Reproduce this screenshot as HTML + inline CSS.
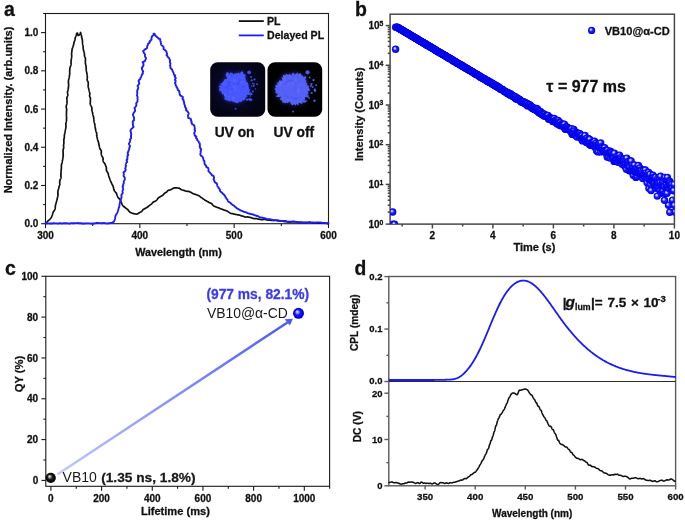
<!DOCTYPE html>
<html><head><meta charset="utf-8"><style>
html,body{margin:0;padding:0;background:#fff;}
body{width:685px;height:521px;overflow:hidden;font-family:"Liberation Sans", sans-serif;}
svg{display:block;will-change:transform;}
</style></head><body>
<svg width="685" height="521" viewBox="0 0 685 521" font-family='"Liberation Sans", sans-serif'><line x1="45.50" y1="223.70" x2="45.50" y2="228.10" stroke="#1a1a1a" stroke-width="1.1"/>
<text x="45.50" y="238.90" font-size="10" text-anchor="middle" font-weight="bold" fill="#111"  stroke="#111" stroke-width="0.28">300</text>
<line x1="92.67" y1="223.70" x2="92.67" y2="226.10" stroke="#1a1a1a" stroke-width="1.1"/>
<line x1="139.83" y1="223.70" x2="139.83" y2="228.10" stroke="#1a1a1a" stroke-width="1.1"/>
<text x="139.83" y="238.90" font-size="10" text-anchor="middle" font-weight="bold" fill="#111"  stroke="#111" stroke-width="0.28">400</text>
<line x1="187.00" y1="223.70" x2="187.00" y2="226.10" stroke="#1a1a1a" stroke-width="1.1"/>
<line x1="234.17" y1="223.70" x2="234.17" y2="228.10" stroke="#1a1a1a" stroke-width="1.1"/>
<text x="234.17" y="238.90" font-size="10" text-anchor="middle" font-weight="bold" fill="#111"  stroke="#111" stroke-width="0.28">500</text>
<line x1="281.33" y1="223.70" x2="281.33" y2="226.10" stroke="#1a1a1a" stroke-width="1.1"/>
<line x1="328.50" y1="223.70" x2="328.50" y2="228.10" stroke="#1a1a1a" stroke-width="1.1"/>
<text x="328.50" y="238.90" font-size="10" text-anchor="middle" font-weight="bold" fill="#111"  stroke="#111" stroke-width="0.28">600</text>
<line x1="45.50" y1="223.70" x2="41.10" y2="223.70" stroke="#1a1a1a" stroke-width="1.1"/>
<text x="38.40" y="227.30" font-size="10" text-anchor="end" font-weight="bold" fill="#111"  stroke="#111" stroke-width="0.28">0.0</text>
<line x1="45.50" y1="204.59" x2="43.10" y2="204.59" stroke="#1a1a1a" stroke-width="1.1"/>
<line x1="45.50" y1="185.48" x2="41.10" y2="185.48" stroke="#1a1a1a" stroke-width="1.1"/>
<text x="38.40" y="189.08" font-size="10" text-anchor="end" font-weight="bold" fill="#111"  stroke="#111" stroke-width="0.28">0.2</text>
<line x1="45.50" y1="166.37" x2="43.10" y2="166.37" stroke="#1a1a1a" stroke-width="1.1"/>
<line x1="45.50" y1="147.26" x2="41.10" y2="147.26" stroke="#1a1a1a" stroke-width="1.1"/>
<text x="38.40" y="150.86" font-size="10" text-anchor="end" font-weight="bold" fill="#111"  stroke="#111" stroke-width="0.28">0.4</text>
<line x1="45.50" y1="128.15" x2="43.10" y2="128.15" stroke="#1a1a1a" stroke-width="1.1"/>
<line x1="45.50" y1="109.05" x2="41.10" y2="109.05" stroke="#1a1a1a" stroke-width="1.1"/>
<text x="38.40" y="112.65" font-size="10" text-anchor="end" font-weight="bold" fill="#111"  stroke="#111" stroke-width="0.28">0.6</text>
<line x1="45.50" y1="89.94" x2="43.10" y2="89.94" stroke="#1a1a1a" stroke-width="1.1"/>
<line x1="45.50" y1="70.83" x2="41.10" y2="70.83" stroke="#1a1a1a" stroke-width="1.1"/>
<text x="38.40" y="74.43" font-size="10" text-anchor="end" font-weight="bold" fill="#111"  stroke="#111" stroke-width="0.28">0.8</text>
<line x1="45.50" y1="51.72" x2="43.10" y2="51.72" stroke="#1a1a1a" stroke-width="1.1"/>
<line x1="45.50" y1="32.61" x2="41.10" y2="32.61" stroke="#1a1a1a" stroke-width="1.1"/>
<text x="38.40" y="36.21" font-size="10" text-anchor="end" font-weight="bold" fill="#111"  stroke="#111" stroke-width="0.28">1.0</text>
<line x1="45.50" y1="13.50" x2="43.10" y2="13.50" stroke="#1a1a1a" stroke-width="1.1"/>
<rect x="45.50" y="13.50" width="283.00" height="210.20" fill="none" stroke="#1a1a1a" stroke-width="1.1"/>
<text x="4.00" y="16.40" font-size="19.5" text-anchor="start" font-weight="bold" fill="#111"  stroke="#111" stroke-width="0.28">a</text>
<text x="135.20" y="255.70" font-size="10.8" text-anchor="start" font-weight="bold" fill="#111"  stroke="#111" stroke-width="0.28">Wavelength (nm)</text>
<text transform="translate(11.6,110) rotate(-90)" font-size="11" text-anchor="middle" font-weight="bold" fill="#111" stroke="#111" stroke-width="0.28">Normalized Intensity. (arb.units)</text>
<path d="M45.45,223.14 L45.69,223.01 L46.01,222.86 L46.33,222.63 L46.67,222.34 L47.00,221.99 L47.33,221.62 L47.66,221.24 L47.99,220.87 L48.34,220.55 L48.62,220.29 L48.93,220.05 L49.25,219.80 L49.55,219.54 L49.86,219.27 L50.14,218.97 L50.39,218.65 L50.65,218.32 L50.89,217.97 L51.10,217.61 L51.33,217.24 L51.51,216.89 L51.67,216.52 L51.85,216.15 L52.01,215.76 L52.18,215.39 L52.32,214.99 L52.43,214.58 L52.55,214.17 L52.66,213.76 L52.75,213.35 L52.87,212.95 L53.01,212.57 L53.16,212.20 L53.36,211.86 L53.57,211.52 L53.78,211.18 L54.04,210.86 L54.25,210.52 L54.47,210.18 L54.68,209.83 L54.85,209.46 L54.98,209.07 L55.09,208.67 L55.18,208.26 L55.20,207.85 L55.25,207.44 L55.29,207.03 L55.32,206.61 L55.37,206.20 L55.41,205.78 L55.50,205.37 L55.58,204.95 L55.65,204.54 L55.74,204.13 L55.86,203.73 L55.95,203.32 L56.04,202.92 L56.16,202.53 L56.25,202.14 L56.38,201.76 L56.49,201.39 L56.61,201.01 L56.71,200.63 L56.83,200.25 L56.96,199.86 L57.06,199.46 L57.13,199.04 L57.21,198.61 L57.32,198.17 L57.42,197.70 L57.50,197.33 L57.62,196.95 L57.71,196.55 L57.83,196.14 L57.91,195.72 L57.99,195.29 L57.97,194.84 L57.95,194.39 L57.90,193.93 L57.88,193.48 L57.84,193.03 L57.84,192.59 L57.84,192.15 L57.87,191.73 L57.93,191.33 L58.00,190.94 L58.08,190.57 L58.18,190.11 L58.30,189.66 L58.45,189.24 L58.59,188.84 L58.71,188.44 L58.81,188.05 L58.87,187.66 L58.95,187.27 L59.01,186.89 L59.09,186.51 L59.19,186.12 L59.35,185.74 L59.49,185.35 L59.66,185.00 L59.77,184.69 L59.86,184.42 L59.84,184.13 L59.81,183.84 L59.76,183.54 L59.69,183.20 L59.65,182.84 L59.66,182.43 L59.69,181.96 L59.77,181.40 L59.89,180.75 L60.04,179.98 L60.13,179.71 L60.24,179.44 L60.39,179.16 L60.57,178.87 L60.72,178.56 L60.84,178.24 L60.94,177.91 L60.98,177.57 L61.01,177.21 L60.99,176.84 L60.95,176.46 L60.89,176.07 L60.88,175.68 L60.87,175.28 L60.86,174.88 L60.86,174.47 L60.90,174.06 L60.92,173.64 L60.97,173.21 L61.01,172.79 L61.05,172.36 L61.08,171.92 L61.11,171.48 L61.13,171.03 L61.14,170.59 L61.15,170.14 L61.21,169.69 L61.26,169.24 L61.32,168.79 L61.36,168.33 L61.40,167.88 L61.40,167.42 L61.39,166.96 L61.37,166.50 L61.36,166.04 L61.36,165.59 L61.41,165.14 L61.49,164.70 L61.59,164.26 L61.73,163.83 L61.86,163.40 L61.99,163.03 L62.08,162.66 L62.16,162.29 L62.22,161.91 L62.27,161.53 L62.32,161.14 L62.36,160.76 L62.45,160.37 L62.54,159.99 L62.64,159.60 L62.73,159.22 L62.78,158.82 L62.86,158.43 L62.88,158.03 L62.94,157.64 L62.99,157.24 L63.05,156.84 L63.12,156.44 L63.20,156.04 L63.24,155.64 L63.23,155.23 L63.21,154.82 L63.18,154.41 L63.13,153.99 L63.14,153.58 L63.12,153.17 L63.14,152.76 L63.14,152.35 L63.14,151.93 L63.12,151.52 L63.09,151.10 L63.05,150.69 L63.05,150.27 L63.10,149.86 L63.20,149.46 L63.32,149.06 L63.48,148.66 L63.59,148.26 L63.70,147.86 L63.72,147.45 L63.70,147.04 L63.65,146.63 L63.60,146.21 L63.56,145.80 L63.56,145.39 L63.61,144.99 L63.67,144.59 L63.74,144.19 L63.80,143.80 L63.85,143.40 L63.89,143.00 L63.88,142.60 L63.90,142.21 L63.88,141.81 L63.87,141.41 L63.83,141.02 L63.83,140.62 L63.85,140.23 L63.85,139.84 L63.91,139.45 L63.99,139.07 L64.07,138.69 L64.17,138.31 L64.25,137.93 L64.29,137.54 L64.31,137.15 L64.33,136.76 L64.33,136.37 L64.34,135.98 L64.35,135.59 L64.40,135.20 L64.47,134.82 L64.53,134.43 L64.61,134.04 L64.69,133.65 L64.76,133.26 L64.84,132.87 L64.91,132.48 L64.96,132.08 L65.02,131.69 L65.11,131.29 L65.19,130.89 L65.25,130.49 L65.32,130.09 L65.41,129.68 L65.53,129.28 L65.62,128.87 L65.72,128.46 L65.78,128.04 L65.86,127.62 L65.91,127.20 L65.95,126.77 L65.96,126.34 L65.95,125.90 L65.94,125.46 L65.91,125.02 L65.88,124.64 L65.87,124.27 L65.84,123.89 L65.88,123.52 L65.92,123.14 L66.00,122.76 L66.11,122.38 L66.23,121.99 L66.31,121.60 L66.39,121.21 L66.45,120.82 L66.48,120.42 L66.49,120.02 L66.49,119.61 L66.50,119.21 L66.52,118.80 L66.53,118.39 L66.54,117.98 L66.56,117.57 L66.54,117.16 L66.51,116.74 L66.50,116.33 L66.44,115.91 L66.42,115.49 L66.42,115.07 L66.43,114.66 L66.46,114.24 L66.46,113.82 L66.49,113.41 L66.51,112.99 L66.48,112.57 L66.47,112.15 L66.48,111.73 L66.51,111.32 L66.56,110.90 L66.62,110.49 L66.66,110.08 L66.68,109.67 L66.65,109.25 L66.57,108.84 L66.49,108.42 L66.39,108.01 L66.27,107.59 L66.22,107.19 L66.19,106.78 L66.21,106.38 L66.25,105.98 L66.35,105.59 L66.48,105.20 L66.60,104.82 L66.71,104.43 L66.83,104.05 L66.91,103.67 L66.94,103.29 L66.96,102.91 L66.96,102.54 L66.97,102.17 L66.99,101.80 L67.03,101.36 L67.05,100.92 L67.04,100.49 L67.02,100.05 L66.96,99.62 L66.88,99.19 L66.81,98.76 L66.75,98.33 L66.79,97.92 L66.88,97.51 L67.03,97.10 L67.22,96.71 L67.44,96.31 L67.63,95.92 L67.79,95.53 L67.87,95.13 L67.84,94.73 L67.80,94.33 L67.71,93.92 L67.62,93.52 L67.54,93.11 L67.47,92.71 L67.48,92.32 L67.53,91.93 L67.59,91.54 L67.69,91.16 L67.80,90.78 L67.88,90.40 L67.97,90.01 L68.09,89.64 L68.14,89.25 L68.21,88.87 L68.25,88.48 L68.33,88.10 L68.39,87.72 L68.42,87.33 L68.49,86.94 L68.54,86.56 L68.57,86.17 L68.59,85.78 L68.61,85.39 L68.60,84.99 L68.59,84.60 L68.56,84.20 L68.53,83.80 L68.51,83.40 L68.45,82.99 L68.42,82.58 L68.38,82.18 L68.36,81.77 L68.38,81.37 L68.40,80.97 L68.46,80.57 L68.53,80.17 L68.63,79.78 L68.71,79.38 L68.84,78.99 L68.96,78.60 L69.05,78.21 L69.16,77.81 L69.25,77.42 L69.33,77.02 L69.35,76.62 L69.38,76.22 L69.41,75.82 L69.44,75.42 L69.50,75.02 L69.58,74.62 L69.65,74.23 L69.70,73.83 L69.75,73.43 L69.76,73.03 L69.76,72.62 L69.73,72.22 L69.70,71.81 L69.68,71.41 L69.70,71.00 L69.73,70.60 L69.75,70.20 L69.76,69.80 L69.78,69.40 L69.83,69.00 L69.86,68.60 L69.88,68.19 L69.96,67.80 L70.05,67.40 L70.18,67.01 L70.32,66.62 L70.49,66.24 L70.63,65.85 L70.78,65.46 L70.89,65.07 L70.99,64.68 L71.03,64.28 L71.06,63.87 L71.04,63.47 L71.05,63.06 L71.05,62.65 L71.04,62.23 L71.05,61.80 L71.07,61.38 L71.10,60.95 L71.13,60.52 L71.17,60.08 L71.24,59.65 L71.29,59.21 L71.36,58.77 L71.42,58.33 L71.52,57.89 L71.59,57.45 L71.65,57.00 L71.70,56.56 L71.72,56.11 L71.70,55.65 L71.66,55.19 L71.63,54.73 L71.60,54.28 L71.57,53.82 L71.59,53.38 L71.63,52.94 L71.71,52.51 L71.78,52.08 L71.83,51.65 L71.91,51.23 L71.95,50.81 L71.97,50.39 L72.01,49.98 L72.07,49.58 L72.14,49.18 L72.23,48.79 L72.37,48.42 L72.48,48.05 L72.62,47.69 L72.72,47.33 L72.85,46.99 L72.95,46.65 L73.05,46.32 L73.15,45.99 L73.26,45.68 L73.38,45.38 L73.49,45.09 L73.59,44.81 L73.68,44.53 L73.72,44.26 L73.85,43.52 L73.97,42.86 L74.09,42.28 L74.23,41.77 L74.37,41.33 L74.53,40.96 L74.69,40.63 L74.84,40.34 L74.96,40.05 L75.03,39.77 L75.07,39.48 L75.06,39.17 L75.08,38.86 L75.10,38.55 L75.14,38.23 L75.22,37.90 L75.37,37.44 L75.55,36.96 L75.72,36.47 L75.92,35.99 L76.08,35.51 L76.22,35.04 L76.36,34.60 L76.48,34.18 L76.60,33.81 L76.73,33.50 L76.88,33.24 L77.13,33.04 L77.51,33.12 L77.65,33.61 L77.70,34.27 L77.76,34.91 L78.21,35.49 L79.01,35.25 L79.43,34.76 L79.72,34.28 L80.01,33.89 L80.35,33.30 L80.64,32.68 L80.47,32.49 L80.73,32.99 L80.77,33.11 L80.81,33.32 L80.86,33.56 L80.93,33.81 L81.00,34.08 L81.09,34.36 L81.21,34.66 L81.30,34.99 L81.41,35.32 L81.48,35.68 L81.54,36.06 L81.57,36.46 L81.64,36.86 L81.70,37.28 L81.79,37.71 L81.90,38.14 L82.02,38.59 L82.15,39.05 L82.26,39.52 L82.35,40.00 L82.42,40.50 L82.45,41.01 L82.47,41.53 L82.48,42.06 L82.51,42.59 L82.53,43.13 L82.58,43.68 L82.67,44.22 L82.75,44.54 L82.86,44.86 L82.96,45.18 L83.02,45.52 L83.09,45.87 L83.12,46.22 L83.12,46.59 L83.10,46.97 L83.11,47.34 L83.10,47.73 L83.15,48.11 L83.20,48.49 L83.27,48.88 L83.35,49.26 L83.42,49.66 L83.50,50.05 L83.59,50.45 L83.67,50.85 L83.78,51.25 L83.91,51.65 L84.04,52.06 L84.15,52.47 L84.27,52.87 L84.34,53.29 L84.41,53.71 L84.43,54.14 L84.41,54.58 L84.39,55.02 L84.42,55.45 L84.50,55.87 L84.61,56.29 L84.75,56.71 L84.93,57.12 L85.14,57.52 L85.31,57.93 L85.44,58.35 L85.51,58.77 L85.50,59.21 L85.46,59.65 L85.42,60.08 L85.39,60.52 L85.34,60.95 L85.33,61.37 L85.34,61.79 L85.35,62.21 L85.37,62.62 L85.42,63.03 L85.47,63.43 L85.52,63.83 L85.60,64.23 L85.69,64.62 L85.80,65.01 L85.91,65.41 L85.96,65.81 L86.03,66.20 L86.05,66.61 L86.10,67.01 L86.15,67.41 L86.16,67.81 L86.17,68.22 L86.18,68.62 L86.20,69.02 L86.21,69.43 L86.23,69.83 L86.26,70.23 L86.30,70.63 L86.38,71.03 L86.46,71.43 L86.56,71.82 L86.64,72.21 L86.73,72.61 L86.83,73.00 L86.91,73.40 L86.99,73.80 L87.04,74.20 L87.10,74.59 L87.13,75.00 L87.15,75.40 L87.22,75.80 L87.26,76.20 L87.30,76.60 L87.33,77.00 L87.35,77.40 L87.32,77.81 L87.24,78.23 L87.19,78.64 L87.12,79.05 L87.09,79.46 L87.11,79.87 L87.23,80.26 L87.39,80.64 L87.57,81.03 L87.79,81.41 L87.98,81.79 L88.11,82.18 L88.21,82.57 L88.28,82.97 L88.29,83.37 L88.26,83.78 L88.25,84.18 L88.23,84.58 L88.21,84.99 L88.19,85.39 L88.19,85.78 L88.20,86.18 L88.22,86.57 L88.26,86.96 L88.32,87.34 L88.41,87.73 L88.52,88.11 L88.63,88.48 L88.75,88.86 L88.85,89.24 L88.96,89.62 L89.03,90.00 L89.10,90.39 L89.18,90.77 L89.24,91.16 L89.34,91.54 L89.45,91.92 L89.58,92.30 L89.68,92.68 L89.78,93.07 L89.84,93.46 L89.84,93.87 L89.79,94.28 L89.72,94.69 L89.65,95.11 L89.59,95.53 L89.58,95.94 L89.66,96.34 L89.80,96.74 L89.98,97.13 L90.16,97.52 L90.31,97.92 L90.42,98.33 L90.47,98.75 L90.46,99.18 L90.42,99.62 L90.38,100.07 L90.37,100.51 L90.36,100.95 L90.39,101.40 L90.36,101.85 L90.33,102.23 L90.30,102.62 L90.25,103.01 L90.21,103.41 L90.22,103.79 L90.30,104.18 L90.42,104.55 L90.60,104.92 L90.77,105.30 L90.97,105.67 L91.19,106.04 L91.38,106.42 L91.54,106.80 L91.66,107.20 L91.75,107.60 L91.83,108.00 L91.90,108.41 L91.90,108.83 L91.92,109.25 L91.93,109.67 L91.95,110.09 L92.02,110.50 L92.09,110.92 L92.19,111.33 L92.29,111.74 L92.41,112.15 L92.52,112.56 L92.62,112.97 L92.69,113.39 L92.73,113.81 L92.80,114.23 L92.88,114.64 L93.00,115.05 L93.13,115.46 L93.24,115.87 L93.37,116.27 L93.49,116.68 L93.57,117.09 L93.67,117.49 L93.74,117.91 L93.76,118.32 L93.81,118.73 L93.86,119.14 L93.92,119.55 L93.92,119.97 L93.95,120.37 L93.98,120.78 L94.02,121.18 L94.09,121.58 L94.15,121.97 L94.28,122.35 L94.36,122.73 L94.48,123.11 L94.61,123.48 L94.70,123.85 L94.78,124.22 L94.83,124.59 L94.90,124.96 L94.93,125.40 L94.98,125.84 L95.02,126.27 L95.07,126.70 L95.15,127.11 L95.22,127.53 L95.30,127.94 L95.37,128.36 L95.44,128.77 L95.52,129.17 L95.59,129.58 L95.67,129.98 L95.74,130.38 L95.84,130.77 L95.94,131.16 L96.07,131.54 L96.21,131.92 L96.37,132.29 L96.52,132.67 L96.63,133.05 L96.72,133.43 L96.74,133.82 L96.73,134.23 L96.70,134.63 L96.65,135.04 L96.67,135.43 L96.72,135.82 L96.81,136.19 L96.92,136.56 L97.07,136.93 L97.16,137.31 L97.23,137.69 L97.28,138.07 L97.32,138.46 L97.38,138.84 L97.47,139.22 L97.58,139.59 L97.72,139.96 L97.86,140.33 L98.00,140.70 L98.12,141.07 L98.22,141.45 L98.31,141.83 L98.43,142.21 L98.53,142.59 L98.63,142.98 L98.72,143.36 L98.82,143.75 L98.88,144.15 L98.95,144.54 L99.03,144.93 L99.10,145.32 L99.20,145.71 L99.29,146.10 L99.37,146.49 L99.46,146.87 L99.55,147.26 L99.63,147.65 L99.72,148.04 L99.83,148.43 L99.99,148.80 L100.20,149.15 L100.44,149.50 L100.67,149.85 L100.91,150.19 L101.12,150.55 L101.27,150.92 L101.35,151.31 L101.35,151.73 L101.34,152.15 L101.30,152.58 L101.27,153.01 L101.26,153.43 L101.27,153.85 L101.33,154.25 L101.39,154.65 L101.50,155.04 L101.63,155.42 L101.79,155.80 L101.96,156.16 L102.18,156.52 L102.41,156.87 L102.63,157.22 L102.83,157.58 L102.98,157.95 L103.08,158.34 L103.14,158.75 L103.14,159.17 L103.11,159.61 L103.07,160.04 L103.08,160.47 L103.10,160.88 L103.19,161.28 L103.34,161.65 L103.55,162.01 L103.80,162.35 L104.09,162.68 L104.39,163.01 L104.63,163.36 L104.86,163.71 L105.05,164.07 L105.22,164.44 L105.34,164.83 L105.46,165.21 L105.61,165.59 L105.76,165.96 L105.93,166.33 L106.11,166.70 L106.24,167.08 L106.34,167.47 L106.38,167.88 L106.40,168.30 L106.38,168.73 L106.34,169.16 L106.32,169.59 L106.36,170.01 L106.43,170.41 L106.59,170.78 L106.79,171.14 L107.00,171.50 L107.22,171.85 L107.46,172.20 L107.68,172.55 L107.86,172.92 L108.01,173.29 L108.16,173.67 L108.28,174.06 L108.40,174.44 L108.48,174.85 L108.57,175.24 L108.66,175.65 L108.77,176.04 L108.89,176.43 L109.02,176.81 L109.16,177.20 L109.32,177.58 L109.48,177.95 L109.63,178.33 L109.74,178.73 L109.86,179.12 L109.97,179.52 L110.12,179.90 L110.27,180.29 L110.43,180.67 L110.58,181.06 L110.77,181.43 L110.96,181.80 L111.15,182.17 L111.31,182.55 L111.46,182.92 L111.62,183.29 L111.79,183.65 L111.97,184.02 L112.13,184.40 L112.32,184.78 L112.53,185.14 L112.73,185.51 L112.93,185.89 L113.11,186.28 L113.25,186.69 L113.37,187.11 L113.47,187.55 L113.55,187.99 L113.61,188.45 L113.70,188.89 L113.79,189.34 L113.94,189.76 L114.08,190.18 L114.28,190.58 L114.53,190.95 L114.81,191.31 L115.10,191.65 L115.41,191.99 L115.73,192.32 L116.00,192.67 L116.24,193.04 L116.46,193.41 L116.63,193.81 L116.79,194.21 L116.93,194.62 L117.09,195.01 L117.21,195.42 L117.35,195.82 L117.50,196.21 L117.63,196.60 L117.77,196.99 L117.92,197.36 L118.16,197.68 L118.41,197.98 L118.72,198.26 L119.04,198.51 L119.36,198.76 L119.64,199.02 L119.88,199.30 L120.06,199.61 L120.19,199.93 L120.30,200.26 L120.41,200.58 L120.55,200.87 L120.68,201.16 L120.81,201.44 L120.93,201.72 L121.19,202.28 L121.47,202.80 L121.68,203.34 L121.89,203.86 L122.09,204.36 L122.34,204.80 L122.59,205.23 L122.86,205.61 L123.16,205.94 L123.46,206.25 L123.77,206.53 L124.09,206.78 L124.41,207.02 L124.70,207.25 L124.97,207.50 L125.26,207.71 L125.52,207.93 L125.78,208.14 L126.04,208.34 L126.32,208.51 L126.57,208.70 L126.84,208.87 L127.10,209.04 L127.36,209.21 L127.57,209.43 L127.96,209.88 L128.31,210.29 L128.62,210.68 L128.90,211.04 L129.16,211.37 L129.42,211.67 L129.70,211.93 L129.98,212.16 L130.30,212.35 L130.61,212.54 L130.95,212.71 L131.31,212.88 L131.70,213.03 L132.10,213.18 L132.51,213.32 L132.94,213.42 L133.36,213.55 L133.79,213.63 L134.21,213.73 L134.62,213.83 L135.02,213.91 L135.42,213.98 L135.82,214.03 L136.21,214.05 L136.60,214.03 L136.95,214.00 L137.27,213.93 L137.57,213.83 L137.88,213.69 L138.16,213.46 L138.50,213.26 L138.87,213.00 L139.33,212.72 L139.88,212.40 L140.53,212.05 L140.81,211.96 L141.08,211.82 L141.35,211.67 L141.61,211.47 L141.85,211.22 L142.07,210.92 L142.27,210.58 L142.52,210.28 L142.76,209.96 L143.05,209.70 L143.37,209.46 L143.71,209.24 L144.07,209.02 L144.45,208.82 L144.84,208.63 L145.21,208.41 L145.58,208.18 L145.97,207.96 L146.36,207.73 L146.77,207.53 L147.15,207.29 L147.53,207.04 L147.91,206.80 L148.26,206.51 L148.59,206.21 L148.93,205.92 L149.26,205.61 L149.61,205.33 L149.96,205.07 L150.31,204.81 L150.68,204.58 L151.03,204.33 L151.32,204.08 L151.62,203.82 L151.90,203.53 L152.17,203.21 L152.45,202.90 L152.73,202.59 L153.04,202.30 L153.39,202.07 L153.77,201.85 L154.16,201.66 L154.58,201.49 L154.98,201.30 L155.38,201.11 L155.76,200.90 L156.11,200.64 L156.44,200.36 L156.73,200.04 L157.00,199.70 L157.26,199.35 L157.51,198.99 L157.76,198.63 L158.02,198.30 L158.30,197.99 L158.58,197.70 L158.91,197.47 L159.25,197.27 L159.58,197.06 L159.92,196.88 L160.24,196.68 L160.56,196.50 L160.87,196.32 L161.18,196.16 L161.49,196.00 L161.77,195.84 L162.05,195.69 L162.52,195.35 L162.96,195.02 L163.32,194.64 L163.64,194.26 L163.96,193.91 L164.26,193.58 L164.57,193.29 L164.90,193.06 L165.23,192.85 L165.57,192.67 L165.90,192.50 L166.23,192.33 L166.51,192.10 L166.77,191.85 L167.01,191.55 L167.25,191.26 L167.52,190.98 L167.82,190.72 L168.20,190.48 L168.61,190.28 L169.05,190.13 L169.51,190.01 L169.97,189.90 L170.41,189.77 L170.85,189.63 L171.26,189.48 L171.63,189.27 L171.99,189.06 L172.33,188.84 L172.65,188.61 L172.97,188.40 L173.30,188.23 L173.61,188.09 L173.93,188.00 L174.40,187.93 L174.82,187.90 L175.21,187.89 L175.57,187.92 L175.93,187.96 L176.30,187.97 L176.70,187.97 L177.12,188.00 L177.57,188.01 L178.06,188.04 L178.39,188.06 L178.70,188.10 L179.00,188.16 L179.29,188.26 L179.56,188.44 L179.83,188.61 L180.12,188.79 L180.42,189.00 L180.74,189.23 L181.09,189.45 L181.50,189.64 L181.96,189.82 L182.48,189.99 L183.06,190.16 L183.72,190.33 L184.00,190.41 L184.30,190.50 L184.60,190.61 L184.90,190.76 L185.21,190.91 L185.54,191.05 L185.89,191.16 L186.27,191.22 L186.66,191.26 L187.08,191.28 L187.49,191.30 L187.92,191.32 L188.35,191.37 L188.77,191.45 L189.19,191.55 L189.59,191.72 L189.99,191.91 L190.39,192.09 L190.79,192.31 L191.18,192.53 L191.58,192.76 L191.98,192.97 L192.38,193.19 L192.78,193.41 L193.18,193.64 L193.58,193.84 L193.99,194.03 L194.42,194.16 L194.84,194.29 L195.28,194.39 L195.70,194.51 L196.12,194.63 L196.52,194.77 L196.92,194.93 L197.30,195.08 L197.69,195.22 L198.06,195.38 L198.45,195.54 L198.83,195.72 L199.20,195.91 L199.54,196.15 L199.88,196.41 L200.19,196.70 L200.51,196.96 L200.84,197.20 L201.18,197.44 L201.52,197.65 L201.87,197.87 L202.20,198.11 L202.53,198.34 L202.85,198.60 L203.16,198.87 L203.47,199.14 L203.81,199.37 L204.14,199.59 L204.49,199.81 L204.84,200.02 L205.20,200.22 L205.55,200.43 L205.89,200.65 L206.25,200.85 L206.61,201.05 L206.96,201.25 L207.32,201.46 L207.69,201.64 L208.05,201.83 L208.40,202.04 L208.75,202.26 L209.10,202.47 L209.46,202.66 L209.83,202.84 L210.22,202.99 L210.60,203.13 L210.98,203.29 L211.34,203.46 L211.67,203.70 L211.98,203.98 L212.27,204.30 L212.54,204.67 L212.80,205.03 L213.09,205.37 L213.40,205.67 L213.73,205.93 L214.08,206.13 L214.46,206.31 L214.84,206.47 L215.23,206.62 L215.62,206.77 L216.00,206.92 L216.39,207.08 L216.77,207.24 L217.17,207.36 L217.57,207.48 L217.96,207.62 L218.35,207.75 L218.74,207.88 L219.12,208.05 L219.49,208.23 L219.85,208.41 L220.22,208.59 L220.59,208.75 L220.97,208.89 L221.36,209.01 L221.75,209.14 L222.13,209.27 L222.51,209.40 L222.88,209.53 L223.24,209.70 L223.63,209.86 L224.02,209.99 L224.40,210.15 L224.78,210.29 L225.17,210.42 L225.55,210.55 L225.94,210.66 L226.31,210.79 L226.68,210.91 L227.05,211.05 L227.40,211.23 L227.75,211.42 L228.09,211.62 L228.41,211.86 L228.74,212.11 L229.06,212.35 L229.39,212.59 L229.73,212.82 L230.08,213.03 L230.44,213.20 L230.82,213.35 L231.21,213.46 L231.61,213.54 L232.03,213.59 L232.45,213.66 L232.86,213.74 L233.27,213.85 L233.69,213.96 L234.11,214.06 L234.53,214.18 L234.96,214.29 L235.41,214.37 L235.86,214.45 L236.32,214.52 L236.68,214.59 L237.04,214.67 L237.41,214.73 L237.77,214.82 L238.15,214.87 L238.53,214.90 L238.91,214.98 L239.29,215.07 L239.67,215.17 L240.04,215.31 L240.41,215.47 L240.79,215.62 L241.17,215.77 L241.57,215.88 L241.96,215.97 L242.37,216.05 L242.77,216.12 L243.17,216.26 L243.56,216.42 L243.96,216.56 L244.35,216.74 L244.75,216.89 L245.16,216.99 L245.58,217.04 L246.02,217.03 L246.46,216.98 L246.89,216.94 L247.33,216.92 L247.76,216.92 L248.18,216.97 L248.60,217.05 L249.00,217.17 L249.41,217.29 L249.82,217.38 L250.23,217.48 L250.64,217.59 L251.05,217.67 L251.46,217.77 L251.86,217.90 L252.26,218.02 L252.65,218.18 L253.04,218.34 L253.43,218.45 L253.83,218.53 L254.23,218.57 L254.64,218.58 L255.05,218.56 L255.46,218.55 L255.87,218.54 L256.27,218.57 L256.66,218.63 L257.05,218.73 L257.44,218.85 L257.83,218.94 L258.22,219.03 L258.61,219.13 L259.00,219.19 L259.39,219.25 L259.78,219.35 L260.17,219.41 L260.56,219.49 L260.96,219.55 L261.35,219.60 L261.75,219.65 L262.15,219.64 L262.55,219.60 L262.96,219.56 L263.37,219.50 L263.77,219.47 L264.18,219.45 L264.58,219.46 L264.98,219.46 L265.37,219.53 L265.76,219.61 L266.16,219.71 L266.55,219.80 L266.95,219.87 L267.34,219.97 L267.74,220.03 L268.14,220.07 L268.55,220.09 L268.95,220.11 L269.36,220.15 L269.76,220.17 L270.17,220.23 L270.58,220.28 L270.98,220.33 L271.39,220.38 L271.79,220.41 L272.18,220.42 L272.58,220.41 L272.98,220.39 L273.38,220.38 L273.78,220.35 L274.18,220.33 L274.58,220.32 L274.98,220.33 L275.37,220.36 L275.77,220.43 L276.16,220.49 L276.55,220.58 L276.95,220.67 L277.34,220.76 L277.74,220.83 L278.14,220.90 L278.54,220.92 L278.94,220.94 L279.34,220.95 L279.75,220.97 L280.15,220.97 L280.56,220.97 L280.96,220.98 L281.37,221.01 L281.77,221.05 L282.17,221.09 L282.58,221.17 L282.98,221.25 L283.38,221.35 L283.79,221.45 L284.19,221.53 L284.60,221.58 L285.01,221.61 L285.42,221.61 L285.84,221.61 L286.25,221.65 L286.66,221.69 L287.07,221.75 L287.48,221.86 L287.89,221.94 L288.31,222.03 L288.72,222.10 L289.14,222.08 L289.56,222.08 L289.99,222.01 L290.38,221.91 L290.78,221.83 L291.17,221.76 L291.57,221.68 L291.97,221.67 L292.36,221.66 L292.76,221.65 L293.16,221.65 L293.56,221.63 L293.96,221.62 L294.36,221.63 L294.76,221.61 L295.16,221.67 L295.56,221.75 L295.96,221.84 L296.36,221.96 L296.76,222.10 L297.16,222.21 L297.57,222.30 L297.97,222.37 L298.38,222.43 L298.78,222.47 L299.19,222.50 L299.60,222.52 L300.00,222.52 L300.41,222.49 L300.82,222.47 L301.23,222.45 L301.64,222.44 L302.05,222.42 L302.46,222.43 L302.86,222.48 L303.26,222.55 L303.67,222.58 L304.07,222.63 L304.47,222.66 L304.87,222.70 L305.28,222.71 L305.68,222.72 L306.08,222.73 L306.48,222.72 L306.87,222.69 L307.27,222.63 L307.67,222.55 L308.07,222.41 L308.47,222.30 L308.86,222.23 L309.25,222.18 L309.64,222.19 L310.02,222.24 L310.44,222.39 L310.86,222.57 L311.29,222.74 L311.72,222.91 L312.16,223.03 L312.61,223.10 L313.06,223.13 L313.52,223.12 L313.98,223.04 L314.45,222.97 L314.91,222.92 L315.38,222.90 L315.85,222.92 L316.31,222.95 L316.78,223.00 L317.24,223.03 L317.71,223.07 L318.17,223.08 L318.63,223.07 L319.09,223.05 L319.55,223.03 L320.00,223.05 L320.45,223.07 L320.89,223.06 L321.33,223.04 L321.77,222.99 L322.19,222.91 L322.62,222.85 L323.03,222.79 L323.43,222.74 L323.83,222.74 L324.22,222.81 L324.59,222.90 L324.96,223.02 L325.31,223.11 L325.65,223.21 L325.99,223.32 L326.31,223.40 L326.62,223.47 L326.91,223.54 L327.20,223.58 L327.46,223.61 L327.72,223.65 L327.96,223.66 L328.18,223.66 L328.39,223.67" fill="none" stroke="#111" stroke-width="1.7" stroke-linejoin="round" stroke-linecap="round" />
<path d="M45.60,223.40 L45.78,223.39 L45.97,223.40 L46.16,223.44 L46.36,223.46 L46.57,223.48 L46.79,223.48 L47.01,223.42 L47.24,223.37 L47.47,223.38 L47.71,223.43 L47.96,223.45 L48.22,223.43 L48.48,223.40 L48.75,223.36 L49.02,223.34 L49.30,223.38 L49.58,223.42 L49.87,223.49 L50.17,223.54 L50.47,223.53 L50.77,223.53 L51.08,223.52 L51.40,223.53 L51.72,223.55 L52.04,223.53 L52.37,223.46 L52.70,223.37 L53.04,223.29 L53.38,223.26 L53.73,223.24 L54.08,223.26 L54.43,223.29 L54.79,223.33 L55.15,223.38 L55.52,223.40 L55.88,223.39 L56.25,223.36 L56.63,223.35 L57.00,223.39 L57.38,223.47 L57.77,223.53 L58.15,223.50 L58.54,223.41 L58.93,223.31 L59.32,223.26 L59.71,223.26 L60.11,223.28 L60.51,223.31 L60.91,223.37 L61.31,223.42 L61.71,223.49 L62.11,223.48 L62.52,223.40 L62.92,223.32 L63.33,223.23 L63.74,223.19 L64.15,223.24 L64.56,223.26 L64.97,223.24 L65.38,223.19 L65.79,223.18 L66.20,223.18 L66.61,223.23 L67.02,223.30 L67.43,223.36 L67.84,223.38 L68.25,223.40 L68.65,223.44 L69.06,223.51 L69.47,223.57 L69.87,223.55 L70.28,223.46 L70.68,223.32 L71.08,223.18 L71.48,223.10 L71.88,223.10 L72.28,223.17 L72.67,223.25 L73.07,223.28 L73.46,223.24 L73.85,223.19 L74.23,223.13 L74.62,223.10 L75.00,223.10 L75.38,223.11 L75.75,223.16 L76.13,223.17 L76.50,223.15 L76.86,223.12 L77.23,223.08 L77.59,223.06 L77.94,223.06 L78.30,223.05 L78.65,223.08 L78.99,223.14 L79.33,223.24 L79.67,223.32 L80.00,223.33 L80.38,223.29 L80.76,223.25 L81.14,223.30 L81.52,223.43 L81.91,223.53 L82.30,223.53 L82.69,223.47 L83.09,223.43 L83.48,223.45 L83.88,223.50 L84.27,223.54 L84.67,223.53 L85.08,223.48 L85.48,223.40 L85.88,223.35 L86.29,223.32 L86.69,223.33 L87.10,223.34 L87.50,223.35 L87.91,223.36 L88.32,223.39 L88.73,223.41 L89.13,223.41 L89.54,223.42 L89.95,223.45 L90.36,223.54 L90.76,223.59 L91.17,223.59 L91.58,223.54 L91.99,223.48 L92.39,223.45 L92.80,223.45 L93.20,223.45 L93.60,223.46 L94.00,223.46 L94.40,223.41 L94.80,223.34 L95.20,223.24 L95.60,223.16 L95.99,223.08 L96.38,223.02 L96.78,222.97 L97.16,222.90 L97.55,222.87 L97.93,222.88 L98.31,222.94 L98.69,223.04 L99.07,223.14 L99.44,223.17 L99.81,223.13 L100.18,223.08 L100.55,223.07 L100.91,223.12 L101.27,223.20 L101.62,223.26 L101.97,223.24 L102.32,223.17 L102.66,223.08 L103.00,223.02 L103.34,223.04 L103.67,223.05 L104.00,223.05 L104.32,223.06 L104.64,223.07 L104.95,223.16 L105.26,223.25 L105.57,223.32 L105.87,223.35 L106.16,223.36 L106.45,223.37 L106.74,223.43 L107.02,223.47 L107.29,223.46 L107.56,223.40 L107.82,223.29 L108.08,223.20 L108.33,223.17 L108.57,223.21 L108.81,223.32 L109.05,223.39 L109.27,223.33 L109.49,223.27 L109.70,223.20 L109.91,223.16 L110.11,223.11 L110.29,223.03 L112.28,222.88 L113.09,222.83 L113.13,222.96 L112.86,222.71 L112.56,222.49 L112.58,222.34 L112.79,222.22 L113.05,222.14 L113.33,222.07 L113.63,221.94 L113.86,221.68 L114.05,221.30 L114.25,220.82 L114.54,220.21 L114.64,219.98 L114.74,219.74 L114.79,219.46 L114.85,219.17 L114.91,218.87 L115.01,218.56 L115.10,218.24 L115.17,217.90 L115.24,217.55 L115.29,217.18 L115.33,216.80 L115.38,216.42 L115.47,216.04 L115.59,215.67 L115.75,215.31 L115.93,214.96 L116.14,214.62 L116.35,214.28 L116.56,213.93 L116.77,213.58 L116.98,213.24 L117.18,212.89 L117.34,212.53 L117.50,212.17 L117.63,211.81 L117.75,211.46 L117.85,211.13 L117.95,210.81 L118.04,210.50 L118.11,210.18 L118.20,209.88 L118.29,209.58 L118.38,209.27 L118.44,208.97 L118.48,208.65 L118.55,208.35 L118.66,208.06 L118.79,207.77 L118.94,207.49 L119.10,207.21 L119.23,206.91 L119.32,206.59 L119.36,206.24 L119.40,205.88 L119.43,205.51 L119.42,205.12 L119.43,204.72 L119.50,204.33 L119.61,203.93 L119.70,203.51 L119.81,203.08 L119.94,202.64 L120.12,202.18 L120.26,201.69 L120.35,201.43 L120.44,201.17 L120.54,200.90 L120.61,200.63 L120.66,200.34 L120.71,200.04 L120.80,199.75 L120.91,199.46 L121.01,199.16 L121.09,198.85 L121.23,198.55 L121.36,198.24 L121.44,197.91 L121.45,197.57 L121.45,197.23 L121.47,196.89 L121.51,196.54 L121.50,196.19 L121.45,195.82 L121.40,195.45 L121.43,195.10 L121.53,194.75 L121.71,194.40 L121.93,194.06 L122.18,193.73 L122.45,193.39 L122.64,193.04 L122.71,192.67 L122.69,192.29 L122.59,191.89 L122.53,191.50 L122.55,191.12 L122.57,190.74 L122.64,190.37 L122.85,190.01 L123.08,189.66 L123.24,189.29 L123.20,188.90 L123.05,188.50 L122.99,188.11 L122.94,187.72 L122.84,187.32 L122.70,186.92 L122.60,186.52 L122.74,186.16 L123.00,185.82 L123.26,185.48 L123.30,185.11 L123.20,184.72 L123.20,184.35 L123.37,184.00 L123.56,183.66 L123.75,183.33 L123.86,182.98 L123.90,182.63 L123.87,182.27 L123.76,181.90 L123.70,181.53 L123.83,181.19 L124.06,180.87 L124.29,180.55 L124.47,180.22 L124.55,179.87 L124.64,179.53 L124.74,179.19 L124.82,178.84 L124.88,178.49 L124.81,178.13 L124.68,177.75 L124.50,177.37 L124.28,176.97 L124.04,176.58 L123.76,176.18 L123.59,175.80 L123.60,175.44 L123.79,175.12 L123.91,174.78 L123.85,174.41 L123.78,174.04 L123.72,173.68 L123.65,173.31 L123.59,172.94 L123.50,172.57 L123.67,172.24 L124.00,171.93 L124.55,171.66 L124.98,171.37 L125.16,171.04 L125.20,170.69 L125.42,170.36 L125.66,170.04 L125.74,169.70 L125.57,169.31 L125.40,168.93 L125.22,168.55 L125.30,168.20 L125.41,167.86 L125.54,167.52 L125.64,167.18 L125.58,166.82 L125.67,166.47 L125.88,166.15 L126.03,165.81 L126.01,165.45 L125.81,165.07 L125.71,164.69 L125.76,164.34 L125.83,164.00 L125.97,163.66 L126.09,163.32 L126.18,162.98 L126.40,162.66 L126.72,162.35 L127.05,162.04 L127.21,161.71 L127.14,161.34 L126.83,160.94 L126.61,160.54 L126.58,160.18 L126.78,159.86 L127.15,159.56 L127.38,159.23 L127.41,158.88 L127.30,158.51 L127.25,158.14 L127.39,157.81 L127.47,157.46 L127.43,157.10 L127.39,156.74 L127.29,156.36 L127.36,156.02 L127.63,155.70 L127.97,155.39 L128.23,155.08 L128.23,154.72 L127.96,154.32 L127.74,153.93 L127.73,153.57 L127.71,153.21 L127.75,152.86 L127.86,152.52 L128.05,152.19 L128.34,151.88 L128.40,151.53 L128.44,151.18 L128.50,150.83 L128.61,150.49 L128.76,150.16 L128.94,149.83 L129.05,149.49 L129.16,149.15 L129.17,148.79 L129.31,148.46 L129.38,148.11 L129.40,147.76 L129.44,147.41 L129.61,147.07 L129.77,146.74 L129.93,146.41 L130.04,146.07 L129.88,145.69 L129.58,145.28 L129.38,144.90 L129.17,144.51 L129.07,144.13 L128.97,143.76 L128.99,143.41 L129.17,143.08 L129.40,142.76 L129.58,142.43 L129.71,142.09 L129.82,141.75 L129.99,141.42 L130.16,141.09 L130.25,140.74 L130.21,140.38 L130.07,140.00 L129.96,139.63 L130.11,139.30 L130.42,138.99 L130.79,138.69 L131.09,138.38 L131.15,138.03 L131.10,137.66 L131.03,137.30 L130.99,136.93 L130.98,136.58 L130.95,136.21 L130.95,135.86 L131.01,135.51 L131.12,135.17 L131.23,134.83 L131.27,134.48 L131.21,134.11 L131.04,133.73 L130.96,133.36 L130.96,133.00 L130.97,132.64 L130.93,132.28 L130.83,131.91 L130.69,131.53 L130.53,131.15 L130.43,130.77 L130.53,130.43 L130.74,130.10 L130.93,129.78 L131.09,129.44 L131.23,129.11 L131.50,128.79 L131.88,128.49 L132.31,128.20 L132.58,127.89 L132.87,127.57 L133.20,127.27 L133.58,126.97 L133.58,126.61 L133.30,126.20 L133.04,125.80 L132.89,125.42 L132.97,125.07 L132.94,124.72 L132.90,124.35 L132.86,123.99 L132.78,123.62 L132.76,123.26 L132.82,122.91 L132.88,122.56 L132.79,122.18 L132.70,121.80 L132.72,121.44 L132.98,121.12 L133.43,120.82 L133.86,120.53 L134.00,120.18 L134.03,119.82 L133.96,119.44 L133.96,119.07 L134.06,118.72 L134.10,118.36 L134.06,117.99 L133.94,117.60 L133.86,117.22 L133.72,116.83 L133.62,116.45 L133.42,116.05 L133.18,115.64 L133.02,115.25 L132.98,114.88 L133.01,114.52 L133.07,114.17 L133.26,113.83 L133.42,113.50 L133.57,113.16 L133.74,112.83 L133.91,112.49 L134.15,112.17 L134.45,111.86 L134.76,111.56 L134.98,111.24 L135.07,110.90 L135.05,110.55 L135.03,110.19 L135.02,109.84 L135.00,109.49 L134.89,109.13 L134.76,108.77 L134.55,108.39 L134.49,108.05 L134.58,107.72 L134.91,107.44 L135.23,107.16 L135.51,106.88 L135.72,106.58 L135.90,106.29 L136.06,105.99 L136.19,105.70 L136.32,105.31 L136.37,104.92 L136.37,104.53 L136.24,104.12 L136.17,103.72 L136.24,103.35 L136.42,103.00 L136.60,102.65 L136.87,102.32 L137.13,101.99 L137.36,101.66 L137.46,101.31 L137.43,100.95 L137.45,100.59 L137.48,100.24 L137.57,99.90 L137.60,99.55 L137.64,99.21 L137.53,98.84 L137.42,98.48 L137.39,98.13 L137.44,97.79 L137.49,97.46 L137.53,97.12 L137.51,96.78 L137.40,96.42 L137.25,96.05 L137.07,95.68 L136.96,95.32 L136.96,94.98 L137.06,94.66 L137.16,94.33 L137.25,94.00 L137.26,93.66 L137.30,93.32 L137.31,92.98 L137.23,92.62 L137.16,92.26 L137.15,91.91 L137.26,91.57 L137.25,91.22 L137.17,90.85 L137.21,90.50 L137.33,90.16 L137.53,89.83 L137.79,89.52 L137.90,89.17 L137.90,88.81 L137.92,88.44 L138.11,88.11 L138.27,87.77 L138.27,87.41 L138.04,86.99 L137.77,86.56 L137.64,86.16 L137.66,85.79 L137.85,85.46 L138.03,85.12 L138.31,84.81 L138.54,84.48 L138.88,84.18 L139.08,83.85 L139.20,83.50 L139.18,83.12 L139.18,82.75 L139.08,82.35 L138.85,81.93 L138.63,81.51 L138.53,81.12 L138.58,80.76 L138.71,80.42 L139.00,80.11 L139.33,79.82 L139.77,79.55 L140.12,79.26 L140.31,78.93 L140.33,78.57 L140.33,78.21 L140.51,77.89 L140.71,77.58 L140.95,77.27 L141.04,76.94 L141.22,76.62 L141.35,76.30 L141.42,75.96 L141.53,75.64 L141.69,75.33 L141.87,75.02 L142.02,74.67 L142.19,74.32 L142.50,74.01 L142.75,73.69 L142.87,73.34 L142.85,72.97 L142.77,72.58 L142.77,72.21 L142.90,71.87 L143.07,71.54 L143.08,71.18 L142.82,70.76 L142.49,70.33 L142.21,69.91 L142.11,69.52 L142.08,69.16 L142.04,68.80 L141.94,68.42 L141.82,68.04 L141.88,67.70 L142.10,67.39 L142.46,67.12 L142.76,66.84 L142.89,66.52 L142.93,66.17 L143.05,65.85 L143.38,65.57 L143.55,65.26 L143.51,64.89 L143.39,64.52 L143.34,64.16 L143.38,63.81 L143.34,63.45 L143.12,63.06 L142.81,62.64 L142.65,62.26 L142.92,61.96 L143.54,61.73 L144.26,61.51 L144.79,61.25 L144.98,60.92 L145.05,60.56 L145.16,60.20 L145.32,59.85 L145.52,59.50 L145.70,59.14 L145.87,58.78 L146.00,58.41 L145.98,58.01 L145.75,57.58 L145.46,57.15 L145.18,56.71 L144.99,56.29 L144.94,55.89 L144.93,55.50 L145.02,55.12 L145.11,54.75 L145.01,54.35 L144.76,53.93 L144.39,53.49 L144.07,53.06 L143.93,52.67 L143.72,52.26 L143.41,51.84 L143.21,51.45 L143.18,51.08 L143.40,50.76 L143.69,50.46 L144.03,50.18 L144.37,49.90 L144.67,49.63 L144.99,49.37 L145.36,49.13 L145.79,48.92 L146.21,48.73 L146.57,48.54 L146.76,48.32 L146.88,48.10 L147.08,47.55 L147.14,47.03 L147.12,46.53 L147.23,46.12 L147.41,45.78 L147.60,45.49 L147.74,45.21 L147.83,44.90 L147.85,44.55 L147.89,44.23 L148.01,43.97 L148.16,43.74 L148.37,43.54 L148.64,43.36 L148.98,43.19 L149.40,42.98 L149.62,42.68 L149.62,42.26 L149.53,41.76 L149.58,41.37 L149.86,41.13 L150.24,40.96 L150.54,40.72 L150.75,40.42 L150.97,40.11 L151.32,39.85 L151.56,39.51 L151.63,39.06 L151.52,38.65 L151.47,38.25 L151.51,37.85 L151.64,37.47 L151.78,37.07 L151.92,36.65 L152.10,36.25 L152.40,35.87 L152.88,35.56 L153.36,35.26 L153.59,34.91 L153.67,34.54 L153.67,34.17 L153.71,33.85 L153.91,33.65 L154.17,33.58 L154.49,33.73 L154.37,34.04 L153.90,34.09 L153.60,33.77 L153.75,33.70 L154.02,33.88 L154.36,34.18 L154.71,34.55 L155.08,34.95 L155.39,35.36 L155.59,35.79 L155.91,36.07 L156.25,36.26 L156.52,36.46 L156.75,36.72 L156.93,37.03 L157.18,37.25 L157.50,37.39 L157.75,37.62 L157.98,37.89 L158.17,38.23 L158.41,38.54 L158.73,38.69 L159.28,38.74 L159.74,38.88 L160.11,39.10 L160.22,39.47 L160.26,39.89 L160.25,40.32 L160.31,40.72 L160.44,41.10 L160.66,41.43 L160.76,41.82 L160.75,42.26 L160.77,42.68 L160.91,43.05 L161.02,43.39 L161.07,43.75 L161.08,44.14 L161.14,44.49 L161.30,44.81 L161.57,45.08 L161.94,45.31 L162.33,45.53 L162.56,45.82 L162.78,46.12 L163.04,46.41 L163.35,46.68 L163.53,47.02 L163.66,47.39 L163.67,47.84 L163.58,48.27 L163.48,48.72 L163.52,49.09 L163.74,49.32 L164.12,49.42 L164.44,49.55 L164.74,49.71 L164.95,49.95 L165.10,50.25 L165.33,50.49 L165.63,50.70 L165.92,50.94 L166.20,51.21 L166.37,51.58 L166.52,51.98 L166.63,52.42 L166.78,52.87 L166.99,53.32 L167.17,53.81 L166.98,54.18 L166.74,54.56 L166.54,54.93 L166.51,55.25 L166.82,55.47 L167.15,55.70 L167.39,55.98 L167.54,56.29 L167.59,56.64 L167.73,56.97 L168.11,57.24 L168.49,57.52 L168.83,57.82 L169.10,58.15 L169.27,58.51 L169.42,58.87 L169.58,59.24 L169.78,59.60 L169.98,59.96 L170.10,60.34 L170.05,60.77 L169.93,61.21 L169.84,61.64 L169.86,62.05 L169.96,62.43 L170.12,62.79 L170.31,63.14 L170.40,63.51 L170.34,63.92 L170.29,64.32 L170.23,64.72 L170.11,65.13 L170.02,65.52 L170.06,65.87 L170.21,66.18 L170.43,66.46 L170.51,66.77 L170.49,67.10 L170.40,67.46 L170.42,67.96 L170.64,68.35 L171.07,68.63 L171.46,68.88 L171.74,69.16 L171.95,69.46 L172.13,69.75 L172.28,70.05 L172.43,70.34 L172.52,70.66 L172.55,71.00 L172.66,71.30 L172.82,71.56 L172.98,71.82 L173.12,72.10 L173.25,72.38 L173.40,72.65 L173.62,72.91 L173.74,73.23 L173.80,73.58 L173.84,73.96 L173.93,74.33 L174.14,74.69 L174.42,75.05 L174.86,75.21 L175.21,75.41 L175.22,75.72 L174.96,76.11 L174.67,76.50 L174.69,76.81 L174.96,77.07 L175.31,77.32 L175.61,77.60 L175.74,77.91 L175.68,78.27 L175.49,78.66 L175.16,79.08 L174.92,79.48 L174.94,79.83 L175.17,80.15 L175.42,80.47 L175.58,80.81 L175.66,81.16 L175.59,81.55 L175.42,81.96 L175.11,82.39 L174.95,82.80 L175.04,83.17 L175.35,83.49 L175.57,83.84 L175.58,84.22 L175.56,84.61 L175.56,85.00 L175.73,85.35 L176.01,85.68 L176.33,86.00 L176.47,86.36 L176.51,86.73 L176.56,87.11 L176.70,87.46 L176.98,87.77 L177.30,88.06 L177.53,88.38 L177.62,88.72 L177.71,89.06 L177.68,89.45 L177.76,89.81 L178.01,90.12 L178.46,90.36 L178.85,90.63 L179.14,90.93 L179.35,91.26 L179.36,91.65 L179.34,92.05 L179.37,92.45 L179.44,92.82 L179.54,93.19 L179.62,93.57 L179.67,93.96 L179.73,94.34 L179.83,94.71 L179.98,95.06 L180.25,95.37 L180.64,95.63 L181.09,95.86 L181.46,96.12 L181.94,96.34 L182.36,96.57 L182.72,96.82 L182.84,97.16 L182.79,97.56 L182.72,97.96 L182.53,98.40 L182.50,98.79 L182.67,99.08 L183.04,99.29 L183.37,99.52 L183.51,99.81 L183.49,100.15 L183.45,100.50 L183.41,100.84 L183.55,101.10 L183.75,101.33 L183.99,101.72 L184.10,102.14 L184.12,102.57 L184.07,103.02 L184.14,103.41 L184.26,103.75 L184.30,104.12 L184.43,104.43 L184.63,104.70 L184.78,104.99 L184.92,105.28 L184.95,105.62 L184.88,106.01 L184.83,106.40 L184.94,106.70 L185.18,106.93 L185.41,107.17 L185.45,107.52 L185.53,107.85 L185.70,108.16 L185.93,108.44 L186.20,108.72 L186.28,109.11 L186.20,109.59 L186.09,109.97 L186.17,110.28 L186.42,110.52 L186.78,110.72 L187.04,110.97 L187.30,111.22 L187.52,111.50 L187.76,111.77 L187.93,112.07 L188.16,112.36 L188.39,112.64 L188.59,112.94 L188.70,113.28 L188.68,113.67 L188.54,114.10 L188.30,114.57 L188.11,115.03 L188.04,115.44 L187.96,115.86 L188.04,116.22 L188.16,116.56 L188.26,116.91 L188.20,117.32 L188.22,117.71 L188.52,117.99 L189.04,118.19 L189.55,118.39 L190.09,118.57 L190.52,118.80 L190.83,119.07 L190.97,119.39 L190.94,119.79 L190.94,120.16 L191.03,120.50 L191.18,120.82 L191.40,121.11 L191.62,121.40 L191.58,121.79 L191.39,122.25 L191.36,122.64 L191.55,122.95 L191.81,123.23 L191.98,123.55 L192.07,123.89 L192.25,124.20 L192.56,124.47 L193.01,124.67 L193.54,124.84 L193.92,125.07 L194.15,125.37 L194.27,125.71 L194.34,126.07 L194.44,126.42 L194.53,126.77 L194.61,127.12 L194.70,127.48 L194.82,127.82 L194.85,128.19 L194.81,128.59 L194.63,129.04 L194.45,129.49 L194.50,129.85 L194.78,130.12 L195.01,130.42 L195.12,130.75 L195.01,131.17 L194.80,131.62 L194.57,132.06 L194.34,132.49 L194.24,132.87 L194.24,133.21 L194.28,133.54 L194.35,133.85 L194.50,134.14 L194.55,134.47 L194.57,134.79 L194.66,135.10 L194.75,135.41 L194.86,135.71 L195.17,135.96 L195.66,136.16 L196.16,136.37 L196.38,136.65 L196.29,137.03 L196.11,137.45 L196.01,137.84 L196.07,138.20 L196.43,138.48 L196.81,138.76 L197.18,139.05 L197.22,139.45 L197.22,139.86 L197.39,140.24 L197.74,140.58 L198.11,140.92 L198.46,141.28 L198.67,141.69 L198.79,141.96 L198.92,142.23 L198.99,142.53 L199.12,142.81 L199.38,143.06 L199.67,143.31 L199.78,143.62 L199.81,143.96 L199.79,144.31 L199.81,144.66 L199.92,144.98 L199.89,145.35 L199.85,145.73 L199.75,146.12 L199.69,146.51 L199.86,146.84 L200.16,147.13 L200.25,147.48 L200.17,147.89 L200.18,148.27 L200.46,148.58 L200.93,148.83 L201.18,149.15 L201.20,149.53 L201.02,149.98 L200.86,150.42 L200.74,150.85 L200.64,151.27 L200.65,151.67 L200.69,152.05 L200.63,152.47 L200.58,152.88 L200.47,153.31 L200.38,153.74 L200.36,154.14 L200.45,154.50 L200.49,154.89 L200.62,155.24 L200.86,155.55 L201.30,155.79 L201.69,156.05 L202.04,156.31 L202.24,156.62 L202.47,156.92 L202.68,157.21 L202.90,157.50 L203.02,157.82 L203.10,158.15 L203.22,158.46 L203.36,158.77 L203.44,159.08 L203.45,159.42 L203.46,159.84 L203.60,160.20 L203.89,160.50 L204.19,160.79 L204.41,161.10 L204.44,161.50 L204.39,161.93 L204.41,162.33 L204.47,162.71 L204.51,163.09 L204.61,163.45 L204.68,163.82 L204.81,164.16 L204.99,164.48 L205.12,164.81 L205.31,165.11 L205.63,165.35 L205.94,165.59 L206.12,165.89 L206.15,166.26 L206.20,166.63 L206.30,166.97 L206.63,167.18 L207.04,167.35 L207.49,167.50 L207.81,167.71 L208.09,167.94 L208.23,168.25 L208.32,168.59 L208.46,168.89 L208.56,169.22 L208.53,169.63 L208.44,170.06 L208.42,170.45 L208.45,170.82 L208.54,171.15 L208.67,171.45 L208.92,171.70 L209.23,171.92 L209.47,172.17 L209.70,172.43 L209.92,172.69 L210.16,172.99 L210.37,173.29 L210.62,173.58 L210.93,173.83 L211.30,174.05 L211.53,174.34 L211.67,174.66 L211.79,175.00 L211.94,175.32 L212.38,175.49 L212.93,175.61 L213.40,175.76 L213.64,176.03 L213.69,176.39 L213.73,176.76 L213.91,177.06 L214.07,177.37 L214.08,177.76 L213.99,178.20 L213.73,178.72 L213.56,179.21 L213.60,179.59 L213.77,179.90 L214.02,180.16 L214.22,180.45 L214.27,180.83 L214.37,181.19 L214.50,181.52 L214.67,181.84 L214.87,182.15 L215.07,182.45 L215.39,182.69 L215.79,182.88 L216.27,183.03 L216.64,183.24 L216.86,183.55 L216.95,183.94 L217.03,184.34 L217.13,184.66 L217.18,185.02 L217.25,185.37 L217.34,185.71 L217.44,186.05 L217.56,186.38 L217.77,186.67 L218.01,186.93 L218.25,187.19 L218.41,187.51 L218.55,187.85 L218.75,188.15 L219.02,188.40 L219.28,188.67 L219.51,188.95 L219.67,189.28 L219.75,189.66 L219.81,190.06 L219.91,190.43 L220.06,190.78 L220.25,191.09 L220.47,191.39 L220.71,191.66 L221.03,191.90 L221.38,192.10 L221.71,192.32 L221.95,192.60 L222.17,192.88 L222.37,193.18 L222.61,193.46 L222.88,193.70 L223.20,193.91 L223.49,194.14 L223.76,194.37 L223.99,194.63 L224.17,194.93 L224.37,195.20 L224.58,195.46 L224.82,195.70 L225.07,195.93 L225.26,196.19 L225.36,196.53 L225.40,196.89 L225.53,197.20 L225.71,197.45 L225.98,197.75 L226.18,198.09 L226.36,198.45 L226.57,198.77 L226.86,199.03 L227.17,199.26 L227.40,199.55 L227.56,199.90 L227.69,200.28 L227.79,200.68 L227.91,201.06 L228.12,201.36 L228.42,201.58 L228.76,201.74 L229.04,201.97 L229.28,202.22 L229.55,202.45 L229.88,202.61 L230.25,202.72 L230.54,202.92 L230.77,203.18 L230.96,203.46 L231.18,203.73 L231.44,203.95 L231.73,204.13 L231.99,204.35 L232.23,204.59 L232.47,204.82 L232.75,205.02 L233.06,205.17 L233.39,205.30 L233.71,205.44 L233.98,205.64 L234.23,205.88 L234.43,206.18 L234.68,206.44 L234.95,206.67 L235.24,206.87 L235.54,207.05 L235.83,207.25 L236.09,207.48 L236.33,207.77 L236.57,208.05 L236.85,208.27 L237.15,208.46 L237.47,208.62 L237.79,208.76 L238.10,208.93 L238.40,209.12 L238.70,209.31 L239.01,209.49 L239.34,209.62 L239.67,209.76 L239.97,209.95 L240.25,210.20 L240.55,210.42 L240.87,210.60 L241.21,210.71 L241.59,210.75 L241.96,210.82 L242.30,210.95 L242.62,211.14 L242.95,211.32 L243.28,211.48 L243.63,211.61 L243.98,211.74 L244.34,211.86 L244.70,211.98 L245.07,212.07 L245.40,212.14 L245.73,212.22 L246.06,212.31 L246.37,212.46 L246.67,212.61 L246.96,212.82 L247.26,213.01 L247.57,213.17 L247.90,213.30 L248.24,213.39 L248.58,213.48 L248.93,213.55 L249.28,213.63 L249.62,213.71 L249.95,213.84 L250.30,213.92 L250.66,213.99 L251.01,214.07 L251.36,214.16 L251.71,214.23 L252.08,214.27 L252.44,214.31 L252.80,214.37 L253.14,214.48 L253.47,214.63 L253.79,214.83 L254.11,215.02 L254.44,215.17 L254.79,215.25 L255.15,215.31 L255.51,215.38 L255.85,215.47 L256.18,215.63 L256.50,215.82 L256.83,215.94 L257.19,215.98 L257.55,216.01 L257.89,216.12 L258.20,216.30 L258.51,216.51 L258.83,216.70 L259.14,216.88 L259.46,217.04 L259.78,217.19 L260.10,217.30 L260.43,217.40 L260.77,217.47 L261.11,217.50 L261.45,217.55 L261.78,217.61 L262.11,217.68 L262.44,217.76 L262.77,217.84 L263.10,217.89 L263.43,217.98 L263.75,218.11 L264.07,218.23 L264.41,218.29 L264.76,218.30 L265.10,218.33 L265.44,218.42 L265.77,218.54 L266.10,218.68 L266.43,218.83 L266.76,218.97 L267.11,219.07 L267.48,219.09 L267.86,219.09 L268.24,219.12 L268.62,219.16 L269.01,219.19 L269.40,219.19 L269.81,219.17 L270.21,219.20 L270.60,219.33 L270.99,219.50 L271.39,219.66 L271.69,219.74 L271.99,219.77 L272.30,219.84 L272.61,219.92 L272.91,220.07 L273.21,220.23 L273.52,220.30 L273.86,220.29 L274.20,220.22 L274.54,220.16 L274.88,220.16 L275.22,220.14 L275.56,220.15 L275.90,220.17 L276.25,220.16 L276.60,220.12 L276.95,220.10 L277.30,220.12 L277.64,220.18 L277.99,220.28 L278.33,220.40 L278.67,220.55 L279.02,220.64 L279.37,220.69 L279.73,220.72 L280.09,220.77 L280.45,220.85 L280.81,220.92 L281.17,220.93 L281.54,220.90 L281.91,220.84 L282.29,220.81 L282.65,220.88 L283.01,220.98 L283.37,221.05 L283.74,221.06 L284.12,221.01 L284.49,220.97 L284.86,221.00 L285.23,221.02 L285.60,221.06 L285.97,221.15 L286.33,221.27 L286.69,221.42 L287.05,221.56 L287.41,221.66 L287.78,221.70 L288.15,221.69 L288.52,221.68 L288.89,221.70 L289.25,221.74 L289.62,221.74 L289.99,221.71 L290.33,221.75 L290.66,221.88 L291.00,221.97 L291.35,221.94 L291.70,221.81 L292.06,221.67 L292.41,221.58 L292.76,221.61 L293.11,221.67 L293.45,221.71 L293.80,221.75 L294.15,221.80 L294.50,221.86 L294.85,221.87 L295.21,221.86 L295.56,221.85 L295.92,221.88 L296.27,221.95 L296.62,221.99 L296.98,222.03 L297.33,222.07 L297.69,222.12 L298.05,222.15 L298.40,222.15 L298.76,222.14 L299.12,222.18 L299.47,222.22 L299.83,222.22 L300.19,222.21 L300.55,222.21 L300.91,222.24 L301.26,222.33 L301.61,222.44 L301.97,222.52 L302.32,222.57 L302.68,222.57 L303.04,222.55 L303.39,222.56 L303.74,222.61 L304.10,222.65 L304.45,222.63 L304.81,222.55 L305.17,222.47 L305.52,222.43 L305.87,222.43 L306.22,222.45 L306.57,222.48 L306.92,222.51 L307.26,222.56 L307.61,222.60 L307.95,222.64 L308.30,222.66 L308.64,222.61 L308.98,222.53 L309.33,222.52 L309.66,222.55 L310.00,222.60 L310.37,222.62 L310.75,222.58 L311.13,222.54 L311.52,222.52 L311.91,222.48 L312.31,222.46 L312.71,222.44 L313.11,222.48 L313.51,222.53 L313.92,222.56 L314.32,222.58 L314.73,222.62 L315.15,222.61 L315.56,222.53 L315.97,222.45 L316.39,222.39 L316.80,222.37 L317.21,222.37 L317.63,222.40 L318.04,222.39 L318.45,222.35 L318.85,222.33 L319.26,222.33 L319.66,222.37 L320.06,222.42 L320.45,222.51 L320.84,222.63 L321.23,222.72 L321.62,222.76 L321.99,222.80 L322.37,222.86 L322.74,222.91 L323.10,222.93 L323.45,222.91 L323.80,222.89 L324.15,222.87 L324.48,222.86 L324.81,222.88 L325.13,222.94 L325.44,223.00 L325.74,223.05 L326.04,223.09 L326.32,223.11 L326.60,223.12 L326.86,223.10 L327.11,223.07 L327.36,223.02 L327.59,222.95 L327.81,222.87 L328.02,222.83 L328.22,222.77 L328.40,222.78" fill="none" stroke="#1c1cff" stroke-width="1.9" stroke-linejoin="round" stroke-linecap="round" />
<line x1="238.80" y1="21.10" x2="263.80" y2="21.10" stroke="#111" stroke-width="1.8"/>
<text x="267.00" y="25.00" font-size="10.6" text-anchor="start" font-weight="bold" fill="#111"  stroke="#111" stroke-width="0.28">PL</text>
<line x1="238.80" y1="35.40" x2="263.80" y2="35.40" stroke="#1c1cff" stroke-width="1.8"/>
<text x="267.00" y="39.40" font-size="10.6" text-anchor="start" font-weight="bold" fill="#111"  stroke="#111" stroke-width="0.28">Delayed PL</text>
<defs>
<radialGradient id="bg1" cx="0.45" cy="0.45" r="0.6"><stop offset="0" stop-color="#0c0c3a"/><stop offset="0.55" stop-color="#070722"/><stop offset="1" stop-color="#030312"/></radialGradient>
<radialGradient id="bg2" cx="0.45" cy="0.45" r="0.6"><stop offset="0" stop-color="#08081e"/><stop offset="0.55" stop-color="#020206"/><stop offset="1" stop-color="#000"/></radialGradient>
<radialGradient id="blob1" cx="0.5" cy="0.5" r="0.5"><stop offset="0" stop-color="#5a6aff"/><stop offset="0.7" stop-color="#4656ff"/><stop offset="0.92" stop-color="#3a48f0" stop-opacity="0.8"/><stop offset="1" stop-color="#3040e0" stop-opacity="0"/></radialGradient>
<radialGradient id="blob2" cx="0.5" cy="0.5" r="0.5"><stop offset="0" stop-color="#6a74ff"/><stop offset="0.7" stop-color="#545ff5"/><stop offset="0.92" stop-color="#4650e8" stop-opacity="0.8"/><stop offset="1" stop-color="#3a44e0" stop-opacity="0"/></radialGradient>
<radialGradient id="sphB" cx="0.5" cy="0.5" r="0.5" fx="0.36" fy="0.34"><stop offset="0" stop-color="#f0f0ff"/><stop offset="0.25" stop-color="#9090ff"/><stop offset="0.5" stop-color="#1414ff"/><stop offset="1" stop-color="#0000d8"/></radialGradient>
<radialGradient id="sphK" cx="0.5" cy="0.5" r="0.5" fx="0.36" fy="0.34"><stop offset="0" stop-color="#f2f2f2"/><stop offset="0.22" stop-color="#9a9a9a"/><stop offset="0.5" stop-color="#1a1a1a"/><stop offset="1" stop-color="#000"/></radialGradient>
<radialGradient id="sphS" cx="0.5" cy="0.5" r="0.5" fx="0.36" fy="0.34"><stop offset="0" stop-color="#eeeeff"/><stop offset="0.25" stop-color="#a4a4ff"/><stop offset="0.5" stop-color="#1c1cff"/><stop offset="1" stop-color="#0000e6"/></radialGradient>
<linearGradient id="arr" gradientUnits="userSpaceOnUse" x1="57" y1="474" x2="292" y2="319"><stop offset="0" stop-color="#c4caf9"/><stop offset="1" stop-color="#4a58f4"/></linearGradient>
</defs>
<filter id="bl" x="-20%" y="-20%" width="140%" height="140%"><feGaussianBlur stdDeviation="0.7"/></filter>
<filter id="bl2" x="-50%" y="-50%" width="200%" height="200%"><feGaussianBlur stdDeviation="2.2"/></filter>
<rect x="210.2" y="62.2" width="55" height="54.5" rx="7.5" fill="url(#bg1)"/>
<path d="M219.4,87.0 L218.5,85.9 L222.0,85.3 L219.3,83.9 L221.3,83.4 L222.5,82.8 L223.0,82.1 L223.8,81.6 L223.8,80.6 L223.9,79.6 L225.0,79.4 L225.5,78.8 L227.1,79.3 L227.0,78.1 L225.5,74.5 L226.3,73.7 L226.7,72.0 L228.2,72.6 L229.9,74.4 L230.3,72.3 L231.5,72.9 L232.6,73.3 L233.6,74.4 L234.5,73.6 L235.4,73.8 L236.5,72.9 L237.4,73.5 L238.8,72.2 L239.3,73.8 L241.6,71.5 L243.0,71.4 L243.3,73.2 L243.8,74.4 L245.5,74.2 L245.4,76.0 L245.2,77.6 L245.8,78.4 L245.4,79.9 L246.4,80.4 L246.0,81.6 L247.1,82.2 L248.1,82.9 L247.5,84.1 L249.1,84.9 L248.0,86.0 L249.2,87.0 L248.5,88.0 L249.8,89.2 L249.9,90.4 L249.4,91.4 L249.0,92.4 L249.7,94.0 L249.1,95.0 L246.4,94.7 L247.7,96.9 L245.2,96.4 L245.4,98.0 L245.1,99.3 L244.4,100.3 L242.9,100.2 L242.1,101.0 L241.3,102.0 L239.9,101.7 L238.8,101.9 L238.0,103.1 L236.9,103.3 L235.6,102.4 L234.5,102.3 L233.5,102.1 L232.5,101.6 L231.5,101.3 L230.6,100.6 L229.2,101.8 L228.4,100.8 L227.5,100.4 L226.4,100.2 L225.4,99.8 L224.2,99.5 L224.7,97.4 L224.3,96.3 L223.7,95.6 L224.2,94.1 L222.1,94.4 L221.9,93.4 L221.4,92.6 L221.3,91.6 L219.8,91.1 L219.0,90.2 L219.2,89.1 L219.8,88.0Z" fill="#4656ff" opacity="0.5" filter="url(#bl2)"/>
<path d="M219.4,87.0 L218.5,85.9 L222.0,85.3 L219.3,83.9 L221.3,83.4 L222.5,82.8 L223.0,82.1 L223.8,81.6 L223.8,80.6 L223.9,79.6 L225.0,79.4 L225.5,78.8 L227.1,79.3 L227.0,78.1 L225.5,74.5 L226.3,73.7 L226.7,72.0 L228.2,72.6 L229.9,74.4 L230.3,72.3 L231.5,72.9 L232.6,73.3 L233.6,74.4 L234.5,73.6 L235.4,73.8 L236.5,72.9 L237.4,73.5 L238.8,72.2 L239.3,73.8 L241.6,71.5 L243.0,71.4 L243.3,73.2 L243.8,74.4 L245.5,74.2 L245.4,76.0 L245.2,77.6 L245.8,78.4 L245.4,79.9 L246.4,80.4 L246.0,81.6 L247.1,82.2 L248.1,82.9 L247.5,84.1 L249.1,84.9 L248.0,86.0 L249.2,87.0 L248.5,88.0 L249.8,89.2 L249.9,90.4 L249.4,91.4 L249.0,92.4 L249.7,94.0 L249.1,95.0 L246.4,94.7 L247.7,96.9 L245.2,96.4 L245.4,98.0 L245.1,99.3 L244.4,100.3 L242.9,100.2 L242.1,101.0 L241.3,102.0 L239.9,101.7 L238.8,101.9 L238.0,103.1 L236.9,103.3 L235.6,102.4 L234.5,102.3 L233.5,102.1 L232.5,101.6 L231.5,101.3 L230.6,100.6 L229.2,101.8 L228.4,100.8 L227.5,100.4 L226.4,100.2 L225.4,99.8 L224.2,99.5 L224.7,97.4 L224.3,96.3 L223.7,95.6 L224.2,94.1 L222.1,94.4 L221.9,93.4 L221.4,92.6 L221.3,91.6 L219.8,91.1 L219.0,90.2 L219.2,89.1 L219.8,88.0Z" fill="#4656ff" filter="url(#bl)"/>
<circle cx="234.3" cy="80.3" r="1.2" fill="#6a7cff" opacity="0.35" filter="url(#bl)"/>
<circle cx="235.8" cy="91.1" r="1.1" fill="#6a7cff" opacity="0.19" filter="url(#bl)"/>
<circle cx="234.7" cy="83.2" r="1.1" fill="#3040e8" opacity="0.20" filter="url(#bl)"/>
<circle cx="227.9" cy="88.9" r="0.9" fill="#3040e8" opacity="0.38" filter="url(#bl)"/>
<circle cx="240.0" cy="80.5" r="0.9" fill="#3040e8" opacity="0.27" filter="url(#bl)"/>
<circle cx="231.6" cy="75.8" r="1.2" fill="#3040e8" opacity="0.37" filter="url(#bl)"/>
<circle cx="240.3" cy="79.2" r="1.0" fill="#3040e8" opacity="0.22" filter="url(#bl)"/>
<circle cx="242.4" cy="82.3" r="1.2" fill="#6a7cff" opacity="0.32" filter="url(#bl)"/>
<circle cx="227.3" cy="94.0" r="1.0" fill="#3040e8" opacity="0.29" filter="url(#bl)"/>
<circle cx="234.8" cy="80.9" r="1.3" fill="#6a7cff" opacity="0.15" filter="url(#bl)"/>
<circle cx="233.0" cy="97.4" r="1.2" fill="#6a7cff" opacity="0.32" filter="url(#bl)"/>
<circle cx="227.4" cy="87.3" r="0.8" fill="#3040e8" opacity="0.23" filter="url(#bl)"/>
<circle cx="239.3" cy="91.0" r="1.0" fill="#6a7cff" opacity="0.21" filter="url(#bl)"/>
<circle cx="228.3" cy="83.1" r="1.0" fill="#3040e8" opacity="0.31" filter="url(#bl)"/>
<circle cx="229.5" cy="81.9" r="1.4" fill="#3040e8" opacity="0.38" filter="url(#bl)"/>
<circle cx="230.0" cy="77.4" r="0.8" fill="#6a7cff" opacity="0.40" filter="url(#bl)"/>
<circle cx="240.4" cy="83.5" r="0.9" fill="#6a7cff" opacity="0.17" filter="url(#bl)"/>
<circle cx="231.0" cy="90.8" r="1.3" fill="#6a7cff" opacity="0.32" filter="url(#bl)"/>
<circle cx="243.7" cy="86.8" r="1.0" fill="#3040e8" opacity="0.35" filter="url(#bl)"/>
<circle cx="236.4" cy="86.1" r="1.3" fill="#6a7cff" opacity="0.19" filter="url(#bl)"/>
<circle cx="237.4" cy="84.0" r="1.4" fill="#3040e8" opacity="0.37" filter="url(#bl)"/>
<circle cx="230.3" cy="80.8" r="0.8" fill="#6a7cff" opacity="0.31" filter="url(#bl)"/>
<circle cx="228.8" cy="86.0" r="1.3" fill="#3040e8" opacity="0.27" filter="url(#bl)"/>
<circle cx="233.8" cy="98.7" r="1.4" fill="#6a7cff" opacity="0.25" filter="url(#bl)"/>
<circle cx="226.4" cy="87.5" r="1.3" fill="#3040e8" opacity="0.39" filter="url(#bl)"/>
<circle cx="228.7" cy="85.1" r="1.1" fill="#3040e8" opacity="0.36" filter="url(#bl)"/>
<circle cx="231.4" cy="89.7" r="1.3" fill="#3040e8" opacity="0.39" filter="url(#bl)"/>
<circle cx="227.5" cy="91.2" r="0.8" fill="#3040e8" opacity="0.22" filter="url(#bl)"/>
<circle cx="233.2" cy="86.9" r="0.8" fill="#6a7cff" opacity="0.23" filter="url(#bl)"/>
<circle cx="238.0" cy="96.7" r="0.9" fill="#6a7cff" opacity="0.19" filter="url(#bl)"/>
<circle cx="229.2" cy="97.0" r="1.0" fill="#6a7cff" opacity="0.30" filter="url(#bl)"/>
<circle cx="227.3" cy="79.4" r="0.7" fill="#6a7cff" opacity="0.26" filter="url(#bl)"/>
<circle cx="233.9" cy="87.0" r="1.3" fill="#6a7cff" opacity="0.18" filter="url(#bl)"/>
<circle cx="235.3" cy="81.7" r="0.8" fill="#6a7cff" opacity="0.32" filter="url(#bl)"/>
<circle cx="235.5" cy="89.5" r="1.2" fill="#6a7cff" opacity="0.30" filter="url(#bl)"/>
<circle cx="239.7" cy="79.9" r="1.0" fill="#3040e8" opacity="0.16" filter="url(#bl)"/>
<circle cx="223.6" cy="82.6" r="1.4" fill="#6a7cff" opacity="0.22" filter="url(#bl)"/>
<circle cx="239.2" cy="82.8" r="1.3" fill="#3040e8" opacity="0.27" filter="url(#bl)"/>
<circle cx="242.9" cy="87.1" r="1.3" fill="#3040e8" opacity="0.20" filter="url(#bl)"/>
<circle cx="233.9" cy="97.4" r="0.7" fill="#6a7cff" opacity="0.26" filter="url(#bl)"/>
<circle cx="240.9" cy="78.1" r="1.2" fill="#6a7cff" opacity="0.25" filter="url(#bl)"/>
<circle cx="225.0" cy="94.6" r="1.2" fill="#6a7cff" opacity="0.37" filter="url(#bl)"/>
<circle cx="241.5" cy="90.0" r="0.8" fill="#3040e8" opacity="0.26" filter="url(#bl)"/>
<circle cx="249.1" cy="72.3" r="1.9" fill="#4656ff" opacity="0.9" filter="url(#bl)"/>
<circle cx="254.6" cy="79.5" r="1.1" fill="#4656ff" opacity="0.9" filter="url(#bl)"/>
<circle cx="257.1" cy="84.2" r="0.9" fill="#4656ff" opacity="0.9" filter="url(#bl)"/>
<circle cx="253.7" cy="85.9" r="1.0" fill="#4656ff" opacity="0.9" filter="url(#bl)"/>
<circle cx="252.9" cy="91.4" r="1.0" fill="#4656ff" opacity="0.9" filter="url(#bl)"/>
<circle cx="251.0" cy="77.0" r="0.9" fill="#4656ff" opacity="0.9" filter="url(#bl)"/>
<circle cx="250.5" cy="96.0" r="0.8" fill="#4656ff" opacity="0.9" filter="url(#bl)"/>
<circle cx="235.6" cy="108.7" r="0.9" fill="#4656ff" opacity="0.9" filter="url(#bl)"/>
<circle cx="255.5" cy="89.0" r="0.7" fill="#4656ff" opacity="0.9" filter="url(#bl)"/>
<circle cx="249.5" cy="99.4" r="1.3" fill="#4656ff" opacity="0.9" filter="url(#bl)"/>
<circle cx="246.9" cy="99.6" r="1.2" fill="#4656ff" opacity="0.9" filter="url(#bl)"/>
<circle cx="246.9" cy="83.7" r="1.3" fill="#4656ff" opacity="0.9" filter="url(#bl)"/>
<circle cx="251.1" cy="99.7" r="1.3" fill="#4656ff" opacity="0.9" filter="url(#bl)"/>
<circle cx="251.4" cy="94.2" r="1.1" fill="#4656ff" opacity="0.9" filter="url(#bl)"/>
<circle cx="251.8" cy="86.0" r="0.8" fill="#4656ff" opacity="0.9" filter="url(#bl)"/>
<circle cx="250.1" cy="93.5" r="1.2" fill="#4656ff" opacity="0.9" filter="url(#bl)"/>
<circle cx="251.6" cy="80.4" r="1.1" fill="#4656ff" opacity="0.9" filter="url(#bl)"/>
<circle cx="252.6" cy="83.4" r="0.7" fill="#4656ff" opacity="0.9" filter="url(#bl)"/>
<circle cx="253.8" cy="83.9" r="0.9" fill="#4656ff" opacity="0.9" filter="url(#bl)"/>
<circle cx="245.2" cy="97.0" r="1.1" fill="#4656ff" opacity="0.9" filter="url(#bl)"/>
<rect x="267.5" y="62.2" width="54.7" height="54.5" rx="7.5" fill="url(#bg2)"/>
<path d="M275.2,88.2 L276.0,87.1 L275.1,85.9 L275.9,84.9 L278.0,84.4 L276.5,82.8 L278.5,82.5 L278.9,81.6 L278.8,80.4 L280.8,80.6 L282.3,80.7 L282.3,79.5 L281.3,77.1 L283.2,77.8 L282.7,75.5 L283.5,74.7 L285.1,75.5 L285.7,74.3 L286.6,73.8 L288.0,74.9 L288.9,74.5 L289.7,73.4 L290.8,75.2 L291.8,74.4 L293.0,72.4 L293.9,73.2 L294.6,74.8 L296.0,73.7 L297.8,72.2 L297.9,74.6 L300.1,72.9 L301.0,73.9 L301.3,75.3 L302.8,75.4 L302.9,77.0 L305.5,76.3 L306.5,77.1 L305.1,79.6 L306.0,80.4 L306.5,81.4 L306.0,82.8 L307.4,83.6 L306.7,84.9 L308.9,85.7 L308.6,87.0 L309.2,88.2 L309.7,89.5 L309.8,90.8 L307.4,91.6 L308.5,93.1 L308.0,94.3 L306.5,95.0 L307.6,96.8 L305.2,96.9 L304.9,98.1 L305.1,99.8 L303.6,100.1 L304.1,102.4 L302.3,102.3 L302.2,104.3 L299.7,102.7 L298.6,103.2 L298.3,105.6 L296.3,103.7 L295.7,105.8 L294.1,104.1 L293.1,104.9 L291.9,105.3 L290.8,103.4 L289.9,101.7 L288.9,101.9 L287.5,103.3 L286.6,102.6 L285.2,103.2 L284.2,102.7 L282.9,102.7 L282.1,101.8 L282.0,100.1 L280.4,100.3 L280.1,99.0 L281.3,96.6 L279.1,97.1 L277.4,96.9 L275.8,96.4 L278.2,94.0 L276.5,93.6 L275.7,92.7 L275.2,91.6 L276.1,90.3 L274.5,89.4Z" fill="#5560f6" opacity="0.5" filter="url(#bl2)"/>
<path d="M275.2,88.2 L276.0,87.1 L275.1,85.9 L275.9,84.9 L278.0,84.4 L276.5,82.8 L278.5,82.5 L278.9,81.6 L278.8,80.4 L280.8,80.6 L282.3,80.7 L282.3,79.5 L281.3,77.1 L283.2,77.8 L282.7,75.5 L283.5,74.7 L285.1,75.5 L285.7,74.3 L286.6,73.8 L288.0,74.9 L288.9,74.5 L289.7,73.4 L290.8,75.2 L291.8,74.4 L293.0,72.4 L293.9,73.2 L294.6,74.8 L296.0,73.7 L297.8,72.2 L297.9,74.6 L300.1,72.9 L301.0,73.9 L301.3,75.3 L302.8,75.4 L302.9,77.0 L305.5,76.3 L306.5,77.1 L305.1,79.6 L306.0,80.4 L306.5,81.4 L306.0,82.8 L307.4,83.6 L306.7,84.9 L308.9,85.7 L308.6,87.0 L309.2,88.2 L309.7,89.5 L309.8,90.8 L307.4,91.6 L308.5,93.1 L308.0,94.3 L306.5,95.0 L307.6,96.8 L305.2,96.9 L304.9,98.1 L305.1,99.8 L303.6,100.1 L304.1,102.4 L302.3,102.3 L302.2,104.3 L299.7,102.7 L298.6,103.2 L298.3,105.6 L296.3,103.7 L295.7,105.8 L294.1,104.1 L293.1,104.9 L291.9,105.3 L290.8,103.4 L289.9,101.7 L288.9,101.9 L287.5,103.3 L286.6,102.6 L285.2,103.2 L284.2,102.7 L282.9,102.7 L282.1,101.8 L282.0,100.1 L280.4,100.3 L280.1,99.0 L281.3,96.6 L279.1,97.1 L277.4,96.9 L275.8,96.4 L278.2,94.0 L276.5,93.6 L275.7,92.7 L275.2,91.6 L276.1,90.3 L274.5,89.4Z" fill="#5560f6" filter="url(#bl)"/>
<circle cx="291.4" cy="81.4" r="1.1" fill="#3040e8" opacity="0.38" filter="url(#bl)"/>
<circle cx="291.7" cy="86.9" r="0.8" fill="#7a84ff" opacity="0.17" filter="url(#bl)"/>
<circle cx="298.7" cy="93.7" r="1.1" fill="#7a84ff" opacity="0.25" filter="url(#bl)"/>
<circle cx="289.1" cy="80.5" r="1.1" fill="#3040e8" opacity="0.31" filter="url(#bl)"/>
<circle cx="295.8" cy="79.8" r="1.1" fill="#7a84ff" opacity="0.28" filter="url(#bl)"/>
<circle cx="297.4" cy="84.2" r="1.2" fill="#7a84ff" opacity="0.22" filter="url(#bl)"/>
<circle cx="280.9" cy="82.9" r="1.1" fill="#7a84ff" opacity="0.38" filter="url(#bl)"/>
<circle cx="301.0" cy="87.7" r="1.1" fill="#3040e8" opacity="0.24" filter="url(#bl)"/>
<circle cx="292.0" cy="100.0" r="1.0" fill="#7a84ff" opacity="0.20" filter="url(#bl)"/>
<circle cx="284.1" cy="79.6" r="1.3" fill="#7a84ff" opacity="0.30" filter="url(#bl)"/>
<circle cx="290.8" cy="75.0" r="1.4" fill="#3040e8" opacity="0.24" filter="url(#bl)"/>
<circle cx="294.2" cy="82.4" r="0.7" fill="#3040e8" opacity="0.28" filter="url(#bl)"/>
<circle cx="295.0" cy="88.6" r="0.9" fill="#7a84ff" opacity="0.18" filter="url(#bl)"/>
<circle cx="286.6" cy="85.4" r="1.0" fill="#7a84ff" opacity="0.32" filter="url(#bl)"/>
<circle cx="285.9" cy="87.7" r="0.8" fill="#7a84ff" opacity="0.18" filter="url(#bl)"/>
<circle cx="292.4" cy="75.9" r="1.0" fill="#3040e8" opacity="0.27" filter="url(#bl)"/>
<circle cx="285.8" cy="95.8" r="1.4" fill="#3040e8" opacity="0.19" filter="url(#bl)"/>
<circle cx="287.2" cy="81.0" r="1.4" fill="#3040e8" opacity="0.35" filter="url(#bl)"/>
<circle cx="285.8" cy="77.3" r="1.1" fill="#3040e8" opacity="0.23" filter="url(#bl)"/>
<circle cx="295.0" cy="88.7" r="1.4" fill="#3040e8" opacity="0.19" filter="url(#bl)"/>
<circle cx="285.1" cy="77.1" r="0.9" fill="#7a84ff" opacity="0.40" filter="url(#bl)"/>
<circle cx="292.0" cy="97.7" r="1.1" fill="#3040e8" opacity="0.33" filter="url(#bl)"/>
<circle cx="303.0" cy="82.2" r="0.7" fill="#3040e8" opacity="0.21" filter="url(#bl)"/>
<circle cx="284.7" cy="91.8" r="0.7" fill="#3040e8" opacity="0.22" filter="url(#bl)"/>
<circle cx="292.1" cy="80.1" r="1.3" fill="#3040e8" opacity="0.17" filter="url(#bl)"/>
<circle cx="296.4" cy="84.2" r="1.3" fill="#3040e8" opacity="0.29" filter="url(#bl)"/>
<circle cx="298.8" cy="90.7" r="1.2" fill="#7a84ff" opacity="0.31" filter="url(#bl)"/>
<circle cx="286.8" cy="80.4" r="0.7" fill="#7a84ff" opacity="0.39" filter="url(#bl)"/>
<circle cx="287.7" cy="98.7" r="0.8" fill="#7a84ff" opacity="0.22" filter="url(#bl)"/>
<circle cx="280.3" cy="85.1" r="1.2" fill="#7a84ff" opacity="0.26" filter="url(#bl)"/>
<circle cx="297.6" cy="91.4" r="1.0" fill="#7a84ff" opacity="0.38" filter="url(#bl)"/>
<circle cx="296.8" cy="77.1" r="0.9" fill="#3040e8" opacity="0.25" filter="url(#bl)"/>
<circle cx="295.2" cy="98.8" r="1.2" fill="#3040e8" opacity="0.28" filter="url(#bl)"/>
<circle cx="299.3" cy="81.5" r="1.4" fill="#3040e8" opacity="0.19" filter="url(#bl)"/>
<circle cx="299.1" cy="88.9" r="1.0" fill="#7a84ff" opacity="0.28" filter="url(#bl)"/>
<circle cx="290.1" cy="84.0" r="0.7" fill="#7a84ff" opacity="0.22" filter="url(#bl)"/>
<circle cx="288.5" cy="84.4" r="1.2" fill="#7a84ff" opacity="0.32" filter="url(#bl)"/>
<circle cx="294.6" cy="91.0" r="0.9" fill="#3040e8" opacity="0.23" filter="url(#bl)"/>
<circle cx="293.4" cy="83.6" r="1.1" fill="#7a84ff" opacity="0.21" filter="url(#bl)"/>
<circle cx="287.7" cy="99.6" r="1.1" fill="#7a84ff" opacity="0.33" filter="url(#bl)"/>
<circle cx="296.7" cy="98.7" r="0.8" fill="#3040e8" opacity="0.38" filter="url(#bl)"/>
<circle cx="300.9" cy="85.5" r="1.2" fill="#7a84ff" opacity="0.17" filter="url(#bl)"/>
<circle cx="287.8" cy="97.6" r="1.1" fill="#3040e8" opacity="0.38" filter="url(#bl)"/>
<circle cx="299.6" cy="97.6" r="1.2" fill="#3040e8" opacity="0.25" filter="url(#bl)"/>
<circle cx="292.3" cy="82.6" r="1.1" fill="#7a84ff" opacity="0.38" filter="url(#bl)"/>
<circle cx="289.6" cy="76.7" r="1.2" fill="#7a84ff" opacity="0.18" filter="url(#bl)"/>
<circle cx="293.6" cy="85.5" r="0.7" fill="#7a84ff" opacity="0.16" filter="url(#bl)"/>
<circle cx="286.0" cy="84.5" r="1.3" fill="#3040e8" opacity="0.23" filter="url(#bl)"/>
<circle cx="307.6" cy="72.3" r="2.1" fill="#5560f6" opacity="0.9" filter="url(#bl)"/>
<circle cx="313.5" cy="80.1" r="1.2" fill="#5560f6" opacity="0.9" filter="url(#bl)"/>
<circle cx="316.2" cy="85.2" r="1.0" fill="#5560f6" opacity="0.9" filter="url(#bl)"/>
<circle cx="312.6" cy="87.0" r="1.1" fill="#5560f6" opacity="0.9" filter="url(#bl)"/>
<circle cx="311.7" cy="93.0" r="1.1" fill="#5560f6" opacity="0.9" filter="url(#bl)"/>
<circle cx="309.7" cy="77.4" r="1.0" fill="#5560f6" opacity="0.9" filter="url(#bl)"/>
<circle cx="309.1" cy="97.9" r="0.9" fill="#5560f6" opacity="0.9" filter="url(#bl)"/>
<circle cx="293.0" cy="111.6" r="1.0" fill="#5560f6" opacity="0.9" filter="url(#bl)"/>
<circle cx="314.5" cy="90.4" r="0.8" fill="#5560f6" opacity="0.9" filter="url(#bl)"/>
<circle cx="304.3" cy="86.0" r="0.9" fill="#5560f6" opacity="0.9" filter="url(#bl)"/>
<circle cx="303.8" cy="81.9" r="1.4" fill="#5560f6" opacity="0.9" filter="url(#bl)"/>
<circle cx="311.5" cy="84.1" r="1.2" fill="#5560f6" opacity="0.9" filter="url(#bl)"/>
<circle cx="304.8" cy="101.4" r="1.3" fill="#5560f6" opacity="0.9" filter="url(#bl)"/>
<circle cx="304.5" cy="81.6" r="1.0" fill="#5560f6" opacity="0.9" filter="url(#bl)"/>
<circle cx="307.4" cy="96.2" r="1.4" fill="#5560f6" opacity="0.9" filter="url(#bl)"/>
<circle cx="315.0" cy="90.7" r="1.2" fill="#5560f6" opacity="0.9" filter="url(#bl)"/>
<circle cx="304.3" cy="92.0" r="0.7" fill="#5560f6" opacity="0.9" filter="url(#bl)"/>
<circle cx="314.5" cy="100.7" r="1.2" fill="#5560f6" opacity="0.9" filter="url(#bl)"/>
<circle cx="303.4" cy="79.6" r="0.9" fill="#5560f6" opacity="0.9" filter="url(#bl)"/>
<circle cx="303.6" cy="79.2" r="1.2" fill="#5560f6" opacity="0.9" filter="url(#bl)"/>
<circle cx="306.6" cy="101.0" r="0.7" fill="#5560f6" opacity="0.9" filter="url(#bl)"/>
<circle cx="314.9" cy="89.6" r="1.1" fill="#5560f6" opacity="0.9" filter="url(#bl)"/>
<circle cx="310.8" cy="85.9" r="1.0" fill="#5560f6" opacity="0.9" filter="url(#bl)"/>
<text x="234.60" y="136.80" font-size="13.8" text-anchor="middle" font-weight="bold" fill="#111"  stroke="#111" stroke-width="0.28">UV on</text>
<text x="293.90" y="136.80" font-size="13.8" text-anchor="middle" font-weight="bold" fill="#111"  stroke="#111" stroke-width="0.28">UV off</text>
<line x1="402.15" y1="224.10" x2="402.15" y2="226.50" stroke="#484848" stroke-width="1.5"/>
<line x1="432.40" y1="224.10" x2="432.40" y2="228.50" stroke="#484848" stroke-width="1.5"/>
<text x="432.40" y="239.30" font-size="10" text-anchor="middle" font-weight="bold" fill="#111"  stroke="#111" stroke-width="0.28">2</text>
<line x1="462.65" y1="224.10" x2="462.65" y2="226.50" stroke="#484848" stroke-width="1.5"/>
<line x1="492.90" y1="224.10" x2="492.90" y2="228.50" stroke="#484848" stroke-width="1.5"/>
<text x="492.90" y="239.30" font-size="10" text-anchor="middle" font-weight="bold" fill="#111"  stroke="#111" stroke-width="0.28">4</text>
<line x1="523.15" y1="224.10" x2="523.15" y2="226.50" stroke="#484848" stroke-width="1.5"/>
<line x1="553.40" y1="224.10" x2="553.40" y2="228.50" stroke="#484848" stroke-width="1.5"/>
<text x="553.40" y="239.30" font-size="10" text-anchor="middle" font-weight="bold" fill="#111"  stroke="#111" stroke-width="0.28">6</text>
<line x1="583.65" y1="224.10" x2="583.65" y2="226.50" stroke="#484848" stroke-width="1.5"/>
<line x1="613.90" y1="224.10" x2="613.90" y2="228.50" stroke="#484848" stroke-width="1.5"/>
<text x="613.90" y="239.30" font-size="10" text-anchor="middle" font-weight="bold" fill="#111"  stroke="#111" stroke-width="0.28">8</text>
<line x1="644.15" y1="224.10" x2="644.15" y2="226.50" stroke="#484848" stroke-width="1.5"/>
<line x1="674.40" y1="224.10" x2="674.40" y2="228.50" stroke="#484848" stroke-width="1.5"/>
<text x="674.40" y="239.30" font-size="10" text-anchor="middle" font-weight="bold" fill="#111"  stroke="#111" stroke-width="0.28">10</text>
<line x1="390.10" y1="224.10" x2="385.70" y2="224.10" stroke="#484848" stroke-width="1.5"/>
<text x="383.30" y="227.70" font-size="10" text-anchor="end" font-weight="bold" fill="#111" stroke="#111" stroke-width="0.28">10<tspan font-size="6.8" dy="-3.2">0</tspan></text>
<line x1="390.10" y1="212.15" x2="387.70" y2="212.15" stroke="#484848" stroke-width="1.5"/>
<line x1="390.10" y1="205.16" x2="387.70" y2="205.16" stroke="#484848" stroke-width="1.5"/>
<line x1="390.10" y1="200.20" x2="387.70" y2="200.20" stroke="#484848" stroke-width="1.5"/>
<line x1="390.10" y1="196.35" x2="387.70" y2="196.35" stroke="#484848" stroke-width="1.5"/>
<line x1="390.10" y1="193.21" x2="387.70" y2="193.21" stroke="#484848" stroke-width="1.5"/>
<line x1="390.10" y1="190.55" x2="387.70" y2="190.55" stroke="#484848" stroke-width="1.5"/>
<line x1="390.10" y1="188.25" x2="387.70" y2="188.25" stroke="#484848" stroke-width="1.5"/>
<line x1="390.10" y1="186.22" x2="387.70" y2="186.22" stroke="#484848" stroke-width="1.5"/>
<line x1="390.10" y1="184.40" x2="385.70" y2="184.40" stroke="#484848" stroke-width="1.5"/>
<text x="383.30" y="188.00" font-size="10" text-anchor="end" font-weight="bold" fill="#111" stroke="#111" stroke-width="0.28">10<tspan font-size="6.8" dy="-3.2">1</tspan></text>
<line x1="390.10" y1="172.45" x2="387.70" y2="172.45" stroke="#484848" stroke-width="1.5"/>
<line x1="390.10" y1="165.46" x2="387.70" y2="165.46" stroke="#484848" stroke-width="1.5"/>
<line x1="390.10" y1="160.50" x2="387.70" y2="160.50" stroke="#484848" stroke-width="1.5"/>
<line x1="390.10" y1="156.65" x2="387.70" y2="156.65" stroke="#484848" stroke-width="1.5"/>
<line x1="390.10" y1="153.51" x2="387.70" y2="153.51" stroke="#484848" stroke-width="1.5"/>
<line x1="390.10" y1="150.85" x2="387.70" y2="150.85" stroke="#484848" stroke-width="1.5"/>
<line x1="390.10" y1="148.55" x2="387.70" y2="148.55" stroke="#484848" stroke-width="1.5"/>
<line x1="390.10" y1="146.52" x2="387.70" y2="146.52" stroke="#484848" stroke-width="1.5"/>
<line x1="390.10" y1="144.70" x2="385.70" y2="144.70" stroke="#484848" stroke-width="1.5"/>
<text x="383.30" y="148.30" font-size="10" text-anchor="end" font-weight="bold" fill="#111" stroke="#111" stroke-width="0.28">10<tspan font-size="6.8" dy="-3.2">2</tspan></text>
<line x1="390.10" y1="132.75" x2="387.70" y2="132.75" stroke="#484848" stroke-width="1.5"/>
<line x1="390.10" y1="125.76" x2="387.70" y2="125.76" stroke="#484848" stroke-width="1.5"/>
<line x1="390.10" y1="120.80" x2="387.70" y2="120.80" stroke="#484848" stroke-width="1.5"/>
<line x1="390.10" y1="116.95" x2="387.70" y2="116.95" stroke="#484848" stroke-width="1.5"/>
<line x1="390.10" y1="113.81" x2="387.70" y2="113.81" stroke="#484848" stroke-width="1.5"/>
<line x1="390.10" y1="111.15" x2="387.70" y2="111.15" stroke="#484848" stroke-width="1.5"/>
<line x1="390.10" y1="108.85" x2="387.70" y2="108.85" stroke="#484848" stroke-width="1.5"/>
<line x1="390.10" y1="106.82" x2="387.70" y2="106.82" stroke="#484848" stroke-width="1.5"/>
<line x1="390.10" y1="105.00" x2="385.70" y2="105.00" stroke="#484848" stroke-width="1.5"/>
<text x="383.30" y="108.60" font-size="10" text-anchor="end" font-weight="bold" fill="#111" stroke="#111" stroke-width="0.28">10<tspan font-size="6.8" dy="-3.2">3</tspan></text>
<line x1="390.10" y1="93.05" x2="387.70" y2="93.05" stroke="#484848" stroke-width="1.5"/>
<line x1="390.10" y1="86.06" x2="387.70" y2="86.06" stroke="#484848" stroke-width="1.5"/>
<line x1="390.10" y1="81.10" x2="387.70" y2="81.10" stroke="#484848" stroke-width="1.5"/>
<line x1="390.10" y1="77.25" x2="387.70" y2="77.25" stroke="#484848" stroke-width="1.5"/>
<line x1="390.10" y1="74.11" x2="387.70" y2="74.11" stroke="#484848" stroke-width="1.5"/>
<line x1="390.10" y1="71.45" x2="387.70" y2="71.45" stroke="#484848" stroke-width="1.5"/>
<line x1="390.10" y1="69.15" x2="387.70" y2="69.15" stroke="#484848" stroke-width="1.5"/>
<line x1="390.10" y1="67.12" x2="387.70" y2="67.12" stroke="#484848" stroke-width="1.5"/>
<line x1="390.10" y1="65.30" x2="385.70" y2="65.30" stroke="#484848" stroke-width="1.5"/>
<text x="383.30" y="68.90" font-size="10" text-anchor="end" font-weight="bold" fill="#111" stroke="#111" stroke-width="0.28">10<tspan font-size="6.8" dy="-3.2">4</tspan></text>
<line x1="390.10" y1="53.35" x2="387.70" y2="53.35" stroke="#484848" stroke-width="1.5"/>
<line x1="390.10" y1="46.36" x2="387.70" y2="46.36" stroke="#484848" stroke-width="1.5"/>
<line x1="390.10" y1="41.40" x2="387.70" y2="41.40" stroke="#484848" stroke-width="1.5"/>
<line x1="390.10" y1="37.55" x2="387.70" y2="37.55" stroke="#484848" stroke-width="1.5"/>
<line x1="390.10" y1="34.41" x2="387.70" y2="34.41" stroke="#484848" stroke-width="1.5"/>
<line x1="390.10" y1="31.75" x2="387.70" y2="31.75" stroke="#484848" stroke-width="1.5"/>
<line x1="390.10" y1="29.45" x2="387.70" y2="29.45" stroke="#484848" stroke-width="1.5"/>
<line x1="390.10" y1="27.42" x2="387.70" y2="27.42" stroke="#484848" stroke-width="1.5"/>
<line x1="390.10" y1="25.60" x2="385.70" y2="25.60" stroke="#484848" stroke-width="1.5"/>
<text x="383.30" y="29.20" font-size="10" text-anchor="end" font-weight="bold" fill="#111" stroke="#111" stroke-width="0.28">10<tspan font-size="6.8" dy="-3.2">5</tspan></text>
<rect x="390.10" y="14.20" width="284.30" height="209.90" fill="none" stroke="#484848" stroke-width="1.5"/>
<text x="355.00" y="16.20" font-size="19.5" text-anchor="start" font-weight="bold" fill="#111"  stroke="#111" stroke-width="0.28">b</text>
<text x="534.40" y="251.20" font-size="11" text-anchor="middle" font-weight="bold" fill="#111"  stroke="#111" stroke-width="0.28">Time (s)</text>
<text transform="translate(363.4,114.2) rotate(-90)" font-size="11" text-anchor="middle" font-weight="bold" fill="#111" stroke="#111" stroke-width="0.28">Intensity (Counts)</text>
<clipPath id="cb"><rect x="390.1" y="14.2" width="284.29999999999995" height="209.9"/></clipPath>
<g clip-path="url(#cb)">
<circle cx="395.6" cy="27.2" r="3.7" fill="url(#sphS)"/>
<circle cx="397.0" cy="27.1" r="3.7" fill="url(#sphS)"/>
<circle cx="397.4" cy="27.3" r="3.7" fill="url(#sphS)"/>
<circle cx="397.7" cy="27.6" r="3.7" fill="url(#sphS)"/>
<circle cx="398.1" cy="27.7" r="3.7" fill="url(#sphS)"/>
<circle cx="398.5" cy="28.0" r="3.7" fill="url(#sphS)"/>
<circle cx="398.8" cy="28.2" r="3.7" fill="url(#sphS)"/>
<circle cx="399.2" cy="28.4" r="3.7" fill="url(#sphS)"/>
<circle cx="399.5" cy="28.6" r="3.7" fill="url(#sphS)"/>
<circle cx="399.9" cy="28.9" r="3.7" fill="url(#sphS)"/>
<circle cx="400.3" cy="29.0" r="3.7" fill="url(#sphS)"/>
<circle cx="400.6" cy="29.3" r="3.7" fill="url(#sphS)"/>
<circle cx="401.0" cy="29.4" r="3.7" fill="url(#sphS)"/>
<circle cx="401.4" cy="29.7" r="3.7" fill="url(#sphS)"/>
<circle cx="401.7" cy="29.9" r="3.7" fill="url(#sphS)"/>
<circle cx="402.1" cy="30.1" r="3.7" fill="url(#sphS)"/>
<circle cx="402.5" cy="30.3" r="3.7" fill="url(#sphS)"/>
<circle cx="402.8" cy="30.6" r="3.7" fill="url(#sphS)"/>
<circle cx="403.2" cy="30.8" r="3.7" fill="url(#sphS)"/>
<circle cx="403.5" cy="31.0" r="3.7" fill="url(#sphS)"/>
<circle cx="403.9" cy="31.3" r="3.7" fill="url(#sphS)"/>
<circle cx="404.3" cy="31.4" r="3.7" fill="url(#sphS)"/>
<circle cx="404.6" cy="31.7" r="3.7" fill="url(#sphS)"/>
<circle cx="405.0" cy="32.0" r="3.7" fill="url(#sphS)"/>
<circle cx="405.4" cy="32.1" r="3.7" fill="url(#sphS)"/>
<circle cx="405.7" cy="32.2" r="3.7" fill="url(#sphS)"/>
<circle cx="406.1" cy="32.5" r="3.7" fill="url(#sphS)"/>
<circle cx="406.4" cy="32.7" r="3.7" fill="url(#sphS)"/>
<circle cx="406.8" cy="32.9" r="3.7" fill="url(#sphS)"/>
<circle cx="407.2" cy="33.2" r="3.7" fill="url(#sphS)"/>
<circle cx="407.5" cy="33.2" r="3.7" fill="url(#sphS)"/>
<circle cx="407.9" cy="33.5" r="3.7" fill="url(#sphS)"/>
<circle cx="408.3" cy="33.7" r="3.7" fill="url(#sphS)"/>
<circle cx="408.6" cy="34.1" r="3.7" fill="url(#sphS)"/>
<circle cx="409.0" cy="34.2" r="3.7" fill="url(#sphS)"/>
<circle cx="409.3" cy="34.4" r="3.7" fill="url(#sphS)"/>
<circle cx="409.7" cy="34.6" r="3.7" fill="url(#sphS)"/>
<circle cx="410.1" cy="34.9" r="3.7" fill="url(#sphS)"/>
<circle cx="410.4" cy="35.1" r="3.7" fill="url(#sphS)"/>
<circle cx="410.8" cy="35.3" r="3.7" fill="url(#sphS)"/>
<circle cx="411.2" cy="35.6" r="3.7" fill="url(#sphS)"/>
<circle cx="411.5" cy="36.0" r="3.7" fill="url(#sphS)"/>
<circle cx="411.9" cy="36.0" r="3.7" fill="url(#sphS)"/>
<circle cx="412.3" cy="36.1" r="3.7" fill="url(#sphS)"/>
<circle cx="412.6" cy="36.4" r="3.7" fill="url(#sphS)"/>
<circle cx="413.0" cy="36.6" r="3.7" fill="url(#sphS)"/>
<circle cx="413.3" cy="36.8" r="3.7" fill="url(#sphS)"/>
<circle cx="413.7" cy="37.1" r="3.7" fill="url(#sphS)"/>
<circle cx="414.1" cy="37.2" r="3.7" fill="url(#sphS)"/>
<circle cx="414.4" cy="37.5" r="3.7" fill="url(#sphS)"/>
<circle cx="414.8" cy="37.6" r="3.7" fill="url(#sphS)"/>
<circle cx="415.2" cy="37.8" r="3.7" fill="url(#sphS)"/>
<circle cx="415.5" cy="38.2" r="3.7" fill="url(#sphS)"/>
<circle cx="415.9" cy="38.4" r="3.7" fill="url(#sphS)"/>
<circle cx="416.2" cy="38.4" r="3.7" fill="url(#sphS)"/>
<circle cx="416.6" cy="38.8" r="3.7" fill="url(#sphS)"/>
<circle cx="417.0" cy="38.8" r="3.7" fill="url(#sphS)"/>
<circle cx="417.3" cy="39.2" r="3.7" fill="url(#sphS)"/>
<circle cx="417.7" cy="39.3" r="3.7" fill="url(#sphS)"/>
<circle cx="418.1" cy="39.6" r="3.7" fill="url(#sphS)"/>
<circle cx="418.4" cy="39.9" r="3.7" fill="url(#sphS)"/>
<circle cx="418.8" cy="40.2" r="3.7" fill="url(#sphS)"/>
<circle cx="419.2" cy="40.3" r="3.7" fill="url(#sphS)"/>
<circle cx="419.5" cy="40.6" r="3.7" fill="url(#sphS)"/>
<circle cx="419.9" cy="40.7" r="3.7" fill="url(#sphS)"/>
<circle cx="420.2" cy="40.9" r="3.7" fill="url(#sphS)"/>
<circle cx="420.6" cy="41.2" r="3.7" fill="url(#sphS)"/>
<circle cx="421.0" cy="41.4" r="3.7" fill="url(#sphS)"/>
<circle cx="421.3" cy="41.6" r="3.7" fill="url(#sphS)"/>
<circle cx="421.7" cy="41.7" r="3.7" fill="url(#sphS)"/>
<circle cx="422.1" cy="42.0" r="3.7" fill="url(#sphS)"/>
<circle cx="422.4" cy="42.2" r="3.7" fill="url(#sphS)"/>
<circle cx="422.8" cy="42.5" r="3.7" fill="url(#sphS)"/>
<circle cx="423.1" cy="42.7" r="3.7" fill="url(#sphS)"/>
<circle cx="423.5" cy="42.8" r="3.7" fill="url(#sphS)"/>
<circle cx="423.9" cy="43.3" r="3.7" fill="url(#sphS)"/>
<circle cx="424.2" cy="43.2" r="3.7" fill="url(#sphS)"/>
<circle cx="424.6" cy="43.4" r="3.7" fill="url(#sphS)"/>
<circle cx="425.0" cy="43.6" r="3.7" fill="url(#sphS)"/>
<circle cx="425.3" cy="43.8" r="3.7" fill="url(#sphS)"/>
<circle cx="425.7" cy="44.0" r="3.7" fill="url(#sphS)"/>
<circle cx="426.0" cy="44.7" r="3.7" fill="url(#sphS)"/>
<circle cx="426.4" cy="44.7" r="3.7" fill="url(#sphS)"/>
<circle cx="426.8" cy="44.9" r="3.7" fill="url(#sphS)"/>
<circle cx="427.1" cy="45.1" r="3.7" fill="url(#sphS)"/>
<circle cx="427.5" cy="45.0" r="3.7" fill="url(#sphS)"/>
<circle cx="427.9" cy="45.4" r="3.7" fill="url(#sphS)"/>
<circle cx="428.2" cy="45.6" r="3.7" fill="url(#sphS)"/>
<circle cx="428.6" cy="45.9" r="3.7" fill="url(#sphS)"/>
<circle cx="429.0" cy="46.0" r="3.7" fill="url(#sphS)"/>
<circle cx="429.3" cy="46.4" r="3.7" fill="url(#sphS)"/>
<circle cx="429.7" cy="46.7" r="3.7" fill="url(#sphS)"/>
<circle cx="430.0" cy="46.7" r="3.7" fill="url(#sphS)"/>
<circle cx="430.4" cy="46.8" r="3.7" fill="url(#sphS)"/>
<circle cx="430.8" cy="47.3" r="3.7" fill="url(#sphS)"/>
<circle cx="431.1" cy="47.3" r="3.7" fill="url(#sphS)"/>
<circle cx="431.5" cy="47.6" r="3.7" fill="url(#sphS)"/>
<circle cx="431.9" cy="47.8" r="3.7" fill="url(#sphS)"/>
<circle cx="432.2" cy="48.0" r="3.7" fill="url(#sphS)"/>
<circle cx="432.6" cy="48.2" r="3.7" fill="url(#sphS)"/>
<circle cx="432.9" cy="48.5" r="3.7" fill="url(#sphS)"/>
<circle cx="433.3" cy="48.6" r="3.7" fill="url(#sphS)"/>
<circle cx="433.7" cy="49.0" r="3.7" fill="url(#sphS)"/>
<circle cx="434.0" cy="49.1" r="3.7" fill="url(#sphS)"/>
<circle cx="434.4" cy="49.3" r="3.7" fill="url(#sphS)"/>
<circle cx="434.8" cy="49.6" r="3.7" fill="url(#sphS)"/>
<circle cx="435.1" cy="49.8" r="3.7" fill="url(#sphS)"/>
<circle cx="435.5" cy="50.2" r="3.7" fill="url(#sphS)"/>
<circle cx="435.8" cy="50.4" r="3.7" fill="url(#sphS)"/>
<circle cx="436.2" cy="50.3" r="3.7" fill="url(#sphS)"/>
<circle cx="436.6" cy="50.7" r="3.7" fill="url(#sphS)"/>
<circle cx="436.9" cy="51.0" r="3.7" fill="url(#sphS)"/>
<circle cx="437.3" cy="51.1" r="3.7" fill="url(#sphS)"/>
<circle cx="437.7" cy="51.5" r="3.7" fill="url(#sphS)"/>
<circle cx="438.0" cy="51.5" r="3.7" fill="url(#sphS)"/>
<circle cx="438.4" cy="51.9" r="3.7" fill="url(#sphS)"/>
<circle cx="438.8" cy="52.1" r="3.7" fill="url(#sphS)"/>
<circle cx="439.1" cy="52.3" r="3.7" fill="url(#sphS)"/>
<circle cx="439.5" cy="52.2" r="3.7" fill="url(#sphS)"/>
<circle cx="439.8" cy="52.7" r="3.7" fill="url(#sphS)"/>
<circle cx="440.2" cy="52.8" r="3.7" fill="url(#sphS)"/>
<circle cx="440.6" cy="53.0" r="3.7" fill="url(#sphS)"/>
<circle cx="440.9" cy="53.3" r="3.7" fill="url(#sphS)"/>
<circle cx="441.3" cy="53.6" r="3.7" fill="url(#sphS)"/>
<circle cx="441.7" cy="53.6" r="3.7" fill="url(#sphS)"/>
<circle cx="442.0" cy="53.8" r="3.7" fill="url(#sphS)"/>
<circle cx="442.4" cy="54.3" r="3.7" fill="url(#sphS)"/>
<circle cx="442.7" cy="54.2" r="3.7" fill="url(#sphS)"/>
<circle cx="443.1" cy="54.6" r="3.7" fill="url(#sphS)"/>
<circle cx="443.5" cy="54.7" r="3.7" fill="url(#sphS)"/>
<circle cx="443.8" cy="55.1" r="3.7" fill="url(#sphS)"/>
<circle cx="444.2" cy="55.1" r="3.7" fill="url(#sphS)"/>
<circle cx="444.6" cy="55.1" r="3.7" fill="url(#sphS)"/>
<circle cx="444.9" cy="55.5" r="3.7" fill="url(#sphS)"/>
<circle cx="445.3" cy="55.8" r="3.7" fill="url(#sphS)"/>
<circle cx="445.6" cy="55.9" r="3.7" fill="url(#sphS)"/>
<circle cx="446.0" cy="56.2" r="3.7" fill="url(#sphS)"/>
<circle cx="446.4" cy="56.5" r="3.7" fill="url(#sphS)"/>
<circle cx="446.7" cy="56.7" r="3.7" fill="url(#sphS)"/>
<circle cx="447.1" cy="56.9" r="3.7" fill="url(#sphS)"/>
<circle cx="447.5" cy="57.2" r="3.7" fill="url(#sphS)"/>
<circle cx="447.8" cy="57.1" r="3.7" fill="url(#sphS)"/>
<circle cx="448.2" cy="57.7" r="3.7" fill="url(#sphS)"/>
<circle cx="448.6" cy="57.7" r="3.7" fill="url(#sphS)"/>
<circle cx="448.9" cy="57.7" r="3.7" fill="url(#sphS)"/>
<circle cx="449.3" cy="58.4" r="3.7" fill="url(#sphS)"/>
<circle cx="449.6" cy="58.6" r="3.7" fill="url(#sphS)"/>
<circle cx="450.0" cy="58.6" r="3.7" fill="url(#sphS)"/>
<circle cx="450.4" cy="58.7" r="3.7" fill="url(#sphS)"/>
<circle cx="450.7" cy="58.8" r="3.7" fill="url(#sphS)"/>
<circle cx="451.1" cy="59.2" r="3.7" fill="url(#sphS)"/>
<circle cx="451.5" cy="59.5" r="3.7" fill="url(#sphS)"/>
<circle cx="451.8" cy="59.8" r="3.7" fill="url(#sphS)"/>
<circle cx="452.2" cy="59.8" r="3.7" fill="url(#sphS)"/>
<circle cx="452.5" cy="59.9" r="3.7" fill="url(#sphS)"/>
<circle cx="452.9" cy="60.5" r="3.7" fill="url(#sphS)"/>
<circle cx="453.3" cy="60.7" r="3.7" fill="url(#sphS)"/>
<circle cx="453.6" cy="61.0" r="3.7" fill="url(#sphS)"/>
<circle cx="454.0" cy="60.8" r="3.7" fill="url(#sphS)"/>
<circle cx="454.4" cy="61.4" r="3.7" fill="url(#sphS)"/>
<circle cx="454.7" cy="61.6" r="3.7" fill="url(#sphS)"/>
<circle cx="455.1" cy="61.8" r="3.7" fill="url(#sphS)"/>
<circle cx="455.5" cy="61.8" r="3.7" fill="url(#sphS)"/>
<circle cx="455.8" cy="62.1" r="3.7" fill="url(#sphS)"/>
<circle cx="456.2" cy="62.1" r="3.7" fill="url(#sphS)"/>
<circle cx="456.5" cy="62.7" r="3.7" fill="url(#sphS)"/>
<circle cx="456.9" cy="62.9" r="3.7" fill="url(#sphS)"/>
<circle cx="457.3" cy="63.0" r="3.7" fill="url(#sphS)"/>
<circle cx="457.6" cy="63.6" r="3.7" fill="url(#sphS)"/>
<circle cx="458.0" cy="63.3" r="3.7" fill="url(#sphS)"/>
<circle cx="458.4" cy="63.7" r="3.7" fill="url(#sphS)"/>
<circle cx="458.7" cy="63.6" r="3.7" fill="url(#sphS)"/>
<circle cx="459.1" cy="63.9" r="3.7" fill="url(#sphS)"/>
<circle cx="459.4" cy="64.1" r="3.7" fill="url(#sphS)"/>
<circle cx="459.8" cy="64.4" r="3.7" fill="url(#sphS)"/>
<circle cx="460.2" cy="64.8" r="3.7" fill="url(#sphS)"/>
<circle cx="460.5" cy="64.8" r="3.7" fill="url(#sphS)"/>
<circle cx="460.9" cy="64.8" r="3.7" fill="url(#sphS)"/>
<circle cx="461.3" cy="65.4" r="3.7" fill="url(#sphS)"/>
<circle cx="461.6" cy="65.7" r="3.7" fill="url(#sphS)"/>
<circle cx="462.0" cy="66.0" r="3.7" fill="url(#sphS)"/>
<circle cx="462.3" cy="65.9" r="3.7" fill="url(#sphS)"/>
<circle cx="462.7" cy="66.3" r="3.7" fill="url(#sphS)"/>
<circle cx="463.1" cy="66.3" r="3.7" fill="url(#sphS)"/>
<circle cx="463.4" cy="66.2" r="3.7" fill="url(#sphS)"/>
<circle cx="463.8" cy="66.9" r="3.7" fill="url(#sphS)"/>
<circle cx="464.2" cy="66.9" r="3.7" fill="url(#sphS)"/>
<circle cx="464.5" cy="67.2" r="3.7" fill="url(#sphS)"/>
<circle cx="464.9" cy="67.5" r="3.7" fill="url(#sphS)"/>
<circle cx="465.3" cy="68.1" r="3.7" fill="url(#sphS)"/>
<circle cx="465.6" cy="67.9" r="3.7" fill="url(#sphS)"/>
<circle cx="466.0" cy="68.0" r="3.7" fill="url(#sphS)"/>
<circle cx="466.3" cy="68.2" r="3.7" fill="url(#sphS)"/>
<circle cx="466.7" cy="68.5" r="3.7" fill="url(#sphS)"/>
<circle cx="467.1" cy="68.4" r="3.7" fill="url(#sphS)"/>
<circle cx="467.4" cy="69.0" r="3.7" fill="url(#sphS)"/>
<circle cx="467.8" cy="69.2" r="3.7" fill="url(#sphS)"/>
<circle cx="468.2" cy="69.4" r="3.7" fill="url(#sphS)"/>
<circle cx="468.5" cy="69.8" r="3.7" fill="url(#sphS)"/>
<circle cx="468.9" cy="70.1" r="3.7" fill="url(#sphS)"/>
<circle cx="469.2" cy="69.9" r="3.7" fill="url(#sphS)"/>
<circle cx="469.6" cy="70.3" r="3.7" fill="url(#sphS)"/>
<circle cx="470.0" cy="70.5" r="3.7" fill="url(#sphS)"/>
<circle cx="470.3" cy="70.5" r="3.7" fill="url(#sphS)"/>
<circle cx="470.7" cy="70.9" r="3.7" fill="url(#sphS)"/>
<circle cx="471.1" cy="71.1" r="3.7" fill="url(#sphS)"/>
<circle cx="471.4" cy="71.2" r="3.7" fill="url(#sphS)"/>
<circle cx="471.8" cy="71.6" r="3.7" fill="url(#sphS)"/>
<circle cx="472.1" cy="71.8" r="3.7" fill="url(#sphS)"/>
<circle cx="472.5" cy="71.8" r="3.7" fill="url(#sphS)"/>
<circle cx="472.9" cy="72.0" r="3.7" fill="url(#sphS)"/>
<circle cx="473.2" cy="72.5" r="3.7" fill="url(#sphS)"/>
<circle cx="473.6" cy="72.4" r="3.7" fill="url(#sphS)"/>
<circle cx="474.0" cy="72.9" r="3.7" fill="url(#sphS)"/>
<circle cx="474.3" cy="73.0" r="3.7" fill="url(#sphS)"/>
<circle cx="474.7" cy="73.4" r="3.7" fill="url(#sphS)"/>
<circle cx="475.1" cy="73.7" r="3.7" fill="url(#sphS)"/>
<circle cx="475.4" cy="73.9" r="3.7" fill="url(#sphS)"/>
<circle cx="475.8" cy="74.1" r="3.7" fill="url(#sphS)"/>
<circle cx="476.1" cy="74.3" r="3.7" fill="url(#sphS)"/>
<circle cx="476.5" cy="74.1" r="3.7" fill="url(#sphS)"/>
<circle cx="476.9" cy="74.5" r="3.7" fill="url(#sphS)"/>
<circle cx="477.2" cy="74.5" r="3.7" fill="url(#sphS)"/>
<circle cx="477.6" cy="75.1" r="3.7" fill="url(#sphS)"/>
<circle cx="478.0" cy="75.3" r="3.7" fill="url(#sphS)"/>
<circle cx="478.3" cy="75.2" r="3.7" fill="url(#sphS)"/>
<circle cx="478.7" cy="75.5" r="3.7" fill="url(#sphS)"/>
<circle cx="479.0" cy="76.0" r="3.7" fill="url(#sphS)"/>
<circle cx="479.4" cy="76.4" r="3.7" fill="url(#sphS)"/>
<circle cx="479.8" cy="76.2" r="3.7" fill="url(#sphS)"/>
<circle cx="480.1" cy="77.1" r="3.7" fill="url(#sphS)"/>
<circle cx="480.5" cy="76.5" r="3.7" fill="url(#sphS)"/>
<circle cx="480.9" cy="77.5" r="3.7" fill="url(#sphS)"/>
<circle cx="481.2" cy="77.4" r="3.7" fill="url(#sphS)"/>
<circle cx="481.6" cy="77.5" r="3.7" fill="url(#sphS)"/>
<circle cx="481.9" cy="77.8" r="3.7" fill="url(#sphS)"/>
<circle cx="482.3" cy="77.8" r="3.7" fill="url(#sphS)"/>
<circle cx="482.7" cy="78.2" r="3.7" fill="url(#sphS)"/>
<circle cx="483.0" cy="78.5" r="3.7" fill="url(#sphS)"/>
<circle cx="483.4" cy="78.6" r="3.7" fill="url(#sphS)"/>
<circle cx="483.8" cy="78.6" r="3.7" fill="url(#sphS)"/>
<circle cx="484.1" cy="79.3" r="3.7" fill="url(#sphS)"/>
<circle cx="484.5" cy="78.9" r="3.7" fill="url(#sphS)"/>
<circle cx="484.9" cy="78.9" r="3.7" fill="url(#sphS)"/>
<circle cx="485.2" cy="79.5" r="3.7" fill="url(#sphS)"/>
<circle cx="485.6" cy="79.6" r="3.7" fill="url(#sphS)"/>
<circle cx="485.9" cy="80.2" r="3.7" fill="url(#sphS)"/>
<circle cx="486.3" cy="80.2" r="3.7" fill="url(#sphS)"/>
<circle cx="486.7" cy="80.5" r="3.7" fill="url(#sphS)"/>
<circle cx="487.0" cy="81.0" r="3.7" fill="url(#sphS)"/>
<circle cx="487.4" cy="81.2" r="3.7" fill="url(#sphS)"/>
<circle cx="487.8" cy="80.4" r="3.7" fill="url(#sphS)"/>
<circle cx="488.1" cy="81.6" r="3.7" fill="url(#sphS)"/>
<circle cx="488.5" cy="81.6" r="3.7" fill="url(#sphS)"/>
<circle cx="488.8" cy="81.8" r="3.7" fill="url(#sphS)"/>
<circle cx="489.2" cy="82.2" r="3.7" fill="url(#sphS)"/>
<circle cx="489.6" cy="82.5" r="3.7" fill="url(#sphS)"/>
<circle cx="489.9" cy="82.5" r="3.7" fill="url(#sphS)"/>
<circle cx="490.3" cy="82.3" r="3.7" fill="url(#sphS)"/>
<circle cx="490.7" cy="82.3" r="3.7" fill="url(#sphS)"/>
<circle cx="491.0" cy="82.9" r="3.7" fill="url(#sphS)"/>
<circle cx="491.4" cy="83.1" r="3.7" fill="url(#sphS)"/>
<circle cx="491.8" cy="83.2" r="3.7" fill="url(#sphS)"/>
<circle cx="492.1" cy="84.1" r="3.7" fill="url(#sphS)"/>
<circle cx="492.5" cy="83.8" r="3.7" fill="url(#sphS)"/>
<circle cx="492.8" cy="84.0" r="3.7" fill="url(#sphS)"/>
<circle cx="493.2" cy="83.7" r="3.7" fill="url(#sphS)"/>
<circle cx="493.6" cy="84.7" r="3.7" fill="url(#sphS)"/>
<circle cx="493.9" cy="84.6" r="3.7" fill="url(#sphS)"/>
<circle cx="494.3" cy="84.6" r="3.7" fill="url(#sphS)"/>
<circle cx="494.7" cy="85.4" r="3.7" fill="url(#sphS)"/>
<circle cx="495.0" cy="85.8" r="3.7" fill="url(#sphS)"/>
<circle cx="495.4" cy="85.8" r="3.7" fill="url(#sphS)"/>
<circle cx="495.7" cy="85.3" r="3.7" fill="url(#sphS)"/>
<circle cx="496.1" cy="85.6" r="3.7" fill="url(#sphS)"/>
<circle cx="496.5" cy="85.9" r="3.7" fill="url(#sphS)"/>
<circle cx="496.8" cy="86.8" r="3.7" fill="url(#sphS)"/>
<circle cx="497.2" cy="86.4" r="3.7" fill="url(#sphS)"/>
<circle cx="497.6" cy="87.2" r="3.7" fill="url(#sphS)"/>
<circle cx="497.9" cy="86.5" r="3.7" fill="url(#sphS)"/>
<circle cx="498.3" cy="87.2" r="3.7" fill="url(#sphS)"/>
<circle cx="498.6" cy="87.3" r="3.7" fill="url(#sphS)"/>
<circle cx="499.0" cy="87.8" r="3.7" fill="url(#sphS)"/>
<circle cx="499.4" cy="88.0" r="3.7" fill="url(#sphS)"/>
<circle cx="499.7" cy="88.8" r="3.7" fill="url(#sphS)"/>
<circle cx="500.1" cy="88.2" r="3.7" fill="url(#sphS)"/>
<circle cx="500.5" cy="88.9" r="3.7" fill="url(#sphS)"/>
<circle cx="500.8" cy="88.9" r="3.7" fill="url(#sphS)"/>
<circle cx="501.2" cy="89.3" r="3.7" fill="url(#sphS)"/>
<circle cx="501.6" cy="89.2" r="3.7" fill="url(#sphS)"/>
<circle cx="501.9" cy="89.6" r="3.7" fill="url(#sphS)"/>
<circle cx="502.3" cy="89.5" r="3.7" fill="url(#sphS)"/>
<circle cx="502.6" cy="89.7" r="3.7" fill="url(#sphS)"/>
<circle cx="503.0" cy="89.9" r="3.7" fill="url(#sphS)"/>
<circle cx="503.4" cy="90.4" r="3.7" fill="url(#sphS)"/>
<circle cx="503.7" cy="90.7" r="3.7" fill="url(#sphS)"/>
<circle cx="504.1" cy="91.0" r="3.7" fill="url(#sphS)"/>
<circle cx="504.5" cy="91.4" r="3.7" fill="url(#sphS)"/>
<circle cx="504.8" cy="91.7" r="3.7" fill="url(#sphS)"/>
<circle cx="505.2" cy="91.5" r="3.7" fill="url(#sphS)"/>
<circle cx="505.5" cy="91.4" r="3.7" fill="url(#sphS)"/>
<circle cx="505.9" cy="92.2" r="3.7" fill="url(#sphS)"/>
<circle cx="506.3" cy="92.1" r="3.7" fill="url(#sphS)"/>
<circle cx="506.6" cy="92.8" r="3.7" fill="url(#sphS)"/>
<circle cx="507.0" cy="92.6" r="3.7" fill="url(#sphS)"/>
<circle cx="507.4" cy="93.5" r="3.7" fill="url(#sphS)"/>
<circle cx="507.7" cy="92.5" r="3.7" fill="url(#sphS)"/>
<circle cx="508.1" cy="93.3" r="3.7" fill="url(#sphS)"/>
<circle cx="508.4" cy="94.1" r="3.7" fill="url(#sphS)"/>
<circle cx="508.8" cy="93.2" r="3.7" fill="url(#sphS)"/>
<circle cx="509.2" cy="93.9" r="3.7" fill="url(#sphS)"/>
<circle cx="509.5" cy="94.3" r="3.7" fill="url(#sphS)"/>
<circle cx="509.9" cy="94.4" r="3.7" fill="url(#sphS)"/>
<circle cx="510.3" cy="95.2" r="3.7" fill="url(#sphS)"/>
<circle cx="510.6" cy="93.8" r="3.7" fill="url(#sphS)"/>
<circle cx="511.0" cy="94.8" r="3.7" fill="url(#sphS)"/>
<circle cx="511.4" cy="95.1" r="3.7" fill="url(#sphS)"/>
<circle cx="511.7" cy="95.3" r="3.7" fill="url(#sphS)"/>
<circle cx="512.1" cy="95.5" r="3.7" fill="url(#sphS)"/>
<circle cx="512.4" cy="95.7" r="3.7" fill="url(#sphS)"/>
<circle cx="512.8" cy="96.5" r="3.7" fill="url(#sphS)"/>
<circle cx="513.2" cy="95.8" r="3.7" fill="url(#sphS)"/>
<circle cx="513.5" cy="96.4" r="3.7" fill="url(#sphS)"/>
<circle cx="513.9" cy="96.8" r="3.7" fill="url(#sphS)"/>
<circle cx="514.3" cy="97.0" r="3.7" fill="url(#sphS)"/>
<circle cx="514.6" cy="96.9" r="3.7" fill="url(#sphS)"/>
<circle cx="515.0" cy="98.0" r="3.7" fill="url(#sphS)"/>
<circle cx="515.3" cy="96.8" r="3.7" fill="url(#sphS)"/>
<circle cx="515.7" cy="98.1" r="3.7" fill="url(#sphS)"/>
<circle cx="516.1" cy="99.1" r="3.7" fill="url(#sphS)"/>
<circle cx="516.4" cy="98.6" r="3.7" fill="url(#sphS)"/>
<circle cx="516.8" cy="97.6" r="3.7" fill="url(#sphS)"/>
<circle cx="517.2" cy="99.1" r="3.7" fill="url(#sphS)"/>
<circle cx="517.5" cy="98.8" r="3.7" fill="url(#sphS)"/>
<circle cx="517.9" cy="99.1" r="3.7" fill="url(#sphS)"/>
<circle cx="518.2" cy="99.4" r="3.7" fill="url(#sphS)"/>
<circle cx="518.6" cy="99.1" r="3.7" fill="url(#sphS)"/>
<circle cx="519.0" cy="99.2" r="3.7" fill="url(#sphS)"/>
<circle cx="519.3" cy="99.5" r="3.7" fill="url(#sphS)"/>
<circle cx="519.7" cy="99.5" r="3.7" fill="url(#sphS)"/>
<circle cx="520.1" cy="100.4" r="3.7" fill="url(#sphS)"/>
<circle cx="520.4" cy="100.5" r="3.7" fill="url(#sphS)"/>
<circle cx="520.8" cy="101.4" r="3.7" fill="url(#sphS)"/>
<circle cx="521.2" cy="102.1" r="3.7" fill="url(#sphS)"/>
<circle cx="521.5" cy="101.8" r="3.7" fill="url(#sphS)"/>
<circle cx="521.9" cy="101.6" r="3.7" fill="url(#sphS)"/>
<circle cx="522.2" cy="102.0" r="3.7" fill="url(#sphS)"/>
<circle cx="522.6" cy="102.1" r="3.7" fill="url(#sphS)"/>
<circle cx="523.0" cy="102.4" r="3.7" fill="url(#sphS)"/>
<circle cx="523.3" cy="101.9" r="3.7" fill="url(#sphS)"/>
<circle cx="523.7" cy="101.8" r="3.7" fill="url(#sphS)"/>
<circle cx="524.1" cy="103.0" r="3.7" fill="url(#sphS)"/>
<circle cx="524.4" cy="103.3" r="3.7" fill="url(#sphS)"/>
<circle cx="524.8" cy="103.2" r="3.7" fill="url(#sphS)"/>
<circle cx="525.1" cy="102.4" r="3.7" fill="url(#sphS)"/>
<circle cx="525.5" cy="103.2" r="3.7" fill="url(#sphS)"/>
<circle cx="525.9" cy="103.5" r="3.7" fill="url(#sphS)"/>
<circle cx="526.2" cy="103.2" r="3.7" fill="url(#sphS)"/>
<circle cx="526.6" cy="105.1" r="3.7" fill="url(#sphS)"/>
<circle cx="527.0" cy="103.4" r="3.7" fill="url(#sphS)"/>
<circle cx="527.3" cy="103.8" r="3.7" fill="url(#sphS)"/>
<circle cx="527.7" cy="105.9" r="3.7" fill="url(#sphS)"/>
<circle cx="528.1" cy="105.1" r="3.7" fill="url(#sphS)"/>
<circle cx="528.4" cy="104.9" r="3.7" fill="url(#sphS)"/>
<circle cx="528.8" cy="105.0" r="3.7" fill="url(#sphS)"/>
<circle cx="529.1" cy="105.2" r="3.7" fill="url(#sphS)"/>
<circle cx="529.5" cy="106.0" r="3.7" fill="url(#sphS)"/>
<circle cx="529.9" cy="105.0" r="3.7" fill="url(#sphS)"/>
<circle cx="530.2" cy="105.3" r="3.7" fill="url(#sphS)"/>
<circle cx="530.6" cy="106.8" r="3.7" fill="url(#sphS)"/>
<circle cx="531.0" cy="106.9" r="3.7" fill="url(#sphS)"/>
<circle cx="531.3" cy="107.2" r="3.7" fill="url(#sphS)"/>
<circle cx="531.7" cy="108.0" r="3.7" fill="url(#sphS)"/>
<circle cx="532.0" cy="107.0" r="3.7" fill="url(#sphS)"/>
<circle cx="532.4" cy="107.4" r="3.7" fill="url(#sphS)"/>
<circle cx="532.8" cy="108.4" r="3.7" fill="url(#sphS)"/>
<circle cx="533.1" cy="108.5" r="3.7" fill="url(#sphS)"/>
<circle cx="533.5" cy="107.8" r="3.7" fill="url(#sphS)"/>
<circle cx="533.9" cy="108.8" r="3.7" fill="url(#sphS)"/>
<circle cx="534.2" cy="109.4" r="3.7" fill="url(#sphS)"/>
<circle cx="534.6" cy="108.6" r="3.7" fill="url(#sphS)"/>
<circle cx="534.9" cy="109.6" r="3.7" fill="url(#sphS)"/>
<circle cx="535.3" cy="109.3" r="3.7" fill="url(#sphS)"/>
<circle cx="535.7" cy="109.9" r="3.7" fill="url(#sphS)"/>
<circle cx="536.0" cy="109.7" r="3.7" fill="url(#sphS)"/>
<circle cx="536.4" cy="109.7" r="3.7" fill="url(#sphS)"/>
<circle cx="536.8" cy="108.4" r="3.7" fill="url(#sphS)"/>
<circle cx="537.1" cy="111.0" r="3.7" fill="url(#sphS)"/>
<circle cx="537.5" cy="109.3" r="3.7" fill="url(#sphS)"/>
<circle cx="537.9" cy="110.9" r="3.7" fill="url(#sphS)"/>
<circle cx="538.2" cy="110.7" r="3.7" fill="url(#sphS)"/>
<circle cx="538.6" cy="111.7" r="3.7" fill="url(#sphS)"/>
<circle cx="538.9" cy="112.8" r="3.7" fill="url(#sphS)"/>
<circle cx="539.3" cy="112.1" r="3.7" fill="url(#sphS)"/>
<circle cx="539.7" cy="112.1" r="3.7" fill="url(#sphS)"/>
<circle cx="540.0" cy="111.8" r="3.7" fill="url(#sphS)"/>
<circle cx="540.4" cy="111.4" r="3.7" fill="url(#sphS)"/>
<circle cx="540.8" cy="113.8" r="3.7" fill="url(#sphS)"/>
<circle cx="541.1" cy="112.6" r="3.7" fill="url(#sphS)"/>
<circle cx="541.5" cy="113.9" r="3.7" fill="url(#sphS)"/>
<circle cx="541.8" cy="113.6" r="3.7" fill="url(#sphS)"/>
<circle cx="542.2" cy="114.7" r="3.7" fill="url(#sphS)"/>
<circle cx="542.6" cy="113.4" r="3.7" fill="url(#sphS)"/>
<circle cx="542.9" cy="113.7" r="3.7" fill="url(#sphS)"/>
<circle cx="543.3" cy="114.7" r="3.7" fill="url(#sphS)"/>
<circle cx="543.7" cy="114.1" r="3.7" fill="url(#sphS)"/>
<circle cx="544.0" cy="116.0" r="3.7" fill="url(#sphS)"/>
<circle cx="544.4" cy="114.4" r="3.7" fill="url(#sphS)"/>
<circle cx="544.7" cy="114.4" r="3.7" fill="url(#sphS)"/>
<circle cx="545.1" cy="116.0" r="3.7" fill="url(#sphS)"/>
<circle cx="545.5" cy="116.0" r="3.7" fill="url(#sphS)"/>
<circle cx="545.8" cy="115.9" r="3.7" fill="url(#sphS)"/>
<circle cx="546.2" cy="115.9" r="3.7" fill="url(#sphS)"/>
<circle cx="546.6" cy="116.2" r="3.7" fill="url(#sphS)"/>
<circle cx="546.9" cy="115.8" r="3.7" fill="url(#sphS)"/>
<circle cx="547.3" cy="115.6" r="3.7" fill="url(#sphS)"/>
<circle cx="547.7" cy="117.2" r="3.7" fill="url(#sphS)"/>
<circle cx="548.0" cy="115.5" r="3.7" fill="url(#sphS)"/>
<circle cx="548.4" cy="118.4" r="3.7" fill="url(#sphS)"/>
<circle cx="548.7" cy="119.2" r="3.7" fill="url(#sphS)"/>
<circle cx="549.1" cy="117.6" r="3.7" fill="url(#sphS)"/>
<circle cx="549.5" cy="118.9" r="3.7" fill="url(#sphS)"/>
<circle cx="549.8" cy="118.3" r="3.7" fill="url(#sphS)"/>
<circle cx="550.2" cy="118.0" r="3.7" fill="url(#sphS)"/>
<circle cx="550.6" cy="118.3" r="3.7" fill="url(#sphS)"/>
<circle cx="550.9" cy="117.9" r="3.7" fill="url(#sphS)"/>
<circle cx="551.3" cy="118.4" r="3.7" fill="url(#sphS)"/>
<circle cx="551.6" cy="119.2" r="3.7" fill="url(#sphS)"/>
<circle cx="552.0" cy="119.2" r="3.7" fill="url(#sphS)"/>
<circle cx="552.4" cy="119.7" r="3.7" fill="url(#sphS)"/>
<circle cx="552.7" cy="121.6" r="3.7" fill="url(#sphS)"/>
<circle cx="553.1" cy="120.3" r="3.7" fill="url(#sphS)"/>
<circle cx="553.5" cy="120.7" r="3.7" fill="url(#sphS)"/>
<circle cx="553.8" cy="121.4" r="3.7" fill="url(#sphS)"/>
<circle cx="554.2" cy="118.5" r="3.7" fill="url(#sphS)"/>
<circle cx="554.5" cy="120.9" r="3.7" fill="url(#sphS)"/>
<circle cx="554.9" cy="121.6" r="3.7" fill="url(#sphS)"/>
<circle cx="555.3" cy="121.9" r="3.7" fill="url(#sphS)"/>
<circle cx="555.6" cy="122.0" r="3.7" fill="url(#sphS)"/>
<circle cx="556.0" cy="120.2" r="3.7" fill="url(#sphS)"/>
<circle cx="556.4" cy="121.1" r="3.7" fill="url(#sphS)"/>
<circle cx="556.7" cy="122.5" r="3.7" fill="url(#sphS)"/>
<circle cx="557.1" cy="124.1" r="3.7" fill="url(#sphS)"/>
<circle cx="557.5" cy="122.3" r="3.7" fill="url(#sphS)"/>
<circle cx="557.8" cy="121.9" r="3.7" fill="url(#sphS)"/>
<circle cx="558.2" cy="120.4" r="3.7" fill="url(#sphS)"/>
<circle cx="558.5" cy="122.1" r="3.7" fill="url(#sphS)"/>
<circle cx="558.9" cy="123.1" r="3.7" fill="url(#sphS)"/>
<circle cx="559.3" cy="124.6" r="3.7" fill="url(#sphS)"/>
<circle cx="559.6" cy="124.5" r="3.7" fill="url(#sphS)"/>
<circle cx="560.0" cy="125.4" r="3.7" fill="url(#sphS)"/>
<circle cx="560.4" cy="122.7" r="3.7" fill="url(#sphS)"/>
<circle cx="560.7" cy="125.8" r="3.7" fill="url(#sphS)"/>
<circle cx="561.1" cy="124.5" r="3.7" fill="url(#sphS)"/>
<circle cx="561.4" cy="125.1" r="3.7" fill="url(#sphS)"/>
<circle cx="561.8" cy="124.7" r="3.7" fill="url(#sphS)"/>
<circle cx="562.2" cy="125.7" r="3.7" fill="url(#sphS)"/>
<circle cx="562.5" cy="124.1" r="3.7" fill="url(#sphS)"/>
<circle cx="562.9" cy="125.2" r="3.7" fill="url(#sphS)"/>
<circle cx="563.3" cy="124.6" r="3.7" fill="url(#sphS)"/>
<circle cx="563.6" cy="126.2" r="3.7" fill="url(#sphS)"/>
<circle cx="564.0" cy="126.0" r="3.7" fill="url(#sphS)"/>
<circle cx="564.4" cy="124.3" r="3.7" fill="url(#sphS)"/>
<circle cx="564.7" cy="128.1" r="3.7" fill="url(#sphS)"/>
<circle cx="565.1" cy="128.9" r="3.7" fill="url(#sphS)"/>
<circle cx="565.4" cy="127.1" r="3.7" fill="url(#sphS)"/>
<circle cx="565.8" cy="129.2" r="3.7" fill="url(#sphS)"/>
<circle cx="566.2" cy="126.8" r="3.7" fill="url(#sphS)"/>
<circle cx="566.5" cy="129.4" r="3.7" fill="url(#sphS)"/>
<circle cx="566.9" cy="127.8" r="3.7" fill="url(#sphS)"/>
<circle cx="567.3" cy="127.1" r="3.7" fill="url(#sphS)"/>
<circle cx="567.6" cy="128.6" r="3.7" fill="url(#sphS)"/>
<circle cx="568.0" cy="128.6" r="3.7" fill="url(#sphS)"/>
<circle cx="568.3" cy="128.3" r="3.7" fill="url(#sphS)"/>
<circle cx="568.7" cy="129.5" r="3.7" fill="url(#sphS)"/>
<circle cx="569.1" cy="128.6" r="3.7" fill="url(#sphS)"/>
<circle cx="569.4" cy="129.3" r="3.7" fill="url(#sphS)"/>
<circle cx="569.8" cy="129.9" r="3.7" fill="url(#sphS)"/>
<circle cx="570.2" cy="130.3" r="3.7" fill="url(#sphS)"/>
<circle cx="570.5" cy="131.1" r="3.7" fill="url(#sphS)"/>
<circle cx="570.9" cy="131.2" r="3.7" fill="url(#sphS)"/>
<circle cx="571.2" cy="131.1" r="3.7" fill="url(#sphS)"/>
<circle cx="571.6" cy="128.6" r="3.7" fill="url(#sphS)"/>
<circle cx="572.0" cy="133.5" r="3.7" fill="url(#sphS)"/>
<circle cx="572.3" cy="134.4" r="3.7" fill="url(#sphS)"/>
<circle cx="572.7" cy="132.9" r="3.7" fill="url(#sphS)"/>
<circle cx="573.1" cy="132.6" r="3.7" fill="url(#sphS)"/>
<circle cx="573.4" cy="132.7" r="3.7" fill="url(#sphS)"/>
<circle cx="573.8" cy="129.4" r="3.7" fill="url(#sphS)"/>
<circle cx="574.2" cy="131.0" r="3.7" fill="url(#sphS)"/>
<circle cx="574.5" cy="133.5" r="3.7" fill="url(#sphS)"/>
<circle cx="574.9" cy="133.7" r="3.7" fill="url(#sphS)"/>
<circle cx="575.2" cy="135.3" r="3.7" fill="url(#sphS)"/>
<circle cx="575.6" cy="132.5" r="3.7" fill="url(#sphS)"/>
<circle cx="576.0" cy="135.2" r="3.7" fill="url(#sphS)"/>
<circle cx="576.3" cy="134.6" r="3.7" fill="url(#sphS)"/>
<circle cx="576.7" cy="133.1" r="3.7" fill="url(#sphS)"/>
<circle cx="577.1" cy="137.0" r="3.7" fill="url(#sphS)"/>
<circle cx="577.4" cy="133.5" r="3.7" fill="url(#sphS)"/>
<circle cx="577.8" cy="133.1" r="3.7" fill="url(#sphS)"/>
<circle cx="578.1" cy="133.2" r="3.7" fill="url(#sphS)"/>
<circle cx="578.5" cy="133.5" r="3.7" fill="url(#sphS)"/>
<circle cx="578.9" cy="134.5" r="3.7" fill="url(#sphS)"/>
<circle cx="579.2" cy="136.5" r="3.7" fill="url(#sphS)"/>
<circle cx="579.6" cy="135.5" r="3.7" fill="url(#sphS)"/>
<circle cx="580.0" cy="133.6" r="3.7" fill="url(#sphS)"/>
<circle cx="580.3" cy="137.6" r="3.7" fill="url(#sphS)"/>
<circle cx="580.7" cy="135.1" r="3.7" fill="url(#sphS)"/>
<circle cx="581.0" cy="136.6" r="3.7" fill="url(#sphS)"/>
<circle cx="581.4" cy="136.3" r="3.7" fill="url(#sphS)"/>
<circle cx="581.8" cy="139.5" r="3.7" fill="url(#sphS)"/>
<circle cx="582.1" cy="135.5" r="3.7" fill="url(#sphS)"/>
<circle cx="582.5" cy="140.9" r="3.7" fill="url(#sphS)"/>
<circle cx="582.9" cy="138.2" r="3.7" fill="url(#sphS)"/>
<circle cx="583.2" cy="137.6" r="3.7" fill="url(#sphS)"/>
<circle cx="583.6" cy="138.9" r="3.7" fill="url(#sphS)"/>
<circle cx="584.0" cy="137.9" r="3.7" fill="url(#sphS)"/>
<circle cx="584.3" cy="137.7" r="3.7" fill="url(#sphS)"/>
<circle cx="584.7" cy="137.4" r="3.7" fill="url(#sphS)"/>
<circle cx="585.0" cy="135.5" r="3.7" fill="url(#sphS)"/>
<circle cx="585.4" cy="141.3" r="3.7" fill="url(#sphS)"/>
<circle cx="585.8" cy="140.3" r="3.7" fill="url(#sphS)"/>
<circle cx="586.1" cy="139.1" r="3.7" fill="url(#sphS)"/>
<circle cx="586.5" cy="142.6" r="3.7" fill="url(#sphS)"/>
<circle cx="586.9" cy="138.2" r="3.7" fill="url(#sphS)"/>
<circle cx="587.2" cy="142.4" r="3.7" fill="url(#sphS)"/>
<circle cx="587.6" cy="140.6" r="3.7" fill="url(#sphS)"/>
<circle cx="587.9" cy="140.7" r="3.7" fill="url(#sphS)"/>
<circle cx="588.3" cy="141.4" r="3.7" fill="url(#sphS)"/>
<circle cx="588.7" cy="138.8" r="3.7" fill="url(#sphS)"/>
<circle cx="589.0" cy="143.2" r="3.7" fill="url(#sphS)"/>
<circle cx="589.4" cy="144.4" r="3.7" fill="url(#sphS)"/>
<circle cx="589.8" cy="139.4" r="3.7" fill="url(#sphS)"/>
<circle cx="590.1" cy="143.2" r="3.7" fill="url(#sphS)"/>
<circle cx="590.5" cy="143.2" r="3.7" fill="url(#sphS)"/>
<circle cx="590.8" cy="145.4" r="3.7" fill="url(#sphS)"/>
<circle cx="591.2" cy="145.6" r="3.7" fill="url(#sphS)"/>
<circle cx="591.6" cy="144.0" r="3.7" fill="url(#sphS)"/>
<circle cx="591.9" cy="144.4" r="3.7" fill="url(#sphS)"/>
<circle cx="592.3" cy="143.9" r="3.7" fill="url(#sphS)"/>
<circle cx="592.7" cy="142.3" r="3.7" fill="url(#sphS)"/>
<circle cx="593.0" cy="144.5" r="3.7" fill="url(#sphS)"/>
<circle cx="593.4" cy="142.9" r="3.7" fill="url(#sphS)"/>
<circle cx="593.8" cy="144.7" r="3.7" fill="url(#sphS)"/>
<circle cx="594.1" cy="144.2" r="3.7" fill="url(#sphS)"/>
<circle cx="594.5" cy="141.3" r="3.7" fill="url(#sphS)"/>
<circle cx="594.8" cy="145.6" r="3.7" fill="url(#sphS)"/>
<circle cx="595.2" cy="147.5" r="3.7" fill="url(#sphS)"/>
<circle cx="595.6" cy="147.1" r="3.7" fill="url(#sphS)"/>
<circle cx="595.9" cy="143.1" r="3.7" fill="url(#sphS)"/>
<circle cx="596.3" cy="144.9" r="3.7" fill="url(#sphS)"/>
<circle cx="596.7" cy="151.1" r="3.7" fill="url(#sphS)"/>
<circle cx="597.0" cy="146.1" r="3.7" fill="url(#sphS)"/>
<circle cx="597.4" cy="146.3" r="3.7" fill="url(#sphS)"/>
<circle cx="597.7" cy="145.8" r="3.7" fill="url(#sphS)"/>
<circle cx="598.1" cy="151.9" r="3.7" fill="url(#sphS)"/>
<circle cx="598.5" cy="144.4" r="3.7" fill="url(#sphS)"/>
<circle cx="598.8" cy="147.1" r="3.7" fill="url(#sphS)"/>
<circle cx="599.2" cy="144.0" r="3.7" fill="url(#sphS)"/>
<circle cx="599.6" cy="148.1" r="3.7" fill="url(#sphS)"/>
<circle cx="599.9" cy="146.5" r="3.7" fill="url(#sphS)"/>
<circle cx="600.3" cy="151.9" r="3.7" fill="url(#sphS)"/>
<circle cx="600.7" cy="142.9" r="3.7" fill="url(#sphS)"/>
<circle cx="601.0" cy="146.9" r="3.7" fill="url(#sphS)"/>
<circle cx="601.4" cy="149.0" r="3.7" fill="url(#sphS)"/>
<circle cx="601.7" cy="147.9" r="3.7" fill="url(#sphS)"/>
<circle cx="602.1" cy="147.9" r="3.7" fill="url(#sphS)"/>
<circle cx="602.5" cy="149.9" r="3.7" fill="url(#sphS)"/>
<circle cx="602.8" cy="149.7" r="3.7" fill="url(#sphS)"/>
<circle cx="603.2" cy="151.6" r="3.7" fill="url(#sphS)"/>
<circle cx="603.6" cy="150.4" r="3.7" fill="url(#sphS)"/>
<circle cx="603.9" cy="148.1" r="3.7" fill="url(#sphS)"/>
<circle cx="604.3" cy="151.3" r="3.7" fill="url(#sphS)"/>
<circle cx="604.6" cy="147.7" r="3.7" fill="url(#sphS)"/>
<circle cx="605.0" cy="150.6" r="3.7" fill="url(#sphS)"/>
<circle cx="605.4" cy="150.1" r="3.7" fill="url(#sphS)"/>
<circle cx="605.7" cy="150.6" r="3.7" fill="url(#sphS)"/>
<circle cx="606.1" cy="152.7" r="3.7" fill="url(#sphS)"/>
<circle cx="606.5" cy="153.5" r="3.7" fill="url(#sphS)"/>
<circle cx="606.8" cy="150.8" r="3.7" fill="url(#sphS)"/>
<circle cx="607.2" cy="157.0" r="3.7" fill="url(#sphS)"/>
<circle cx="607.5" cy="150.4" r="3.7" fill="url(#sphS)"/>
<circle cx="607.9" cy="153.8" r="3.7" fill="url(#sphS)"/>
<circle cx="608.3" cy="157.0" r="3.7" fill="url(#sphS)"/>
<circle cx="608.6" cy="152.7" r="3.7" fill="url(#sphS)"/>
<circle cx="609.0" cy="153.5" r="3.7" fill="url(#sphS)"/>
<circle cx="609.4" cy="152.1" r="3.7" fill="url(#sphS)"/>
<circle cx="609.7" cy="152.1" r="3.7" fill="url(#sphS)"/>
<circle cx="610.1" cy="158.1" r="3.7" fill="url(#sphS)"/>
<circle cx="610.5" cy="151.1" r="3.7" fill="url(#sphS)"/>
<circle cx="610.8" cy="152.4" r="3.7" fill="url(#sphS)"/>
<circle cx="611.2" cy="153.2" r="3.7" fill="url(#sphS)"/>
<circle cx="611.5" cy="156.0" r="3.7" fill="url(#sphS)"/>
<circle cx="611.9" cy="154.7" r="3.7" fill="url(#sphS)"/>
<circle cx="612.3" cy="154.4" r="3.7" fill="url(#sphS)"/>
<circle cx="612.6" cy="156.3" r="3.7" fill="url(#sphS)"/>
<circle cx="613.0" cy="156.7" r="3.7" fill="url(#sphS)"/>
<circle cx="613.4" cy="156.3" r="3.7" fill="url(#sphS)"/>
<circle cx="613.7" cy="158.5" r="3.7" fill="url(#sphS)"/>
<circle cx="614.1" cy="161.4" r="3.7" fill="url(#sphS)"/>
<circle cx="614.4" cy="153.2" r="3.7" fill="url(#sphS)"/>
<circle cx="614.8" cy="160.9" r="3.7" fill="url(#sphS)"/>
<circle cx="615.2" cy="160.5" r="3.7" fill="url(#sphS)"/>
<circle cx="615.5" cy="160.9" r="3.7" fill="url(#sphS)"/>
<circle cx="615.9" cy="157.4" r="3.7" fill="url(#sphS)"/>
<circle cx="616.3" cy="158.9" r="3.7" fill="url(#sphS)"/>
<circle cx="616.6" cy="158.9" r="3.7" fill="url(#sphS)"/>
<circle cx="617.0" cy="161.4" r="3.7" fill="url(#sphS)"/>
<circle cx="617.3" cy="158.9" r="3.7" fill="url(#sphS)"/>
<circle cx="617.7" cy="156.0" r="3.7" fill="url(#sphS)"/>
<circle cx="618.1" cy="162.3" r="3.7" fill="url(#sphS)"/>
<circle cx="618.4" cy="158.1" r="3.7" fill="url(#sphS)"/>
<circle cx="618.8" cy="158.1" r="3.7" fill="url(#sphS)"/>
<circle cx="619.2" cy="160.5" r="3.7" fill="url(#sphS)"/>
<circle cx="619.5" cy="155.3" r="3.7" fill="url(#sphS)"/>
<circle cx="619.9" cy="160.5" r="3.7" fill="url(#sphS)"/>
<circle cx="620.3" cy="158.5" r="3.7" fill="url(#sphS)"/>
<circle cx="620.6" cy="157.7" r="3.7" fill="url(#sphS)"/>
<circle cx="621.0" cy="159.3" r="3.7" fill="url(#sphS)"/>
<circle cx="621.3" cy="160.9" r="3.7" fill="url(#sphS)"/>
<circle cx="621.7" cy="161.8" r="3.7" fill="url(#sphS)"/>
<circle cx="622.1" cy="164.3" r="3.7" fill="url(#sphS)"/>
<circle cx="622.4" cy="161.4" r="3.7" fill="url(#sphS)"/>
<circle cx="622.8" cy="160.5" r="3.7" fill="url(#sphS)"/>
<circle cx="623.2" cy="158.9" r="3.7" fill="url(#sphS)"/>
<circle cx="623.5" cy="159.7" r="3.7" fill="url(#sphS)"/>
<circle cx="623.9" cy="159.3" r="3.7" fill="url(#sphS)"/>
<circle cx="624.2" cy="160.9" r="3.7" fill="url(#sphS)"/>
<circle cx="624.6" cy="163.8" r="3.7" fill="url(#sphS)"/>
<circle cx="625.0" cy="166.6" r="3.7" fill="url(#sphS)"/>
<circle cx="625.3" cy="164.3" r="3.7" fill="url(#sphS)"/>
<circle cx="625.7" cy="160.1" r="3.7" fill="url(#sphS)"/>
<circle cx="626.1" cy="166.6" r="3.7" fill="url(#sphS)"/>
<circle cx="626.4" cy="169.3" r="3.7" fill="url(#sphS)"/>
<circle cx="626.8" cy="158.1" r="3.7" fill="url(#sphS)"/>
<circle cx="627.1" cy="163.8" r="3.7" fill="url(#sphS)"/>
<circle cx="627.5" cy="164.9" r="3.7" fill="url(#sphS)"/>
<circle cx="627.9" cy="164.3" r="3.7" fill="url(#sphS)"/>
<circle cx="628.2" cy="166.6" r="3.7" fill="url(#sphS)"/>
<circle cx="628.6" cy="161.4" r="3.7" fill="url(#sphS)"/>
<circle cx="629.0" cy="166.0" r="3.7" fill="url(#sphS)"/>
<circle cx="629.3" cy="170.8" r="3.7" fill="url(#sphS)"/>
<circle cx="629.7" cy="167.3" r="3.7" fill="url(#sphS)"/>
<circle cx="630.1" cy="160.9" r="3.7" fill="url(#sphS)"/>
<circle cx="630.4" cy="170.8" r="3.7" fill="url(#sphS)"/>
<circle cx="630.8" cy="170.8" r="3.7" fill="url(#sphS)"/>
<circle cx="631.1" cy="160.9" r="3.7" fill="url(#sphS)"/>
<circle cx="631.5" cy="170.0" r="3.7" fill="url(#sphS)"/>
<circle cx="631.9" cy="165.5" r="3.7" fill="url(#sphS)"/>
<circle cx="632.2" cy="170.0" r="3.7" fill="url(#sphS)"/>
<circle cx="632.6" cy="167.3" r="3.7" fill="url(#sphS)"/>
<circle cx="633.0" cy="167.9" r="3.7" fill="url(#sphS)"/>
<circle cx="633.3" cy="175.3" r="3.7" fill="url(#sphS)"/>
<circle cx="633.7" cy="170.8" r="3.7" fill="url(#sphS)"/>
<circle cx="634.0" cy="171.6" r="3.7" fill="url(#sphS)"/>
<circle cx="634.4" cy="164.9" r="3.7" fill="url(#sphS)"/>
<circle cx="634.8" cy="170.8" r="3.7" fill="url(#sphS)"/>
<circle cx="635.1" cy="169.3" r="3.7" fill="url(#sphS)"/>
<circle cx="635.5" cy="170.0" r="3.7" fill="url(#sphS)"/>
<circle cx="635.9" cy="177.4" r="3.7" fill="url(#sphS)"/>
<circle cx="636.2" cy="170.0" r="3.7" fill="url(#sphS)"/>
<circle cx="636.6" cy="167.9" r="3.7" fill="url(#sphS)"/>
<circle cx="637.0" cy="176.3" r="3.7" fill="url(#sphS)"/>
<circle cx="637.3" cy="172.4" r="3.7" fill="url(#sphS)"/>
<circle cx="637.7" cy="168.6" r="3.7" fill="url(#sphS)"/>
<circle cx="638.0" cy="173.3" r="3.7" fill="url(#sphS)"/>
<circle cx="638.4" cy="165.5" r="3.7" fill="url(#sphS)"/>
<circle cx="638.8" cy="172.4" r="3.7" fill="url(#sphS)"/>
<circle cx="639.1" cy="170.0" r="3.7" fill="url(#sphS)"/>
<circle cx="639.5" cy="173.3" r="3.7" fill="url(#sphS)"/>
<circle cx="639.9" cy="167.9" r="3.7" fill="url(#sphS)"/>
<circle cx="640.2" cy="173.3" r="3.7" fill="url(#sphS)"/>
<circle cx="640.6" cy="170.0" r="3.7" fill="url(#sphS)"/>
<circle cx="640.9" cy="173.3" r="3.7" fill="url(#sphS)"/>
<circle cx="641.3" cy="170.8" r="3.7" fill="url(#sphS)"/>
<circle cx="641.7" cy="173.3" r="3.7" fill="url(#sphS)"/>
<circle cx="642.0" cy="172.4" r="3.7" fill="url(#sphS)"/>
<circle cx="642.4" cy="177.4" r="3.7" fill="url(#sphS)"/>
<circle cx="642.8" cy="178.6" r="3.7" fill="url(#sphS)"/>
<circle cx="643.1" cy="174.3" r="3.7" fill="url(#sphS)"/>
<circle cx="643.5" cy="175.3" r="3.7" fill="url(#sphS)"/>
<circle cx="643.8" cy="170.0" r="3.7" fill="url(#sphS)"/>
<circle cx="644.2" cy="175.3" r="3.7" fill="url(#sphS)"/>
<circle cx="644.6" cy="174.3" r="3.7" fill="url(#sphS)"/>
<circle cx="644.9" cy="177.4" r="3.7" fill="url(#sphS)"/>
<circle cx="645.3" cy="170.0" r="3.7" fill="url(#sphS)"/>
<circle cx="645.7" cy="173.3" r="3.7" fill="url(#sphS)"/>
<circle cx="646.0" cy="175.3" r="3.7" fill="url(#sphS)"/>
<circle cx="646.4" cy="176.3" r="3.7" fill="url(#sphS)"/>
<circle cx="646.8" cy="176.3" r="3.7" fill="url(#sphS)"/>
<circle cx="647.1" cy="182.8" r="3.7" fill="url(#sphS)"/>
<circle cx="647.5" cy="177.4" r="3.7" fill="url(#sphS)"/>
<circle cx="647.8" cy="174.3" r="3.7" fill="url(#sphS)"/>
<circle cx="648.2" cy="178.6" r="3.7" fill="url(#sphS)"/>
<circle cx="648.6" cy="172.4" r="3.7" fill="url(#sphS)"/>
<circle cx="648.9" cy="188.2" r="3.7" fill="url(#sphS)"/>
<circle cx="649.3" cy="179.9" r="3.7" fill="url(#sphS)"/>
<circle cx="649.7" cy="176.3" r="3.7" fill="url(#sphS)"/>
<circle cx="650.0" cy="174.3" r="3.7" fill="url(#sphS)"/>
<circle cx="650.4" cy="184.4" r="3.7" fill="url(#sphS)"/>
<circle cx="650.7" cy="179.9" r="3.7" fill="url(#sphS)"/>
<circle cx="651.1" cy="190.5" r="3.7" fill="url(#sphS)"/>
<circle cx="651.5" cy="179.9" r="3.7" fill="url(#sphS)"/>
<circle cx="651.8" cy="181.3" r="3.7" fill="url(#sphS)"/>
<circle cx="652.2" cy="181.3" r="3.7" fill="url(#sphS)"/>
<circle cx="652.6" cy="179.9" r="3.7" fill="url(#sphS)"/>
<circle cx="652.9" cy="175.3" r="3.7" fill="url(#sphS)"/>
<circle cx="653.3" cy="179.9" r="3.7" fill="url(#sphS)"/>
<circle cx="653.6" cy="177.4" r="3.7" fill="url(#sphS)"/>
<circle cx="654.0" cy="177.4" r="3.7" fill="url(#sphS)"/>
<circle cx="654.4" cy="184.4" r="3.7" fill="url(#sphS)"/>
<circle cx="654.7" cy="182.8" r="3.7" fill="url(#sphS)"/>
<circle cx="655.1" cy="178.6" r="3.7" fill="url(#sphS)"/>
<circle cx="655.5" cy="177.4" r="3.7" fill="url(#sphS)"/>
<circle cx="655.8" cy="186.2" r="3.7" fill="url(#sphS)"/>
<circle cx="656.2" cy="188.2" r="3.7" fill="url(#sphS)"/>
<circle cx="656.6" cy="184.4" r="3.7" fill="url(#sphS)"/>
<circle cx="656.9" cy="181.3" r="3.7" fill="url(#sphS)"/>
<circle cx="657.3" cy="186.2" r="3.7" fill="url(#sphS)"/>
<circle cx="657.6" cy="178.6" r="3.7" fill="url(#sphS)"/>
<circle cx="658.0" cy="181.3" r="3.7" fill="url(#sphS)"/>
<circle cx="658.4" cy="184.4" r="3.7" fill="url(#sphS)"/>
<circle cx="658.7" cy="182.8" r="3.7" fill="url(#sphS)"/>
<circle cx="659.1" cy="188.2" r="3.7" fill="url(#sphS)"/>
<circle cx="659.5" cy="178.6" r="3.7" fill="url(#sphS)"/>
<circle cx="659.8" cy="190.5" r="3.7" fill="url(#sphS)"/>
<circle cx="660.2" cy="182.8" r="3.7" fill="url(#sphS)"/>
<circle cx="660.5" cy="176.3" r="3.7" fill="url(#sphS)"/>
<circle cx="660.9" cy="186.2" r="3.7" fill="url(#sphS)"/>
<circle cx="661.3" cy="193.2" r="3.7" fill="url(#sphS)"/>
<circle cx="661.6" cy="184.4" r="3.7" fill="url(#sphS)"/>
<circle cx="662.0" cy="190.5" r="3.7" fill="url(#sphS)"/>
<circle cx="662.4" cy="186.2" r="3.7" fill="url(#sphS)"/>
<circle cx="662.7" cy="182.8" r="3.7" fill="url(#sphS)"/>
<circle cx="663.1" cy="190.5" r="3.7" fill="url(#sphS)"/>
<circle cx="663.4" cy="184.4" r="3.7" fill="url(#sphS)"/>
<circle cx="663.8" cy="186.2" r="3.7" fill="url(#sphS)"/>
<circle cx="664.2" cy="186.2" r="3.7" fill="url(#sphS)"/>
<circle cx="664.5" cy="200.2" r="3.7" fill="url(#sphS)"/>
<circle cx="664.9" cy="177.4" r="3.7" fill="url(#sphS)"/>
<circle cx="665.3" cy="193.2" r="3.7" fill="url(#sphS)"/>
<circle cx="665.6" cy="193.2" r="3.7" fill="url(#sphS)"/>
<circle cx="666.0" cy="184.4" r="3.7" fill="url(#sphS)"/>
<circle cx="666.4" cy="184.4" r="3.7" fill="url(#sphS)"/>
<circle cx="666.7" cy="179.9" r="3.7" fill="url(#sphS)"/>
<circle cx="667.1" cy="193.2" r="3.7" fill="url(#sphS)"/>
<circle cx="667.4" cy="177.4" r="3.7" fill="url(#sphS)"/>
<circle cx="667.8" cy="186.2" r="3.7" fill="url(#sphS)"/>
<circle cx="668.2" cy="181.3" r="3.7" fill="url(#sphS)"/>
<circle cx="668.5" cy="205.2" r="3.7" fill="url(#sphS)"/>
<circle cx="668.9" cy="188.2" r="3.7" fill="url(#sphS)"/>
<circle cx="669.3" cy="184.4" r="3.7" fill="url(#sphS)"/>
<circle cx="669.6" cy="181.3" r="3.7" fill="url(#sphS)"/>
<circle cx="670.0" cy="182.8" r="3.7" fill="url(#sphS)"/>
<circle cx="670.3" cy="186.2" r="3.7" fill="url(#sphS)"/>
<circle cx="670.7" cy="184.4" r="3.7" fill="url(#sphS)"/>
<circle cx="671.1" cy="188.2" r="3.7" fill="url(#sphS)"/>
<circle cx="671.4" cy="186.2" r="3.7" fill="url(#sphS)"/>
<circle cx="671.8" cy="184.4" r="3.7" fill="url(#sphS)"/>
<circle cx="672.2" cy="188.2" r="3.7" fill="url(#sphS)"/>
<circle cx="672.5" cy="200.2" r="3.7" fill="url(#sphS)"/>
<circle cx="672.9" cy="190.5" r="3.7" fill="url(#sphS)"/>
<circle cx="673.3" cy="190.5" r="3.7" fill="url(#sphS)"/>
<circle cx="673.6" cy="190.5" r="3.7" fill="url(#sphS)"/>
<circle cx="674.0" cy="184.4" r="3.7" fill="url(#sphS)"/>
<circle cx="674.3" cy="205.2" r="3.7" fill="url(#sphS)"/>
<circle cx="674.7" cy="212.1" r="3.7" fill="url(#sphS)"/>
<circle cx="395.6" cy="49.3" r="3.7" fill="url(#sphS)"/>
<circle cx="392.7" cy="212.0" r="3.7" fill="url(#sphS)"/>
<circle cx="393.2" cy="224.1" r="3.7" fill="url(#sphS)"/>
<circle cx="394.5" cy="224.3" r="3.7" fill="url(#sphS)"/>
<circle cx="657.3" cy="196.1" r="3.7" fill="url(#sphS)"/>
<circle cx="669.8" cy="212.3" r="3.7" fill="url(#sphS)"/>
</g>
<circle cx="591.6" cy="30.4" r="3.6" fill="url(#sphS)"/>
<text x="604.70" y="34.80" font-size="11.1" text-anchor="start" font-weight="bold" fill="#111"  stroke="#111" stroke-width="0.28">VB10@α-CD</text>
<text x="546.30" y="91.90" font-size="16" text-anchor="start" font-weight="bold" fill="#111"  stroke="#111" stroke-width="0.28">τ = 977 ms</text>
<line x1="50.90" y1="486.30" x2="50.90" y2="490.70" stroke="#1a1a1a" stroke-width="1.1"/>
<text x="50.90" y="501.70" font-size="10" text-anchor="middle" font-weight="bold" fill="#111"  stroke="#111" stroke-width="0.28">0</text>
<line x1="76.24" y1="486.30" x2="76.24" y2="488.70" stroke="#1a1a1a" stroke-width="1.1"/>
<line x1="101.58" y1="486.30" x2="101.58" y2="490.70" stroke="#1a1a1a" stroke-width="1.1"/>
<text x="101.58" y="501.70" font-size="10" text-anchor="middle" font-weight="bold" fill="#111"  stroke="#111" stroke-width="0.28">200</text>
<line x1="126.92" y1="486.30" x2="126.92" y2="488.70" stroke="#1a1a1a" stroke-width="1.1"/>
<line x1="152.26" y1="486.30" x2="152.26" y2="490.70" stroke="#1a1a1a" stroke-width="1.1"/>
<text x="152.26" y="501.70" font-size="10" text-anchor="middle" font-weight="bold" fill="#111"  stroke="#111" stroke-width="0.28">400</text>
<line x1="177.60" y1="486.30" x2="177.60" y2="488.70" stroke="#1a1a1a" stroke-width="1.1"/>
<line x1="202.94" y1="486.30" x2="202.94" y2="490.70" stroke="#1a1a1a" stroke-width="1.1"/>
<text x="202.94" y="501.70" font-size="10" text-anchor="middle" font-weight="bold" fill="#111"  stroke="#111" stroke-width="0.28">600</text>
<line x1="228.28" y1="486.30" x2="228.28" y2="488.70" stroke="#1a1a1a" stroke-width="1.1"/>
<line x1="253.62" y1="486.30" x2="253.62" y2="490.70" stroke="#1a1a1a" stroke-width="1.1"/>
<text x="253.62" y="501.70" font-size="10" text-anchor="middle" font-weight="bold" fill="#111"  stroke="#111" stroke-width="0.28">800</text>
<line x1="278.96" y1="486.30" x2="278.96" y2="488.70" stroke="#1a1a1a" stroke-width="1.1"/>
<line x1="304.30" y1="486.30" x2="304.30" y2="490.70" stroke="#1a1a1a" stroke-width="1.1"/>
<text x="304.30" y="501.70" font-size="10" text-anchor="middle" font-weight="bold" fill="#111"  stroke="#111" stroke-width="0.28">1000</text>
<line x1="329.64" y1="486.30" x2="329.64" y2="488.70" stroke="#1a1a1a" stroke-width="1.1"/>
<line x1="45.80" y1="480.40" x2="41.40" y2="480.40" stroke="#1a1a1a" stroke-width="1.1"/>
<text x="38.20" y="484.00" font-size="10" text-anchor="end" font-weight="bold" fill="#111"  stroke="#111" stroke-width="0.28">0</text>
<line x1="45.80" y1="459.99" x2="43.40" y2="459.99" stroke="#1a1a1a" stroke-width="1.1"/>
<line x1="45.80" y1="439.58" x2="41.40" y2="439.58" stroke="#1a1a1a" stroke-width="1.1"/>
<text x="38.20" y="443.18" font-size="10" text-anchor="end" font-weight="bold" fill="#111"  stroke="#111" stroke-width="0.28">20</text>
<line x1="45.80" y1="419.16" x2="43.40" y2="419.16" stroke="#1a1a1a" stroke-width="1.1"/>
<line x1="45.80" y1="398.75" x2="41.40" y2="398.75" stroke="#1a1a1a" stroke-width="1.1"/>
<text x="38.20" y="402.35" font-size="10" text-anchor="end" font-weight="bold" fill="#111"  stroke="#111" stroke-width="0.28">40</text>
<line x1="45.80" y1="378.34" x2="43.40" y2="378.34" stroke="#1a1a1a" stroke-width="1.1"/>
<line x1="45.80" y1="357.93" x2="41.40" y2="357.93" stroke="#1a1a1a" stroke-width="1.1"/>
<text x="38.20" y="361.53" font-size="10" text-anchor="end" font-weight="bold" fill="#111"  stroke="#111" stroke-width="0.28">60</text>
<line x1="45.80" y1="337.52" x2="43.40" y2="337.52" stroke="#1a1a1a" stroke-width="1.1"/>
<line x1="45.80" y1="317.10" x2="41.40" y2="317.10" stroke="#1a1a1a" stroke-width="1.1"/>
<text x="38.20" y="320.70" font-size="10" text-anchor="end" font-weight="bold" fill="#111"  stroke="#111" stroke-width="0.28">80</text>
<line x1="45.80" y1="296.69" x2="43.40" y2="296.69" stroke="#1a1a1a" stroke-width="1.1"/>
<line x1="45.80" y1="276.28" x2="41.40" y2="276.28" stroke="#1a1a1a" stroke-width="1.1"/>
<text x="38.20" y="279.88" font-size="10" text-anchor="end" font-weight="bold" fill="#111"  stroke="#111" stroke-width="0.28">100</text>
<rect x="45.80" y="276.30" width="283.80" height="210.00" fill="none" stroke="#1a1a1a" stroke-width="1.1"/>
<text x="5.00" y="274.60" font-size="19.5" text-anchor="start" font-weight="bold" fill="#111"  stroke="#111" stroke-width="0.28">c</text>
<text x="175.40" y="514.60" font-size="11.1" text-anchor="middle" font-weight="bold" fill="#111"  stroke="#111" stroke-width="0.28">Lifetime (ms)</text>
<text transform="translate(22.8,374) rotate(-90)" font-size="11.2" text-anchor="middle" font-weight="bold" fill="#111" stroke="#111" stroke-width="0.28">QY (%)</text>
<line x1="57.3" y1="474.4" x2="287.5" y2="322.4" stroke="url(#arr)" stroke-width="2.4"/>
<path d="M292.9,318.8 L284.6,319.3 L289.9,325.4 Z" fill="#4a58f4"/>
<circle cx="50.75" cy="477.8" r="5.1" fill="url(#sphK)"/>
<circle cx="298.5" cy="313.3" r="5.5" fill="url(#sphB)"/>
<text x="62.60" y="482.00" font-size="14" text-anchor="start" font-weight="normal" fill="#1a1a1a" >VB10</text>
<text x="101.20" y="482.00" font-size="13.7" text-anchor="start" font-weight="bold" fill="#1a1a1a"  stroke="#1a1a1a" stroke-width="0.28">(1.35 ns, 1.8%)</text>
<text x="207.00" y="317.60" font-size="13.9" text-anchor="start" font-weight="normal" fill="#1a1a1a" >VB10@α-CD</text>
<text x="206.40" y="298.50" font-size="13.8" text-anchor="start" font-weight="bold" fill="#3a3af0"  stroke="#3a3af0" stroke-width="0.28">(977 ms, 82.1%)</text>
<line x1="425.10" y1="485.80" x2="425.10" y2="489.60" stroke="#5a5a5a" stroke-width="1.4"/>
<text x="425.10" y="499.70" font-size="9.7" text-anchor="middle" font-weight="bold" fill="#111"  stroke="#111" stroke-width="0.28">350</text>
<line x1="475.20" y1="485.80" x2="475.20" y2="489.60" stroke="#5a5a5a" stroke-width="1.4"/>
<text x="475.20" y="499.70" font-size="9.7" text-anchor="middle" font-weight="bold" fill="#111"  stroke="#111" stroke-width="0.28">400</text>
<line x1="525.30" y1="485.80" x2="525.30" y2="489.60" stroke="#5a5a5a" stroke-width="1.4"/>
<text x="525.30" y="499.70" font-size="9.7" text-anchor="middle" font-weight="bold" fill="#111"  stroke="#111" stroke-width="0.28">450</text>
<line x1="575.40" y1="485.80" x2="575.40" y2="489.60" stroke="#5a5a5a" stroke-width="1.4"/>
<text x="575.40" y="499.70" font-size="9.7" text-anchor="middle" font-weight="bold" fill="#111"  stroke="#111" stroke-width="0.28">500</text>
<line x1="625.50" y1="485.80" x2="625.50" y2="489.60" stroke="#5a5a5a" stroke-width="1.4"/>
<text x="625.50" y="499.70" font-size="9.7" text-anchor="middle" font-weight="bold" fill="#111"  stroke="#111" stroke-width="0.28">550</text>
<line x1="675.60" y1="485.80" x2="675.60" y2="489.60" stroke="#5a5a5a" stroke-width="1.4"/>
<text x="675.60" y="499.70" font-size="9.7" text-anchor="middle" font-weight="bold" fill="#111"  stroke="#111" stroke-width="0.28">600</text>
<line x1="388.80" y1="381.50" x2="384.40" y2="381.50" stroke="#5a5a5a" stroke-width="1.4"/>
<line x1="388.80" y1="355.27" x2="386.40" y2="355.27" stroke="#5a5a5a" stroke-width="1.4"/>
<line x1="388.80" y1="329.05" x2="384.40" y2="329.05" stroke="#5a5a5a" stroke-width="1.4"/>
<text x="382.50" y="332.45" font-size="9.5" text-anchor="end" font-weight="bold" fill="#111"  stroke="#111" stroke-width="0.28">0.1</text>
<line x1="388.80" y1="302.82" x2="386.40" y2="302.82" stroke="#5a5a5a" stroke-width="1.4"/>
<line x1="388.80" y1="276.60" x2="384.40" y2="276.60" stroke="#5a5a5a" stroke-width="1.4"/>
<text x="382.50" y="280.00" font-size="9.5" text-anchor="end" font-weight="bold" fill="#111"  stroke="#111" stroke-width="0.28">0.2</text>
<text x="382.50" y="384.10" font-size="9.5" text-anchor="end" font-weight="bold" fill="#111"  stroke="#111" stroke-width="0.28">0.0</text>
<line x1="388.80" y1="485.80" x2="384.40" y2="485.80" stroke="#5a5a5a" stroke-width="1.4"/>
<text x="382.50" y="489.20" font-size="9.5" text-anchor="end" font-weight="bold" fill="#111"  stroke="#111" stroke-width="0.28">0</text>
<line x1="388.80" y1="462.65" x2="386.40" y2="462.65" stroke="#5a5a5a" stroke-width="1.4"/>
<line x1="388.80" y1="439.50" x2="384.40" y2="439.50" stroke="#5a5a5a" stroke-width="1.4"/>
<text x="382.50" y="442.90" font-size="9.5" text-anchor="end" font-weight="bold" fill="#111"  stroke="#111" stroke-width="0.28">10</text>
<line x1="388.80" y1="416.35" x2="386.40" y2="416.35" stroke="#5a5a5a" stroke-width="1.4"/>
<line x1="388.80" y1="393.20" x2="384.40" y2="393.20" stroke="#5a5a5a" stroke-width="1.4"/>
<text x="382.50" y="396.60" font-size="9.5" text-anchor="end" font-weight="bold" fill="#111"  stroke="#111" stroke-width="0.28">20</text>
<rect x="388.80" y="276.50" width="286.80" height="209.30" fill="none" stroke="#5a5a5a" stroke-width="1.4"/>
<line x1="388.80" y1="381.50" x2="675.60" y2="381.50" stroke="#2a2a2a" stroke-width="1.1"/>
<text x="354.60" y="275.40" font-size="19.3" text-anchor="start" font-weight="bold" fill="#111"  stroke="#111" stroke-width="0.28">d</text>
<text x="532.20" y="516.60" font-size="10" text-anchor="middle" font-weight="bold" fill="#111"  stroke="#111" stroke-width="0.28">Wavelength (nm)</text>
<text transform="translate(360.8,426.7) rotate(-90)" font-size="10.2" text-anchor="middle" font-weight="bold" fill="#111" stroke="#111" stroke-width="0.28">DC (V)</text>
<text transform="translate(358.4,322.7) rotate(-90)" font-size="10.1" text-anchor="middle" font-weight="bold" fill="#111" stroke="#111" stroke-width="0.28">CPL (mdeg)</text>
<path d="M389.20,380.00 L389.70,380.00 L390.20,380.00 L390.70,380.00 L391.20,380.00 L391.70,380.00 L392.20,380.00 L392.70,380.00 L393.20,380.00 L393.70,380.00 L394.20,380.00 L394.70,380.00 L395.20,380.00 L395.70,380.00 L396.20,380.00 L396.70,380.00 L397.20,380.00 L397.70,380.00 L398.20,380.00 L398.70,380.00 L399.20,380.00 L399.70,380.00 L400.20,380.00 L400.70,380.00 L401.20,380.00 L401.70,380.00 L402.20,380.00 L402.70,380.00 L403.20,380.00 L403.70,380.00 L404.20,380.00 L404.70,380.00 L405.20,380.00 L405.70,380.00 L406.20,380.00 L406.70,380.00 L407.20,380.00 L407.70,380.00 L408.20,380.00 L408.70,380.00 L409.20,380.00 L409.70,380.00 L410.20,380.00 L410.70,380.00 L411.20,380.00 L411.70,380.00 L412.20,380.00 L412.70,380.00 L413.20,380.00 L413.70,380.00 L414.20,380.00 L414.70,380.00 L415.20,380.00 L415.70,380.00 L416.20,380.00 L416.70,380.00 L417.20,380.00 L417.70,380.00 L418.20,380.00 L418.70,380.00 L419.20,380.00 L419.70,380.00 L420.20,380.00 L420.70,380.00 L421.20,380.00 L421.70,380.00 L422.20,380.00 L422.70,380.00 L423.20,380.00 L423.70,380.00 L424.20,380.00 L424.70,380.00 L425.20,380.00 L425.70,380.00 L426.20,380.00 L426.70,380.00 L427.20,380.00 L427.70,380.00 L428.20,380.00 L428.70,380.00 L429.20,380.00 L429.70,380.00 L430.20,380.00 L430.70,380.00 L431.20,380.00 L431.70,380.00 L432.20,379.99 L432.70,379.99 L433.20,379.99 L433.70,379.98 L434.20,379.98 L434.70,379.97 L435.20,379.97 L435.70,379.96 L436.20,379.96 L436.70,379.95 L437.20,379.94 L437.70,379.93 L438.20,379.93 L438.70,379.92 L439.20,379.91 L439.70,379.90 L440.20,379.90 L440.70,379.89 L441.20,379.88 L441.70,379.87 L442.20,379.86 L442.70,379.85 L443.20,379.83 L443.70,379.82 L444.20,379.81 L444.70,379.79 L445.20,379.77 L445.70,379.76 L446.20,379.74 L446.70,379.72 L447.20,379.69 L447.70,379.67 L448.20,379.64 L448.70,379.62 L449.20,379.59 L449.70,379.56 L450.20,379.54 L450.70,379.53 L451.20,379.50 L451.70,379.46 L452.20,379.41 L452.70,379.34 L453.20,379.26 L453.70,379.16 L454.20,379.05 L454.70,378.93 L455.20,378.80 L455.70,378.66 L456.20,378.50 L456.70,378.33 L457.20,378.14 L457.70,377.93 L458.20,377.69 L458.70,377.43 L459.20,377.14 L459.70,376.83 L460.20,376.51 L460.70,376.16 L461.20,375.80 L461.70,375.42 L462.20,375.02 L462.70,374.61 L463.20,374.17 L463.70,373.72 L464.20,373.24 L464.70,372.74 L465.20,372.22 L465.70,371.69 L466.20,371.15 L466.70,370.58 L467.20,370.00 L467.70,369.41 L468.20,368.79 L468.70,368.16 L469.20,367.51 L469.70,366.84 L470.20,366.15 L470.70,365.45 L471.20,364.73 L471.70,363.99 L472.20,363.23 L472.70,362.46 L473.20,361.67 L473.70,360.86 L474.20,360.03 L474.70,359.19 L475.20,358.32 L475.70,357.44 L476.20,356.54 L476.70,355.62 L477.20,354.69 L477.70,353.74 L478.20,352.77 L478.70,351.78 L479.20,350.77 L479.70,349.74 L480.20,348.70 L480.70,347.64 L481.20,346.56 L481.70,345.47 L482.20,344.36 L482.70,343.24 L483.20,342.10 L483.70,340.95 L484.20,339.79 L484.70,338.63 L485.20,337.45 L485.70,336.27 L486.20,335.07 L486.70,333.88 L487.20,332.68 L487.70,331.47 L488.20,330.26 L488.70,329.06 L489.20,327.85 L489.70,326.64 L490.20,325.43 L490.70,324.22 L491.20,323.02 L491.70,321.83 L492.20,320.63 L492.70,319.45 L493.20,318.27 L493.70,317.10 L494.20,315.94 L494.70,314.78 L495.20,313.64 L495.70,312.51 L496.20,311.39 L496.70,310.29 L497.20,309.20 L497.70,308.12 L498.20,307.06 L498.70,306.01 L499.20,304.99 L499.70,303.98 L500.20,302.99 L500.70,302.02 L501.20,301.07 L501.70,300.14 L502.20,299.24 L502.70,298.36 L503.20,297.50 L503.70,296.66 L504.20,295.84 L504.70,295.04 L505.20,294.27 L505.70,293.52 L506.20,292.78 L506.70,292.08 L507.20,291.39 L507.70,290.72 L508.20,290.08 L508.70,289.45 L509.20,288.85 L509.70,288.27 L510.20,287.71 L510.70,287.18 L511.20,286.66 L511.70,286.16 L512.20,285.69 L512.70,285.24 L513.20,284.81 L513.70,284.40 L514.20,284.01 L514.70,283.64 L515.20,283.29 L515.70,282.97 L516.20,282.66 L516.70,282.38 L517.20,282.11 L517.70,281.87 L518.20,281.65 L518.70,281.45 L519.20,281.27 L519.70,281.11 L520.20,280.97 L520.70,280.85 L521.20,280.76 L521.70,280.68 L522.20,280.62 L522.70,280.59 L523.20,280.57 L523.70,280.58 L524.20,280.60 L524.70,280.65 L525.20,280.72 L525.70,280.80 L526.20,280.91 L526.70,281.04 L527.20,281.19 L527.70,281.35 L528.20,281.54 L528.70,281.75 L529.20,281.97 L529.70,282.22 L530.20,282.48 L530.70,282.76 L531.20,283.06 L531.70,283.38 L532.20,283.71 L532.70,284.06 L533.20,284.42 L533.70,284.80 L534.20,285.20 L534.70,285.61 L535.20,286.03 L535.70,286.47 L536.20,286.93 L536.70,287.40 L537.20,287.88 L537.70,288.37 L538.20,288.88 L538.70,289.40 L539.20,289.93 L539.70,290.47 L540.20,291.02 L540.70,291.58 L541.20,292.16 L541.70,292.74 L542.20,293.33 L542.70,293.94 L543.20,294.55 L543.70,295.17 L544.20,295.79 L544.70,296.43 L545.20,297.07 L545.70,297.72 L546.20,298.38 L546.70,299.05 L547.20,299.72 L547.70,300.39 L548.20,301.07 L548.70,301.76 L549.20,302.45 L549.70,303.14 L550.20,303.84 L550.70,304.54 L551.20,305.25 L551.70,305.96 L552.20,306.67 L552.70,307.38 L553.20,308.09 L553.70,308.81 L554.20,309.52 L554.70,310.24 L555.20,310.96 L555.70,311.68 L556.20,312.39 L556.70,313.11 L557.20,313.82 L557.70,314.54 L558.20,315.25 L558.70,315.96 L559.20,316.66 L559.70,317.37 L560.20,318.07 L560.70,318.76 L561.20,319.46 L561.70,320.14 L562.20,320.83 L562.70,321.51 L563.20,322.18 L563.70,322.85 L564.20,323.51 L564.70,324.17 L565.20,324.82 L565.70,325.47 L566.20,326.12 L566.70,326.76 L567.20,327.39 L567.70,328.02 L568.20,328.64 L568.70,329.26 L569.20,329.87 L569.70,330.48 L570.20,331.09 L570.70,331.69 L571.20,332.28 L571.70,332.87 L572.20,333.45 L572.70,334.03 L573.20,334.61 L573.70,335.18 L574.20,335.74 L574.70,336.30 L575.20,336.86 L575.70,337.41 L576.20,337.95 L576.70,338.49 L577.20,339.03 L577.70,339.56 L578.20,340.08 L578.70,340.60 L579.20,341.12 L579.70,341.63 L580.20,342.13 L580.70,342.63 L581.20,343.13 L581.70,343.62 L582.20,344.11 L582.70,344.59 L583.20,345.06 L583.70,345.54 L584.20,346.00 L584.70,346.46 L585.20,346.92 L585.70,347.37 L586.20,347.82 L586.70,348.26 L587.20,348.70 L587.70,349.13 L588.20,349.56 L588.70,349.98 L589.20,350.40 L589.70,350.81 L590.20,351.22 L590.70,351.63 L591.20,352.02 L591.70,352.42 L592.20,352.81 L592.70,353.19 L593.20,353.57 L593.70,353.95 L594.20,354.32 L594.70,354.68 L595.20,355.04 L595.70,355.40 L596.20,355.75 L596.70,356.10 L597.20,356.45 L597.70,356.78 L598.20,357.12 L598.70,357.45 L599.20,357.78 L599.70,358.10 L600.20,358.42 L600.70,358.73 L601.20,359.04 L601.70,359.34 L602.20,359.65 L602.70,359.94 L603.20,360.24 L603.70,360.52 L604.20,360.81 L604.70,361.09 L605.20,361.37 L605.70,361.64 L606.20,361.91 L606.70,362.18 L607.20,362.44 L607.70,362.70 L608.20,362.95 L608.70,363.20 L609.20,363.45 L609.70,363.69 L610.20,363.93 L610.70,364.17 L611.20,364.40 L611.70,364.63 L612.20,364.86 L612.70,365.08 L613.20,365.30 L613.70,365.52 L614.20,365.73 L614.70,365.94 L615.20,366.15 L615.70,366.35 L616.20,366.55 L616.70,366.75 L617.20,366.94 L617.70,367.13 L618.20,367.32 L618.70,367.50 L619.20,367.69 L619.70,367.86 L620.20,368.04 L620.70,368.21 L621.20,368.38 L621.70,368.55 L622.20,368.71 L622.70,368.88 L623.20,369.03 L623.70,369.19 L624.20,369.34 L624.70,369.50 L625.20,369.64 L625.70,369.79 L626.20,369.93 L626.70,370.07 L627.20,370.21 L627.70,370.35 L628.20,370.48 L628.70,370.61 L629.20,370.74 L629.70,370.87 L630.20,370.99 L630.70,371.11 L631.20,371.23 L631.70,371.35 L632.20,371.47 L632.70,371.58 L633.20,371.69 L633.70,371.80 L634.20,371.91 L634.70,372.01 L635.20,372.12 L635.70,372.22 L636.20,372.32 L636.70,372.42 L637.20,372.51 L637.70,372.61 L638.20,372.70 L638.70,372.79 L639.20,372.88 L639.70,372.97 L640.20,373.05 L640.70,373.14 L641.20,373.22 L641.70,373.30 L642.20,373.38 L642.70,373.46 L643.20,373.54 L643.70,373.61 L644.20,373.69 L644.70,373.76 L645.20,373.83 L645.70,373.90 L646.20,373.97 L646.70,374.04 L647.20,374.10 L647.70,374.17 L648.20,374.23 L648.70,374.30 L649.20,374.36 L649.70,374.42 L650.20,374.48 L650.70,374.54 L651.20,374.60 L651.70,374.66 L652.20,374.71 L652.70,374.77 L653.20,374.83 L653.70,374.88 L654.20,374.93 L654.70,374.99 L655.20,375.04 L655.70,375.09 L656.20,375.14 L656.70,375.20 L657.20,375.25 L657.70,375.30 L658.20,375.35 L658.70,375.39 L659.20,375.44 L659.70,375.49 L660.20,375.54 L660.70,375.59 L661.20,375.64 L661.70,375.68 L662.20,375.73 L662.70,375.78 L663.20,375.82 L663.70,375.87 L664.20,375.92 L664.70,375.96 L665.20,376.01 L665.70,376.06 L666.20,376.11 L666.70,376.15 L667.20,376.20 L667.70,376.25 L668.20,376.30 L668.70,376.34 L669.20,376.39 L669.70,376.44 L670.20,376.49 L670.70,376.54 L671.20,376.59 L671.70,376.64 L672.20,376.69 L672.70,376.74 L673.20,376.79 L673.70,376.84 L674.20,376.90 L674.70,376.95 L675.20,377.00" fill="none" stroke="#1a1aff" stroke-width="1.8" stroke-linejoin="round" stroke-linecap="round" />
<path d="M389.20,482.57 L389.41,482.49 L389.63,482.45 L389.87,482.35 L390.12,482.30 L390.39,482.27 L390.67,482.23 L390.96,482.14 L391.26,482.01 L391.58,481.97 L391.91,481.96 L392.25,482.02 L392.60,482.16 L392.96,482.36 L393.33,482.55 L393.70,482.69 L394.09,482.79 L394.49,482.85 L394.89,482.76 L395.30,482.67 L395.72,482.55 L396.15,482.54 L396.58,482.64 L397.01,482.78 L397.45,482.93 L397.90,483.03 L398.35,483.12 L398.80,483.28 L399.26,483.44 L399.72,483.71 L400.18,483.93 L400.65,484.08 L401.11,484.13 L401.58,484.09 L402.04,483.98 L402.51,483.84 L402.98,483.79 L403.44,483.79 L403.91,483.70 L404.37,483.52 L404.83,483.27 L405.29,483.08 L405.74,482.93 L406.19,482.93 L406.64,482.90 L407.08,482.76 L407.51,482.53 L407.94,482.30 L408.37,482.13 L408.79,482.05 L409.20,482.11 L409.60,482.26 L410.00,482.24 L410.41,482.16 L410.81,482.07 L411.22,482.04 L411.63,482.05 L412.03,482.10 L412.44,482.19 L412.84,482.23 L413.25,482.28 L413.65,482.42 L414.05,482.62 L414.45,482.93 L414.86,483.18 L415.26,483.38 L415.66,483.43 L416.06,483.36 L416.46,483.14 L416.86,482.96 L417.26,482.77 L417.66,482.70 L418.06,482.71 L418.46,482.95 L418.86,483.23 L419.25,483.46 L419.65,483.44 L420.05,483.24 L420.45,482.85 L420.85,482.44 L421.24,482.16 L421.64,482.12 L422.04,482.31 L422.44,482.63 L422.83,482.93 L423.23,483.17 L423.63,483.18 L424.03,483.10 L424.42,483.09 L424.82,483.11 L425.22,483.23 L425.62,483.31 L426.01,483.37 L426.41,483.36 L426.81,483.32 L427.21,483.29 L427.61,483.25 L428.00,483.27 L428.40,483.33 L428.80,483.42 L429.20,483.46 L429.60,483.42 L430.00,483.26 L430.40,483.22 L430.81,483.39 L431.22,483.60 L431.63,483.84 L432.05,483.98 L432.47,483.88 L432.90,483.61 L433.32,483.32 L433.75,483.09 L434.18,482.92 L434.62,482.90 L435.05,483.05 L435.49,483.28 L435.92,483.56 L436.36,483.86 L436.80,484.15 L437.24,484.39 L437.68,484.53 L438.11,484.45 L438.55,484.17 L438.99,483.81 L439.42,483.33 L439.86,482.95 L440.29,482.67 L440.72,482.58 L441.15,482.60 L441.57,482.68 L441.99,482.75 L442.41,482.77 L442.83,482.75 L443.24,482.81 L443.65,482.93 L444.05,483.21 L444.45,483.42 L444.85,483.49 L445.23,483.37 L445.62,483.13 L446.00,482.89 L446.37,482.76 L446.74,482.85 L447.10,483.02 L447.45,483.19 L447.80,483.35 L448.13,483.43 L448.47,483.45 L448.79,483.38 L449.10,483.21 L449.41,482.96 L449.71,482.78 L450.00,482.72 L450.65,482.75 L451.26,482.84 L451.82,482.90 L452.34,482.82 L452.82,482.64 L453.27,482.43 L453.69,482.27 L454.08,482.20 L454.45,482.22 L454.80,482.22 L455.14,482.15 L455.47,482.08 L455.79,481.93 L456.10,481.78 L456.41,481.67 L456.73,481.58 L457.06,481.43 L457.39,481.31 L457.74,481.21 L458.11,481.14 L458.50,481.10 L458.89,481.02 L459.28,480.82 L459.67,480.59 L460.06,480.31 L460.46,480.18 L460.85,480.10 L461.25,480.11 L461.65,480.14 L462.05,480.03 L462.44,479.90 L462.84,479.72 L463.23,479.50 L463.62,479.27 L464.00,478.96 L464.39,478.71 L464.76,478.55 L465.14,478.45 L465.50,478.55 L465.86,478.69 L466.22,478.64 L466.56,478.47 L466.90,478.20 L467.30,477.84 L467.70,477.47 L468.09,477.12 L468.48,476.88 L468.86,476.65 L469.23,476.43 L469.59,476.15 L469.95,475.77 L470.31,475.36 L470.65,474.97 L470.99,474.76 L471.33,474.65 L471.65,474.59 L471.97,474.46 L472.29,474.26 L472.60,473.91 L472.90,473.58 L473.20,473.31 L473.50,473.07 L473.79,472.82 L474.07,472.65 L474.33,472.53 L474.58,472.43 L474.83,472.38 L475.07,472.33 L475.30,472.15 L475.53,471.94 L475.77,471.69 L476.00,471.38 L476.23,471.03 L476.47,470.66 L476.71,470.31 L476.97,469.98 L477.23,469.69 L477.50,469.30 L477.70,468.98 L477.90,468.59 L478.11,468.26 L478.31,467.98 L478.52,467.71 L478.73,467.42 L478.95,466.99 L479.16,466.42 L479.38,465.92 L479.60,465.46 L479.82,465.12 L480.04,464.82 L480.26,464.52 L480.48,464.18 L480.70,463.78 L480.93,463.36 L481.15,462.92 L481.37,462.41 L481.59,461.91 L481.82,461.48 L482.04,461.09 L482.26,460.83 L482.48,460.60 L482.70,460.31 L482.87,460.06 L483.04,459.83 L483.21,459.54 L483.38,459.27 L483.55,458.99 L483.72,458.65 L483.89,458.22 L484.06,457.73 L484.23,457.30 L484.40,456.89 L484.57,456.51 L484.74,456.14 L484.92,455.73 L485.09,455.31 L485.26,454.96 L485.43,454.62 L485.60,454.35 L485.77,454.14 L485.94,453.92 L486.12,453.66 L486.29,453.31 L486.46,452.90 L486.63,452.34 L486.80,451.69 L486.97,451.03 L487.14,450.37 L487.32,449.83 L487.49,449.47 L487.66,449.25 L487.83,449.18 L488.00,449.12 L488.15,449.10 L488.29,448.90 L488.44,448.63 L488.59,448.26 L488.74,447.81 L488.88,447.35 L489.03,446.82 L489.18,446.15 L489.32,445.46 L489.47,444.86 L489.62,444.49 L489.77,444.26 L489.91,444.10 L490.06,443.89 L490.21,443.45 L490.36,442.87 L490.50,442.18 L490.65,441.44 L490.80,440.84 L490.94,440.35 L491.09,440.18 L491.24,440.25 L491.39,440.30 L491.53,440.25 L491.68,439.96 L491.83,439.50 L491.98,438.87 L492.12,438.21 L492.27,437.69 L492.42,437.17 L492.56,436.73 L492.71,436.43 L492.86,436.16 L493.01,435.87 L493.15,435.49 L493.30,435.04 L493.42,434.53 L493.54,433.90 L493.66,433.30 L493.78,432.72 L493.90,432.24 L494.02,431.90 L494.14,431.65 L494.26,431.51 L494.38,431.35 L494.50,431.14 L494.62,430.87 L494.75,430.50 L494.87,430.00 L494.99,429.40 L495.11,428.78 L495.23,428.16 L495.35,427.54 L495.47,426.97 L495.59,426.51 L495.71,426.11 L495.83,425.88 L495.95,425.75 L496.07,425.68 L496.19,425.62 L496.31,425.42 L496.43,425.15 L496.55,424.76 L496.67,424.24 L496.79,423.73 L496.91,423.17 L497.03,422.59 L497.15,422.05 L497.28,421.54 L497.40,421.21 L497.52,420.95 L497.64,420.75 L497.76,420.51 L497.88,420.13 L498.00,419.68 L498.12,419.24 L498.24,418.85 L498.36,418.65 L498.48,418.51 L498.60,418.40 L498.82,418.05 L499.05,417.65 L499.27,417.19 L499.50,416.65 L499.72,416.04 L499.95,415.40 L500.18,414.87 L500.41,414.53 L500.64,414.37 L500.86,414.27 L501.09,414.17 L501.32,413.94 L501.54,413.58 L501.77,413.20 L501.99,412.84 L502.21,412.51 L502.43,412.15 L502.65,411.72 L502.87,411.28 L503.08,410.81 L503.29,410.44 L503.50,410.16 L503.70,409.94 L503.90,409.75 L504.09,409.54 L504.27,409.24 L504.46,408.92 L504.63,408.56 L504.81,408.14 L504.98,407.61 L505.16,407.12 L505.33,406.68 L505.49,406.25 L505.66,405.91 L505.82,405.62 L505.99,405.30 L506.15,404.91 L506.31,404.48 L506.47,404.04 L506.63,403.66 L506.79,403.39 L506.96,403.18 L507.12,402.90 L507.28,402.56 L507.44,402.14 L507.60,401.60 L507.77,401.04 L507.93,400.54 L508.10,400.05 L508.31,399.50 L508.52,398.92 L508.73,398.42 L508.94,397.94 L509.15,397.57 L509.36,397.33 L509.57,397.15 L509.78,396.91 L509.98,396.56 L510.19,396.06 L510.40,395.56 L510.61,395.05 L510.82,394.67 L511.03,394.34 L511.24,394.14 L511.45,393.89 L511.66,393.70 L511.88,393.52 L512.09,393.39 L512.30,393.23 L512.69,393.08 L513.09,392.98 L513.50,392.99 L513.91,393.04 L514.32,393.20 L514.72,393.35 L515.12,393.56 L515.51,393.85 L515.89,394.20 L516.25,394.48 L516.60,394.70 L516.92,394.73 L517.21,394.63 L517.47,394.35 L517.72,393.91 L517.97,393.42 L518.21,392.78 L518.46,392.08 L518.73,391.32 L519.02,390.66 L519.34,390.28 L519.70,390.09 L520.04,390.16 L520.39,390.24 L520.77,390.19 L521.17,390.11 L521.58,389.93 L522.00,389.78 L522.43,389.69 L522.86,389.59 L523.30,389.50 L523.73,389.33 L524.16,389.20 L524.59,389.10 L525.00,389.05 L525.33,389.10 L525.64,389.14 L525.95,389.18 L526.25,389.28 L526.55,389.42 L526.85,389.58 L527.15,389.74 L527.46,389.96 L527.77,390.25 L528.09,390.64 L528.41,391.21 L528.76,391.82 L529.11,392.42 L529.49,393.00 L529.88,393.51 L530.30,394.01 L530.48,394.22 L530.67,394.46 L530.86,394.70 L531.05,394.85 L531.25,394.95 L531.45,395.02 L531.66,395.09 L531.86,395.24 L532.07,395.54 L532.29,395.92 L532.50,396.43 L532.72,396.93 L532.94,397.38 L533.16,397.72 L533.39,398.00 L533.61,398.32 L533.84,398.72 L534.07,399.08 L534.30,399.42 L534.53,399.60 L534.76,399.86 L535.00,400.27 L535.23,400.87 L535.47,401.60 L535.70,402.17 L535.93,402.50 L536.17,402.61 L536.40,402.64 L536.64,402.84 L536.87,403.35 L537.10,404.09 L537.34,404.89 L537.57,405.51 L537.80,405.90 L538.02,406.03 L538.25,406.14 L538.48,406.31 L538.70,406.56 L538.89,406.78 L539.08,407.06 L539.27,407.34 L539.46,407.72 L539.65,408.26 L539.85,408.86 L540.04,409.32 L540.23,409.65 L540.43,409.86 L540.62,410.01 L540.82,410.10 L541.02,410.23 L541.21,410.46 L541.41,410.91 L541.61,411.55 L541.80,412.28 L542.00,412.94 L542.20,413.48 L542.40,413.84 L542.59,414.18 L542.79,414.50 L542.98,414.88 L543.18,415.26 L543.37,415.71 L543.57,416.10 L543.76,416.46 L543.95,416.75 L544.15,416.97 L544.34,417.13 L544.53,417.33 L544.71,417.60 L544.90,417.90 L545.09,418.17 L545.27,418.50 L545.46,418.89 L545.64,419.38 L545.82,419.80 L546.00,420.17 L546.18,420.37 L546.35,420.46 L546.53,420.53 L546.70,420.68 L546.87,420.89 L547.03,421.25 L547.20,421.68 L547.48,422.39 L547.76,423.08 L548.03,423.81 L548.29,424.42 L548.55,424.97 L548.80,425.40 L549.05,425.74 L549.30,425.98 L549.54,426.13 L549.78,426.21 L550.02,426.20 L550.25,426.14 L550.48,426.16 L550.71,426.32 L550.94,426.60 L551.17,426.96 L551.40,427.38 L551.63,427.86 L551.85,428.37 L552.08,428.84 L552.32,429.21 L552.55,429.43 L552.78,429.50 L553.02,429.57 L553.26,429.73 L553.50,430.11 L553.69,430.57 L553.87,431.17 L554.06,431.76 L554.24,432.26 L554.42,432.63 L554.60,432.93 L554.79,433.14 L554.97,433.38 L555.15,433.62 L555.33,433.85 L555.51,434.09 L555.69,434.42 L555.87,434.81 L556.05,435.29 L556.24,435.81 L556.42,436.39 L556.60,436.93 L556.78,437.42 L556.97,437.96 L557.15,438.55 L557.34,439.23 L557.53,439.77 L557.71,440.12 L557.90,440.24 L558.10,440.20 L558.29,440.12 L558.48,440.19 L558.68,440.46 L558.88,440.91 L559.08,441.47 L559.28,442.14 L559.48,442.61 L559.69,442.97 L559.90,443.23 L560.21,443.60 L560.53,443.93 L560.85,444.20 L561.17,444.40 L561.50,444.46 L561.83,444.40 L562.17,444.42 L562.51,444.55 L562.85,444.78 L563.19,445.01 L563.53,445.26 L563.88,445.54 L564.23,445.85 L564.58,446.18 L564.93,446.53 L565.29,446.78 L565.64,446.93 L566.00,446.96 L566.36,447.01 L566.72,447.15 L567.08,447.46 L567.44,447.91 L567.80,448.42 L568.06,448.75 L568.33,449.03 L568.59,449.21 L568.86,449.37 L569.13,449.57 L569.41,449.86 L569.69,450.30 L569.96,450.86 L570.24,451.45 L570.52,451.92 L570.81,452.18 L571.09,452.30 L571.37,452.32 L571.65,452.39 L571.94,452.70 L572.22,453.19 L572.50,453.77 L572.78,454.32 L573.06,454.70 L573.34,454.88 L573.62,455.03 L573.89,455.25 L574.17,455.54 L574.44,455.87 L574.71,456.24 L574.97,456.58 L575.24,456.91 L575.50,457.23 L575.75,457.53 L576.01,457.76 L576.26,457.90 L576.50,458.00 L576.95,458.18 L577.39,458.29 L577.83,458.36 L578.25,458.47 L578.67,458.67 L579.08,458.92 L579.49,459.24 L579.88,459.51 L580.28,459.67 L580.67,459.67 L581.05,459.59 L581.43,459.48 L581.81,459.39 L582.18,459.40 L582.56,459.55 L582.93,459.87 L583.30,460.24 L583.61,460.52 L583.90,460.68 L584.19,460.72 L584.46,460.76 L584.73,460.91 L584.99,461.18 L585.25,461.47 L585.50,461.72 L585.76,462.00 L586.02,462.12 L586.28,462.20 L586.55,462.25 L586.82,462.39 L587.10,462.65 L587.40,463.08 L587.71,463.67 L588.03,464.24 L588.37,464.77 L588.72,465.16 L589.10,465.33 L589.40,465.25 L589.72,465.12 L590.04,465.05 L590.38,465.16 L590.72,465.47 L591.07,465.88 L591.43,466.25 L591.80,466.51 L592.17,466.60 L592.55,466.64 L592.93,466.62 L593.32,466.67 L593.71,466.77 L594.11,466.86 L594.50,467.03 L594.90,467.20 L595.30,467.43 L595.69,467.75 L596.09,468.06 L596.49,468.34 L596.88,468.45 L597.27,468.52 L597.66,468.59 L598.05,468.68 L598.43,468.93 L598.80,469.24 L599.17,469.62 L599.55,470.01 L599.92,470.31 L600.30,470.54 L600.68,470.67 L601.06,470.69 L601.44,470.74 L601.82,470.87 L602.20,471.16 L602.58,471.49 L602.96,471.88 L603.34,472.29 L603.72,472.64 L604.10,472.88 L604.47,473.03 L604.84,473.02 L605.21,473.06 L605.58,473.11 L605.95,473.18 L606.31,473.36 L606.67,473.61 L607.02,473.85 L607.37,474.08 L607.72,474.38 L608.06,474.68 L608.40,474.91 L608.85,475.10 L609.28,475.17 L609.69,475.11 L610.09,475.10 L610.48,475.11 L610.87,475.12 L611.24,475.02 L611.62,474.89 L611.99,474.76 L612.36,474.72 L612.74,474.79 L613.12,474.89 L613.52,474.90 L613.92,474.75 L614.34,474.45 L614.77,474.30 L615.23,474.31 L615.70,474.45 L616.20,474.52 L616.53,474.43 L616.87,474.26 L617.21,474.14 L617.57,474.19 L617.94,474.44 L618.31,474.80 L618.69,475.13 L619.07,475.28 L619.46,475.31 L619.86,475.25 L620.25,475.24 L620.66,475.28 L621.06,475.44 L621.47,475.65 L621.88,475.89 L622.29,476.12 L622.70,476.32 L623.11,476.39 L623.52,476.43 L623.93,476.39 L624.34,476.33 L624.74,476.25 L625.14,476.25 L625.54,476.30 L625.93,476.43 L626.32,476.59 L626.70,476.75 L627.07,476.89 L627.44,477.05 L627.80,477.32 L628.24,477.70 L628.67,478.16 L629.10,478.58 L629.53,478.86 L629.94,478.96 L630.36,478.87 L630.77,478.65 L631.17,478.43 L631.58,478.27 L631.98,478.21 L632.37,478.24 L632.77,478.28 L633.16,478.27 L633.55,478.19 L633.95,478.04 L634.34,477.87 L634.73,477.74 L635.12,477.69 L635.51,477.71 L635.91,477.81 L636.30,477.99 L636.70,478.14 L637.10,478.30 L637.50,478.47 L637.90,478.61 L638.31,478.67 L638.71,478.66 L639.12,478.54 L639.52,478.42 L639.92,478.37 L640.33,478.47 L640.73,478.65 L641.14,478.85 L641.54,478.96 L641.95,478.97 L642.35,478.82 L642.75,478.68 L643.16,478.59 L643.56,478.69 L643.97,478.88 L644.37,479.17 L644.78,479.47 L645.18,479.76 L645.58,479.95 L645.99,480.06 L646.39,480.15 L646.80,480.21 L647.20,480.32 L647.60,480.43 L648.01,480.53 L648.41,480.58 L648.82,480.53 L649.22,480.42 L649.62,480.32 L650.03,480.30 L650.43,480.38 L650.84,480.55 L651.24,480.80 L651.65,481.03 L652.05,481.20 L652.45,481.37 L652.86,481.37 L653.26,481.30 L653.67,481.12 L654.07,480.95 L654.48,480.78 L654.88,480.79 L655.28,480.97 L655.69,481.25 L656.09,481.47 L656.50,481.68 L656.90,481.76 L657.31,481.73 L657.71,481.67 L658.12,481.55 L658.53,481.38 L658.94,481.12 L659.35,480.87 L659.76,480.65 L660.17,480.51 L660.59,480.39 L661.00,480.31 L661.41,480.20 L661.82,480.21 L662.23,480.29 L662.64,480.52 L663.04,480.80 L663.45,481.05 L663.85,481.11 L664.25,481.07 L664.65,480.88 L665.05,480.63 L665.44,480.38 L665.83,480.20 L666.22,480.06 L666.60,479.94 L667.04,479.86 L667.50,479.86 L667.96,479.93 L668.43,480.03 L668.91,480.01 L669.39,479.79 L669.87,479.52 L670.34,479.21 L670.81,478.99 L671.28,478.97 L671.73,479.14 L672.17,479.37 L672.60,479.66 L673.01,479.96 L673.40,480.32 L673.77,480.62 L674.11,480.94 L674.43,481.16 L674.72,481.24 L674.98,481.28 L675.20,481.28" fill="none" stroke="#111" stroke-width="1.55" stroke-linejoin="round" stroke-linecap="round" />
<text y="306.8" font-size="13.5" font-weight="bold" fill="#111" stroke="#111" stroke-width="0.28"><tspan x="562.8">|</tspan><tspan x="565.6" font-style="italic" font-size="15.5">g</tspan><tspan x="575.0" font-size="8.8" dy="3.1">lum</tspan><tspan x="590.9" dy="-3.1">|=</tspan><tspan x="607.6">7.5</tspan><tspan x="631.0">×</tspan><tspan x="643.6">10</tspan><tspan x="657.2" font-size="9.6" dy="-4.6">-3</tspan></text></svg>
</body></html>
